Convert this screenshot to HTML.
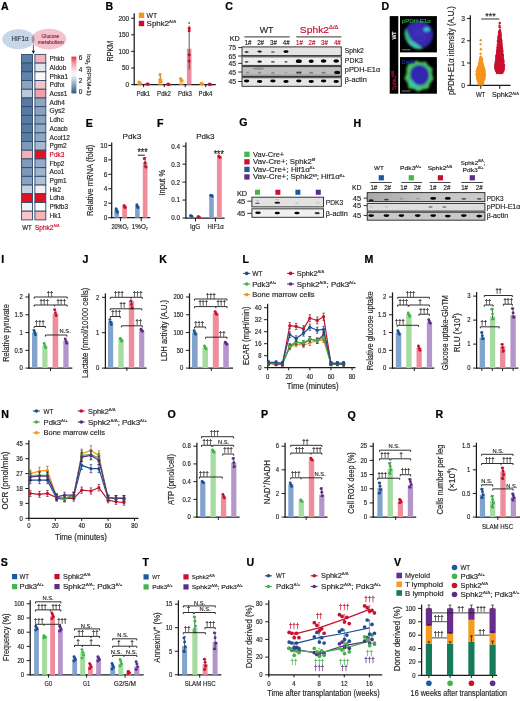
<!DOCTYPE html>
<html lang="en"><head><meta charset="utf-8"><title>Figure</title>
<style>html,body{margin:0;padding:0;background:#fff}svg{display:block}text{font-family:"Liberation Sans",sans-serif}</style></head><body>
<svg width="520" height="701" viewBox="0 0 520 701">
<defs><filter id="bl" x="-5%" y="-50%" width="110%" height="200%"><feGaussianBlur stdDeviation="0.45"/></filter><filter id="bl2" x="-20%" y="-20%" width="140%" height="140%"><feGaussianBlur stdDeviation="0.9"/></filter></defs>
<rect width="520" height="701" fill="#fff"/>
<g>
<text transform="translate(1.00,10.40)" font-size="10.6" fill="#000" font-weight="bold" stroke="#000" stroke-width="0.22">A</text>
<ellipse cx="18.5" cy="39.3" rx="16.2" ry="10.0" fill="#c7d6e8"/>
<ellipse cx="48.9" cy="39.2" rx="17.3" ry="10.4" fill="#f2c3cc"/>
<clipPath id="cpA"><ellipse cx="18.5" cy="39.3" rx="16.2" ry="10.0"/></clipPath>
<ellipse cx="48.9" cy="39.2" rx="17.3" ry="10.4" fill="#a594a6" clip-path="url(#cpA)"/>
<text transform="translate(20.00,41.40) scale(0.8847,1)" font-size="7.0" text-anchor="middle" fill="#2a3848" stroke="#2a3848" stroke-width="0.16">HIF1α</text>
<text transform="translate(50.40,37.60) scale(0.9650,1)" font-size="5.0" text-anchor="middle" fill="#9a2840" stroke="#9a2840" stroke-width="0.16">Glucose</text>
<text transform="translate(50.80,43.80) scale(1.0170,1)" font-size="5.0" text-anchor="middle" fill="#9a2840" stroke="#9a2840" stroke-width="0.16">metabolism</text>
<line x1="33.40" y1="44.50" x2="33.40" y2="51.50" stroke="#1a1a1a" stroke-width="0.7"/>
<path d="M31.9,50.8L34.9,50.8L33.4,54.0Z" fill="#000"/>
<rect x="21.60" y="54.40" width="10.90" height="8.71" fill="#5b7fa6" stroke="#2f4a6b" stroke-width="0.9"/>
<rect x="34.90" y="54.40" width="10.90" height="8.71" fill="#f5b3bb" stroke="#2f4a6b" stroke-width="0.9"/>
<text transform="translate(49.60,61.10) scale(0.9900,1)" font-size="6.6" fill="#231f20" stroke="#231f20" stroke-width="0.16">Phkb</text>
<rect x="21.60" y="63.11" width="10.90" height="8.71" fill="#50739a" stroke="#2f4a6b" stroke-width="0.9"/>
<rect x="34.90" y="63.11" width="10.90" height="8.71" fill="#dfe6ee" stroke="#2f4a6b" stroke-width="0.9"/>
<text transform="translate(49.60,69.81) scale(0.9900,1)" font-size="6.6" fill="#231f20" stroke="#231f20" stroke-width="0.16">Aldob</text>
<rect x="21.60" y="71.82" width="10.90" height="8.71" fill="#6084aa" stroke="#2f4a6b" stroke-width="0.9"/>
<rect x="34.90" y="71.82" width="10.90" height="8.71" fill="#f9f9fa" stroke="#2f4a6b" stroke-width="0.9"/>
<text transform="translate(49.60,78.52) scale(0.9900,1)" font-size="6.6" fill="#231f20" stroke="#231f20" stroke-width="0.16">Phka1</text>
<rect x="21.60" y="80.53" width="10.90" height="8.71" fill="#8ca4c0" stroke="#2f4a6b" stroke-width="0.9"/>
<rect x="34.90" y="80.53" width="10.90" height="8.71" fill="#f5c4ca" stroke="#2f4a6b" stroke-width="0.9"/>
<text transform="translate(49.60,87.23) scale(0.9900,1)" font-size="6.6" fill="#231f20" stroke="#231f20" stroke-width="0.16">Pdhx</text>
<rect x="21.60" y="89.24" width="10.90" height="8.71" fill="#bac9da" stroke="#2f4a6b" stroke-width="0.9"/>
<rect x="34.90" y="89.24" width="10.90" height="8.71" fill="#f09fa8" stroke="#2f4a6b" stroke-width="0.9"/>
<text transform="translate(49.60,95.95) scale(0.9900,1)" font-size="6.6" fill="#231f20" stroke="#231f20" stroke-width="0.16">Acss1</text>
<rect x="21.60" y="97.95" width="10.90" height="8.71" fill="#567aa1" stroke="#2f4a6b" stroke-width="0.9"/>
<rect x="34.90" y="97.95" width="10.90" height="8.71" fill="#8fa6c2" stroke="#2f4a6b" stroke-width="0.9"/>
<text transform="translate(49.60,104.66) scale(0.9900,1)" font-size="6.6" fill="#231f20" stroke="#231f20" stroke-width="0.16">Adh4</text>
<rect x="21.60" y="106.66" width="10.90" height="8.71" fill="#567aa1" stroke="#2f4a6b" stroke-width="0.9"/>
<rect x="34.90" y="106.66" width="10.90" height="8.71" fill="#8aa2bf" stroke="#2f4a6b" stroke-width="0.9"/>
<text transform="translate(49.60,113.36) scale(0.9900,1)" font-size="6.6" fill="#231f20" stroke="#231f20" stroke-width="0.16">Gys2</text>
<rect x="21.60" y="115.37" width="10.90" height="8.71" fill="#587ba2" stroke="#2f4a6b" stroke-width="0.9"/>
<rect x="34.90" y="115.37" width="10.90" height="8.71" fill="#8aa2bf" stroke="#2f4a6b" stroke-width="0.9"/>
<text transform="translate(49.60,122.08) scale(0.9900,1)" font-size="6.6" fill="#231f20" stroke="#231f20" stroke-width="0.16">Ldhc</text>
<rect x="21.60" y="124.08" width="10.90" height="8.71" fill="#587ba2" stroke="#2f4a6b" stroke-width="0.9"/>
<rect x="34.90" y="124.08" width="10.90" height="8.71" fill="#95abc5" stroke="#2f4a6b" stroke-width="0.9"/>
<text transform="translate(49.60,130.78) scale(0.9900,1)" font-size="6.6" fill="#231f20" stroke="#231f20" stroke-width="0.16">Acacb</text>
<rect x="21.60" y="132.79" width="10.90" height="8.71" fill="#5a7da3" stroke="#2f4a6b" stroke-width="0.9"/>
<rect x="34.90" y="132.79" width="10.90" height="8.71" fill="#8fa6c2" stroke="#2f4a6b" stroke-width="0.9"/>
<text transform="translate(49.60,139.50) scale(0.9900,1)" font-size="6.6" fill="#231f20" stroke="#231f20" stroke-width="0.16">Acot12</text>
<rect x="21.60" y="141.50" width="10.90" height="8.71" fill="#7f9bba" stroke="#2f4a6b" stroke-width="0.9"/>
<rect x="34.90" y="141.50" width="10.90" height="8.71" fill="#a5b8cf" stroke="#2f4a6b" stroke-width="0.9"/>
<text transform="translate(49.60,148.20) scale(0.9900,1)" font-size="6.6" fill="#231f20" stroke="#231f20" stroke-width="0.16">Pgm2</text>
<rect x="21.60" y="150.21" width="10.90" height="8.71" fill="#f5b0b6" stroke="#2f4a6b" stroke-width="0.9"/>
<rect x="34.90" y="150.21" width="10.90" height="8.71" fill="#e50f1f" stroke="#2f4a6b" stroke-width="0.9"/>
<text transform="translate(49.60,156.91) scale(0.9900,1)" font-size="6.6" fill="#c8102e" stroke="#c8102e" stroke-width="0.16">Pdk3</text>
<rect x="21.60" y="158.92" width="10.90" height="8.71" fill="#7f9bba" stroke="#2f4a6b" stroke-width="0.9"/>
<rect x="34.90" y="158.92" width="10.90" height="8.71" fill="#96accb" stroke="#2f4a6b" stroke-width="0.9"/>
<text transform="translate(49.60,165.62) scale(0.9900,1)" font-size="6.6" fill="#231f20" stroke="#231f20" stroke-width="0.16">Fbp2</text>
<rect x="21.60" y="167.63" width="10.90" height="8.71" fill="#7d98b8" stroke="#2f4a6b" stroke-width="0.9"/>
<rect x="34.90" y="167.63" width="10.90" height="8.71" fill="#a0b4cc" stroke="#2f4a6b" stroke-width="0.9"/>
<text transform="translate(49.60,174.34) scale(0.9900,1)" font-size="6.6" fill="#231f20" stroke="#231f20" stroke-width="0.16">Aco1</text>
<rect x="21.60" y="176.34" width="10.90" height="8.71" fill="#8aa3c0" stroke="#2f4a6b" stroke-width="0.9"/>
<rect x="34.90" y="176.34" width="10.90" height="8.71" fill="#b0c0d5" stroke="#2f4a6b" stroke-width="0.9"/>
<text transform="translate(49.60,183.04) scale(0.9900,1)" font-size="6.6" fill="#231f20" stroke="#231f20" stroke-width="0.16">Pgm1</text>
<rect x="21.60" y="185.05" width="10.90" height="8.71" fill="#c5d2e0" stroke="#2f4a6b" stroke-width="0.9"/>
<rect x="34.90" y="185.05" width="10.90" height="8.71" fill="#f3eff1" stroke="#2f4a6b" stroke-width="0.9"/>
<text transform="translate(49.60,191.75) scale(0.9900,1)" font-size="6.6" fill="#231f20" stroke="#231f20" stroke-width="0.16">Hk2</text>
<rect x="21.60" y="193.76" width="10.90" height="8.71" fill="#e50f1f" stroke="#2f4a6b" stroke-width="0.9"/>
<rect x="34.90" y="193.76" width="10.90" height="8.71" fill="#e50f1f" stroke="#2f4a6b" stroke-width="0.9"/>
<text transform="translate(49.60,200.47) scale(0.9900,1)" font-size="6.6" fill="#231f20" stroke="#231f20" stroke-width="0.16">Ldha</text>
<rect x="21.60" y="202.47" width="10.90" height="8.71" fill="#f0f3f6" stroke="#2f4a6b" stroke-width="0.9"/>
<rect x="34.90" y="202.47" width="10.90" height="8.71" fill="#fdfdfd" stroke="#2f4a6b" stroke-width="0.9"/>
<text transform="translate(49.60,209.18) scale(0.9900,1)" font-size="6.6" fill="#231f20" stroke="#231f20" stroke-width="0.16">Pfkfb3</text>
<rect x="21.60" y="211.18" width="10.90" height="8.71" fill="#f8c6c9" stroke="#2f4a6b" stroke-width="0.9"/>
<rect x="34.90" y="211.18" width="10.90" height="8.71" fill="#f5b4b8" stroke="#2f4a6b" stroke-width="0.9"/>
<text transform="translate(49.60,217.89) scale(0.9900,1)" font-size="6.6" fill="#231f20" stroke="#231f20" stroke-width="0.16">Hk1</text>
<text transform="translate(22.20,230.00) scale(0.9500,1)" font-size="6.5" fill="#231f20" stroke="#231f20" stroke-width="0.16">WT</text>
<text transform="translate(35.00,230.00) scale(1.0039,1)" font-size="6.5" fill="#c8102e" stroke="#c8102e" stroke-width="0.16">Sphk2<tspan dy="-2.60" font-size="3.64">Δ/Δ</tspan></text>
<defs><linearGradient id="cb" x1="0" y1="0" x2="0" y2="1"><stop offset="0" stop-color="#e8323c"/><stop offset="0.18" stop-color="#f29aa0"/><stop offset="0.42" stop-color="#fbeff0"/><stop offset="0.5" stop-color="#f4f6f9"/><stop offset="0.72" stop-color="#9db3cc"/><stop offset="1" stop-color="#2f5580"/></linearGradient></defs>
<rect x="71.40" y="56.60" width="5.00" height="36.80" fill="url(#cb)"/>
<text transform="translate(78.80,60.00) scale(0.9800,1)" font-size="6.6" fill="#231f20" stroke="#231f20" stroke-width="0.16">6</text>
<text transform="translate(78.80,71.70) scale(0.9800,1)" font-size="6.6" fill="#231f20" stroke="#231f20" stroke-width="0.16">4</text>
<text transform="translate(78.80,83.20) scale(0.9800,1)" font-size="6.6" fill="#231f20" stroke="#231f20" stroke-width="0.16">2</text>
<text transform="translate(78.80,94.40) scale(0.9800,1)" font-size="6.6" fill="#231f20" stroke="#231f20" stroke-width="0.16">0</text>
<text transform="translate(86.60,54.20) rotate(90) scale(1.0088,1)" font-size="6.2" fill="#231f20" stroke="#231f20" stroke-width="0.16">log<tspan dy="1.24" font-size="3.47">2</tspan><tspan dy="-1.24" font-size="6.20"> (RPKM+1)</tspan></text>
</g>
<g>
<text transform="translate(105.60,10.20)" font-size="10.6" fill="#000" font-weight="bold" stroke="#000" stroke-width="0.22">B</text>
<line x1="134.20" y1="13.20" x2="134.20" y2="85.22" stroke="#1a1a1a" stroke-width="1.25"/>
<line x1="131.17" y1="84.60" x2="134.20" y2="84.60" stroke="#1a1a1a" stroke-width="1.0"/>
<text transform="translate(129.17,87.01) scale(0.9500,1)" font-size="6.8" text-anchor="end" fill="#231f20" stroke="#231f20" stroke-width="0.16">0</text>
<line x1="131.17" y1="68.00" x2="134.20" y2="68.00" stroke="#1a1a1a" stroke-width="1.0"/>
<text transform="translate(129.17,70.41) scale(0.9500,1)" font-size="6.8" text-anchor="end" fill="#231f20" stroke="#231f20" stroke-width="0.16">50</text>
<line x1="131.17" y1="51.40" x2="134.20" y2="51.40" stroke="#1a1a1a" stroke-width="1.0"/>
<text transform="translate(129.17,53.81) scale(0.9500,1)" font-size="6.8" text-anchor="end" fill="#231f20" stroke="#231f20" stroke-width="0.16">100</text>
<line x1="131.17" y1="34.80" x2="134.20" y2="34.80" stroke="#1a1a1a" stroke-width="1.0"/>
<text transform="translate(129.17,37.21) scale(0.9500,1)" font-size="6.8" text-anchor="end" fill="#231f20" stroke="#231f20" stroke-width="0.16">150</text>
<line x1="131.17" y1="18.20" x2="134.20" y2="18.20" stroke="#1a1a1a" stroke-width="1.0"/>
<text transform="translate(129.17,20.61) scale(0.9500,1)" font-size="6.8" text-anchor="end" fill="#231f20" stroke="#231f20" stroke-width="0.16">200</text>
<line x1="133.57" y1="84.60" x2="215.80" y2="84.60" stroke="#1a1a1a" stroke-width="1.25"/>
<line x1="143.60" y1="84.60" x2="143.60" y2="87.22" stroke="#1a1a1a" stroke-width="1.0"/>
<line x1="164.30" y1="84.60" x2="164.30" y2="87.22" stroke="#1a1a1a" stroke-width="1.0"/>
<line x1="185.20" y1="84.60" x2="185.20" y2="87.22" stroke="#1a1a1a" stroke-width="1.0"/>
<line x1="205.80" y1="84.60" x2="205.80" y2="87.22" stroke="#1a1a1a" stroke-width="1.0"/>
<text transform="translate(112.60,51.20) rotate(-90) scale(0.8529,1)" font-size="8.4" text-anchor="middle" fill="#231f20" stroke="#231f20" stroke-width="0.16">RPKM</text>
<text transform="translate(143.30,95.60) scale(0.9173,1)" font-size="6.6" text-anchor="middle" fill="#231f20" stroke="#231f20" stroke-width="0.16">Pdk1</text>
<text transform="translate(164.00,95.60) scale(0.9173,1)" font-size="6.6" text-anchor="middle" fill="#231f20" stroke="#231f20" stroke-width="0.16">Pdk2</text>
<text transform="translate(184.90,95.60) scale(0.9173,1)" font-size="6.6" text-anchor="middle" fill="#231f20" stroke="#231f20" stroke-width="0.16">Pdk3</text>
<text transform="translate(205.50,95.60) scale(0.9173,1)" font-size="6.6" text-anchor="middle" fill="#231f20" stroke="#231f20" stroke-width="0.16">Pdk4</text>
<rect x="137.50" y="82.61" width="4.30" height="1.99" fill="#fbc27a"/>
<rect x="145.30" y="84.10" width="4.60" height="0.50" fill="#f08d9d"/>
<rect x="158.20" y="78.62" width="4.30" height="5.98" fill="#fbc27a"/>
<rect x="166.00" y="84.27" width="4.60" height="0.33" fill="#f08d9d"/>
<rect x="179.10" y="79.62" width="4.30" height="4.98" fill="#fbc27a"/>
<rect x="186.90" y="48.74" width="4.60" height="35.86" fill="#f08d9d"/>
<rect x="199.70" y="83.60" width="4.30" height="1.00" fill="#fbc27a"/>
<rect x="207.50" y="84.27" width="4.60" height="0.33" fill="#f08d9d"/>
<line x1="160.30" y1="73.98" x2="160.30" y2="82.61" stroke="#444" stroke-width="0.7"/>
<line x1="159.10" y1="73.98" x2="161.50" y2="73.98" stroke="#444" stroke-width="0.7"/>
<line x1="159.10" y1="82.61" x2="161.50" y2="82.61" stroke="#444" stroke-width="0.7"/>
<line x1="189.20" y1="25.50" x2="189.20" y2="69.66" stroke="#444" stroke-width="0.9"/>
<circle cx="138.88" cy="81.94" r="1.50" fill="#f7941d"/>
<circle cx="139.60" cy="82.61" r="1.50" fill="#f7941d"/>
<circle cx="140.32" cy="83.27" r="1.50" fill="#f7941d"/>
<circle cx="146.88" cy="83.94" r="1.50" fill="#c8102e"/>
<circle cx="147.60" cy="84.27" r="1.50" fill="#c8102e"/>
<circle cx="148.32" cy="84.10" r="1.50" fill="#c8102e"/>
<circle cx="159.98" cy="74.64" r="1.50" fill="#f7941d"/>
<circle cx="160.30" cy="79.62" r="1.50" fill="#f7941d"/>
<circle cx="160.62" cy="81.61" r="1.50" fill="#f7941d"/>
<circle cx="167.58" cy="84.27" r="1.50" fill="#c8102e"/>
<circle cx="168.30" cy="84.10" r="1.50" fill="#c8102e"/>
<circle cx="169.02" cy="84.43" r="1.50" fill="#c8102e"/>
<circle cx="180.48" cy="78.62" r="1.50" fill="#f7941d"/>
<circle cx="181.20" cy="79.62" r="1.50" fill="#f7941d"/>
<circle cx="181.92" cy="80.62" r="1.50" fill="#f7941d"/>
<circle cx="189.20" cy="28.16" r="1.50" fill="#c8102e"/>
<circle cx="189.20" cy="30.82" r="1.50" fill="#c8102e"/>
<circle cx="189.20" cy="54.72" r="1.50" fill="#c8102e"/>
<circle cx="189.20" cy="61.03" r="1.50" fill="#c8102e"/>
<circle cx="201.08" cy="83.27" r="1.50" fill="#f7941d"/>
<circle cx="201.80" cy="83.60" r="1.50" fill="#f7941d"/>
<circle cx="202.52" cy="83.94" r="1.50" fill="#f7941d"/>
<circle cx="209.08" cy="84.27" r="1.50" fill="#c8102e"/>
<circle cx="209.80" cy="84.10" r="1.50" fill="#c8102e"/>
<circle cx="210.52" cy="84.43" r="1.50" fill="#c8102e"/>
<circle cx="189.20" cy="23.00" r="0.80" fill="#1a1a1a"/>
<rect x="138.80" y="12.60" width="5.40" height="5.40" fill="#f7941d"/>
<text transform="translate(146.60,17.70) scale(0.9214,1)" font-size="7.4" fill="#231f20" stroke="#231f20" stroke-width="0.16">WT</text>
<rect x="138.80" y="20.80" width="5.40" height="5.40" fill="#c8102e"/>
<text transform="translate(146.60,25.80) scale(1.0697,1)" font-size="7.4" fill="#231f20" stroke="#231f20" stroke-width="0.16">Sphk2<tspan dy="-2.96" font-size="4.14">Δ/Δ</tspan></text>
</g>
<g>
<text transform="translate(225.20,9.80)" font-size="10.6" fill="#000" font-weight="bold" stroke="#000" stroke-width="0.22">C</text>
<text transform="translate(266.60,33.10) scale(0.9246,1)" font-size="9.6" text-anchor="middle" fill="#231f20" stroke="#231f20" stroke-width="0.16">WT</text>
<text transform="translate(319.10,33.00) scale(1.0753,1)" font-size="9.6" text-anchor="middle" fill="#c8102e" stroke="#c8102e" stroke-width="0.16">Sphk2<tspan dy="-3.84" font-size="5.38">Δ/Δ</tspan></text>
<line x1="244.30" y1="36.90" x2="289.70" y2="36.90" stroke="#333" stroke-width="1.0"/>
<line x1="296.30" y1="36.90" x2="341.30" y2="36.90" stroke="#333" stroke-width="1.0"/>
<text transform="translate(248.10,44.50) scale(0.8860,1)" font-size="6.9" text-anchor="middle" fill="#231f20" stroke="#231f20" stroke-width="0.16">1#</text>
<text transform="translate(260.60,44.50) scale(0.8860,1)" font-size="6.9" text-anchor="middle" fill="#231f20" stroke="#231f20" stroke-width="0.16">2#</text>
<text transform="translate(273.50,44.50) scale(0.8860,1)" font-size="6.9" text-anchor="middle" fill="#231f20" stroke="#231f20" stroke-width="0.16">3#</text>
<text transform="translate(286.20,44.50) scale(0.8860,1)" font-size="6.9" text-anchor="middle" fill="#231f20" stroke="#231f20" stroke-width="0.16">4#</text>
<text transform="translate(299.50,44.50) scale(0.8860,1)" font-size="6.9" text-anchor="middle" fill="#c8102e" stroke="#c8102e" stroke-width="0.16">1#</text>
<text transform="translate(311.90,44.50) scale(0.8860,1)" font-size="6.9" text-anchor="middle" fill="#c8102e" stroke="#c8102e" stroke-width="0.16">2#</text>
<text transform="translate(324.50,44.50) scale(0.8860,1)" font-size="6.9" text-anchor="middle" fill="#c8102e" stroke="#c8102e" stroke-width="0.16">3#</text>
<text transform="translate(337.30,44.50) scale(0.8860,1)" font-size="6.9" text-anchor="middle" fill="#c8102e" stroke="#c8102e" stroke-width="0.16">4#</text>
<text transform="translate(229.70,40.50) scale(1.0283,1)" font-size="7.0" fill="#231f20" stroke="#231f20" stroke-width="0.16">KD</text>
<text transform="translate(228.40,50.10) scale(0.9761,1)" font-size="7.0" fill="#231f20" stroke="#231f20" stroke-width="0.16">75</text>
<line x1="238.20" y1="47.60" x2="242.00" y2="47.60" stroke="#1a1a1a" stroke-width="0.9"/>
<text transform="translate(228.40,58.50) scale(0.9761,1)" font-size="7.0" fill="#231f20" stroke="#231f20" stroke-width="0.16">65</text>
<line x1="238.20" y1="56.00" x2="242.00" y2="56.00" stroke="#1a1a1a" stroke-width="0.9"/>
<text transform="translate(228.40,65.90) scale(0.9761,1)" font-size="7.0" fill="#231f20" stroke="#231f20" stroke-width="0.16">45</text>
<line x1="238.20" y1="63.40" x2="242.00" y2="63.40" stroke="#1a1a1a" stroke-width="0.9"/>
<text transform="translate(228.40,74.50) scale(0.9761,1)" font-size="7.0" fill="#231f20" stroke="#231f20" stroke-width="0.16">45</text>
<line x1="238.20" y1="72.00" x2="242.00" y2="72.00" stroke="#1a1a1a" stroke-width="0.9"/>
<text transform="translate(228.40,84.00) scale(0.9761,1)" font-size="7.0" fill="#231f20" stroke="#231f20" stroke-width="0.16">45</text>
<line x1="238.20" y1="81.50" x2="242.00" y2="81.50" stroke="#1a1a1a" stroke-width="0.9"/>
<rect x="241.53" y="46.42" width="100.25" height="9.65" fill="#2b2b2b"/>
<rect x="242.47" y="47.38" width="98.35" height="7.75" fill="#e4e4e4"/>
<g filter="url(#bl)">
<ellipse cx="246.60" cy="52.00" rx="2.00" ry="0.90" fill="#222" opacity="0.85"/>
<ellipse cx="259.60" cy="51.60" rx="2.30" ry="1.10" fill="#111" opacity="0.95"/>
<ellipse cx="272.90" cy="52.00" rx="2.00" ry="0.80" fill="#333" opacity="0.8"/>
<ellipse cx="286.00" cy="51.60" rx="2.60" ry="1.30" fill="#000" opacity="1"/>
</g>
<rect x="241.53" y="56.32" width="100.25" height="9.55" fill="#2b2b2b"/>
<rect x="242.47" y="57.27" width="98.35" height="7.65" fill="#eeeeee"/>
<g filter="url(#bl)">
<ellipse cx="246.60" cy="61.80" rx="1.90" ry="0.90" fill="#222" opacity="0.85"/>
<ellipse cx="259.60" cy="61.60" rx="2.30" ry="1.20" fill="#111" opacity="0.95"/>
<ellipse cx="272.90" cy="61.90" rx="2.00" ry="0.80" fill="#333" opacity="0.8"/>
<ellipse cx="286.00" cy="61.80" rx="1.60" ry="0.90" fill="#333" opacity="0.8"/>
<ellipse cx="298.80" cy="61.20" rx="3.00" ry="1.90" fill="#000" opacity="1"/>
<ellipse cx="311.20" cy="61.20" rx="2.60" ry="1.70" fill="#000" opacity="1"/>
<ellipse cx="323.60" cy="61.00" rx="2.80" ry="1.70" fill="#000" opacity="1"/>
<ellipse cx="336.20" cy="61.00" rx="2.80" ry="1.80" fill="#000" opacity="1"/>
</g>
<rect x="241.53" y="66.12" width="100.25" height="10.85" fill="#2b2b2b"/>
<rect x="242.47" y="67.07" width="98.35" height="8.95" fill="#bdbdbd"/>
<g filter="url(#bl)">
<ellipse cx="258.60" cy="68.60" rx="6.00" ry="1.40" fill="#666" opacity="0.45"/>
<ellipse cx="247.60" cy="72.60" rx="1.80" ry="0.90" fill="#444" opacity="0.4"/>
<ellipse cx="259.60" cy="72.60" rx="1.80" ry="0.90" fill="#444" opacity="0.45"/>
<ellipse cx="272.90" cy="73.00" rx="1.80" ry="0.90" fill="#555" opacity="0.45"/>
<ellipse cx="286.00" cy="72.60" rx="1.60" ry="0.80" fill="#555" opacity="0.3"/>
<ellipse cx="297.60" cy="72.60" rx="1.20" ry="1.20" fill="#111" opacity="0.8"/>
<ellipse cx="300.20" cy="72.60" rx="1.20" ry="1.20" fill="#111" opacity="0.8"/>
<ellipse cx="311.20" cy="72.80" rx="2.20" ry="1.00" fill="#444" opacity="0.5"/>
<ellipse cx="323.60" cy="72.80" rx="2.20" ry="1.00" fill="#444" opacity="0.5"/>
<ellipse cx="337.20" cy="72.40" rx="3.00" ry="1.70" fill="#000" opacity="0.95"/>
</g>
<rect x="242.50" y="74.40" width="98.30" height="1.70" fill="#777" opacity="0.45"/>
<rect x="241.53" y="77.23" width="100.25" height="9.55" fill="#2b2b2b"/>
<rect x="242.47" y="78.17" width="98.35" height="7.65" fill="#e6e6e6"/>
<g filter="url(#bl)">
<ellipse cx="246.60" cy="81.00" rx="2.70" ry="1.45" fill="#000" opacity="1"/>
<ellipse cx="259.60" cy="81.50" rx="2.70" ry="1.45" fill="#000" opacity="1"/>
<ellipse cx="272.90" cy="81.00" rx="2.70" ry="1.45" fill="#000" opacity="1"/>
<ellipse cx="286.00" cy="81.50" rx="2.70" ry="1.45" fill="#000" opacity="1"/>
<ellipse cx="298.80" cy="81.00" rx="2.70" ry="1.45" fill="#000" opacity="1"/>
<ellipse cx="311.20" cy="81.50" rx="2.70" ry="1.45" fill="#000" opacity="1"/>
<ellipse cx="323.60" cy="81.00" rx="2.70" ry="1.45" fill="#000" opacity="1"/>
<ellipse cx="336.20" cy="81.50" rx="2.70" ry="1.45" fill="#000" opacity="1"/>
</g>
<text transform="translate(344.80,52.80) scale(0.9572,1)" font-size="7.0" fill="#231f20" stroke="#231f20" stroke-width="0.16">Sphk2</text>
<text transform="translate(344.80,63.20) scale(0.9952,1)" font-size="7.0" fill="#231f20" stroke="#231f20" stroke-width="0.16">PDK3</text>
<text transform="translate(344.80,72.40) scale(1.0561,1)" font-size="7.0" fill="#231f20" stroke="#231f20" stroke-width="0.16">pPDH-E1α</text>
<text transform="translate(344.80,82.20) scale(1.0405,1)" font-size="7.0" fill="#231f20" stroke="#231f20" stroke-width="0.16">β-actin</text>
</g>
<g>
<text transform="translate(381.50,10.00)" font-size="10.6" fill="#000" font-weight="bold" stroke="#000" stroke-width="0.22">D</text>
<rect x="389.70" y="16.10" width="8.60" height="77.60" fill="#000"/>
<rect x="400.00" y="16.10" width="36.90" height="36.30" fill="#000"/>
<rect x="400.00" y="57.10" width="36.90" height="36.60" fill="#000"/>
<text transform="translate(396.40,35.50) rotate(-90) scale(0.9000,1)" font-size="5.8" text-anchor="middle" fill="#fff" stroke="#fff" stroke-width="0.16">WT</text>
<text transform="translate(396.40,80.50) rotate(-90) scale(0.9000,1)" font-size="5.8" text-anchor="middle" fill="#b01030" stroke="#b01030" stroke-width="0.16">Sphk2<tspan dy="-2.32" font-size="3.25">Δ/Δ</tspan></text>
<defs><radialGradient id="cellb" cx="0.5" cy="0.45" r="0.55"><stop offset="0" stop-color="#4030c0"/><stop offset="0.8" stop-color="#3626aa"/><stop offset="1" stop-color="#221a78"/></radialGradient><clipPath id="cpD1"><circle cx="418.9" cy="34.8" r="14.6"/></clipPath></defs>
<g filter="url(#bl2)">
<circle cx="418.90" cy="34.80" r="14.30" fill="url(#cellb)"/>
<g clip-path="url(#cpD1)">
<path d="M404,31 Q405.5,46 421,50.5 Q424,50 420,46 Q411,42 408,34 Q406,30 405.5,27 Z" fill="#35c070"/>
<ellipse cx="414" cy="44.8" rx="6.5" ry="2.2" fill="#40c8b0" transform="rotate(32 414 44.8)"/>
<ellipse cx="426.7" cy="29.4" rx="3.0" ry="2.2" fill="#38c8c8"/>
</g></g>
<g filter="url(#bl2)">
<path d="M406.5,68 L408.5,63.5 L413,63 L416,60.6 L421,62.2 L425.5,61.6 L428.5,65.6 L432.6,68.5 L432,74 L433.6,79 L430,83.5 L428.6,88.4 L423,89.6 L418,91.8 L413.6,89 L408.6,88.4 L407.6,83 L404.4,78.6 L406.4,73.5 Z" fill="#44bf5c"/>
<path d="M411,70 Q414,64.4 421,65 Q428,67 429,74 Q429.6,81 423.6,85 Q415.5,86.6 411.6,81 Q409.4,75.5 411,70Z" fill="#3226b0"/>
<path d="M408.6,81 Q413,90.5 424,88 Q416.5,87.6 412.4,80Z" fill="#40c8c0" opacity="0.85"/>
</g>
<text transform="translate(401.80,22.60) scale(1.0065,1)" font-size="6.0" fill="#2fa84e" stroke="#2fa84e" stroke-width="0.16">pPDH-E1α</text>
<text transform="translate(401.80,63.90) scale(0.9283,1)" font-size="6.0" fill="#2433a8" stroke="#2433a8" stroke-width="0.16">DAPI</text>
<line x1="401.80" y1="49.80" x2="410.50" y2="49.80" stroke="#ccc" stroke-width="0.6"/>
<line x1="401.80" y1="91.00" x2="410.50" y2="91.00" stroke="#ccc" stroke-width="0.6"/>
<line x1="470.30" y1="15.30" x2="470.30" y2="85.92" stroke="#1a1a1a" stroke-width="1.25"/>
<line x1="467.07" y1="85.30" x2="470.30" y2="85.30" stroke="#1a1a1a" stroke-width="1.0"/>
<text transform="translate(465.07,87.78) scale(0.9600,1)" font-size="7.0" text-anchor="end" fill="#231f20" stroke="#231f20" stroke-width="0.16">0</text>
<line x1="467.07" y1="63.03" x2="470.30" y2="63.03" stroke="#1a1a1a" stroke-width="1.0"/>
<text transform="translate(465.07,65.52) scale(0.9600,1)" font-size="7.0" text-anchor="end" fill="#231f20" stroke="#231f20" stroke-width="0.16">1</text>
<line x1="467.07" y1="40.77" x2="470.30" y2="40.77" stroke="#1a1a1a" stroke-width="1.0"/>
<text transform="translate(465.07,43.25) scale(0.9600,1)" font-size="7.0" text-anchor="end" fill="#231f20" stroke="#231f20" stroke-width="0.16">2</text>
<line x1="467.07" y1="18.50" x2="470.30" y2="18.50" stroke="#1a1a1a" stroke-width="1.0"/>
<text transform="translate(465.07,20.98) scale(0.9600,1)" font-size="7.0" text-anchor="end" fill="#231f20" stroke="#231f20" stroke-width="0.16">3</text>
<line x1="469.68" y1="85.30" x2="510.50" y2="85.30" stroke="#1a1a1a" stroke-width="1.25"/>
<line x1="480.80" y1="85.30" x2="480.80" y2="88.83" stroke="#1a1a1a" stroke-width="1.0"/>
<line x1="499.70" y1="85.30" x2="499.70" y2="88.83" stroke="#1a1a1a" stroke-width="1.0"/>
<text transform="translate(454.00,50.60) rotate(-90) scale(0.8691,1)" font-size="8.8" text-anchor="middle" fill="#231f20" stroke="#231f20" stroke-width="0.16">pPDH-E1α intensity (A.U.)</text>
<text transform="translate(480.60,97.40) scale(0.9161,1)" font-size="6.6" text-anchor="middle" fill="#231f20" stroke="#231f20" stroke-width="0.16">WT</text>
<text transform="translate(505.40,97.40) scale(1.0940,1)" font-size="6.6" text-anchor="middle" fill="#231f20" stroke="#231f20" stroke-width="0.16">Sphk2<tspan dy="-2.64" font-size="3.70">Δ/Δ</tspan></text>
<text transform="translate(490.50,19.40) scale(0.9280,1)" font-size="9.6" text-anchor="middle" fill="#231f20" stroke="#231f20" stroke-width="0.2">***</text>
<line x1="481.20" y1="19.00" x2="499.40" y2="19.00" stroke="#444" stroke-width="1.1"/>
<g fill="#f7941d">
<circle cx="479.21" cy="84.20" r="1.2"/>
<circle cx="480.38" cy="84.15" r="1.2"/>
<circle cx="481.32" cy="84.33" r="1.2"/>
<circle cx="482.08" cy="84.41" r="1.2"/>
<circle cx="478.52" cy="83.12" r="1.2"/>
<circle cx="479.56" cy="82.91" r="1.2"/>
<circle cx="480.76" cy="83.36" r="1.2"/>
<circle cx="481.64" cy="82.99" r="1.2"/>
<circle cx="482.91" cy="83.43" r="1.2"/>
<circle cx="478.47" cy="81.85" r="1.2"/>
<circle cx="479.85" cy="81.64" r="1.2"/>
<circle cx="480.98" cy="81.78" r="1.2"/>
<circle cx="481.81" cy="81.68" r="1.2"/>
<circle cx="483.08" cy="82.10" r="1.2"/>
<circle cx="477.84" cy="80.71" r="1.2"/>
<circle cx="479.19" cy="80.58" r="1.2"/>
<circle cx="480.26" cy="80.40" r="1.2"/>
<circle cx="481.14" cy="80.48" r="1.2"/>
<circle cx="482.57" cy="80.62" r="1.2"/>
<circle cx="483.51" cy="80.71" r="1.2"/>
<circle cx="477.65" cy="79.29" r="1.2"/>
<circle cx="479.07" cy="79.53" r="1.2"/>
<circle cx="480.05" cy="79.45" r="1.2"/>
<circle cx="481.44" cy="79.63" r="1.2"/>
<circle cx="482.79" cy="79.28" r="1.2"/>
<circle cx="484.17" cy="79.18" r="1.2"/>
<circle cx="477.26" cy="78.31" r="1.2"/>
<circle cx="478.29" cy="78.15" r="1.2"/>
<circle cx="479.40" cy="78.26" r="1.2"/>
<circle cx="480.93" cy="78.20" r="1.2"/>
<circle cx="482.15" cy="78.05" r="1.2"/>
<circle cx="483.23" cy="78.22" r="1.2"/>
<circle cx="484.34" cy="78.13" r="1.2"/>
<circle cx="477.28" cy="77.18" r="1.2"/>
<circle cx="478.33" cy="77.01" r="1.2"/>
<circle cx="479.35" cy="77.03" r="1.2"/>
<circle cx="480.87" cy="77.21" r="1.2"/>
<circle cx="482.19" cy="76.78" r="1.2"/>
<circle cx="483.20" cy="77.01" r="1.2"/>
<circle cx="484.25" cy="76.89" r="1.2"/>
<circle cx="476.75" cy="75.43" r="1.2"/>
<circle cx="477.99" cy="75.82" r="1.2"/>
<circle cx="479.32" cy="75.51" r="1.2"/>
<circle cx="480.75" cy="75.88" r="1.2"/>
<circle cx="481.89" cy="75.63" r="1.2"/>
<circle cx="483.41" cy="75.89" r="1.2"/>
<circle cx="484.84" cy="75.88" r="1.2"/>
<circle cx="476.53" cy="74.36" r="1.2"/>
<circle cx="477.76" cy="74.64" r="1.2"/>
<circle cx="479.25" cy="74.20" r="1.2"/>
<circle cx="480.04" cy="74.25" r="1.2"/>
<circle cx="481.26" cy="74.40" r="1.2"/>
<circle cx="482.63" cy="74.27" r="1.2"/>
<circle cx="483.52" cy="74.36" r="1.2"/>
<circle cx="484.90" cy="74.45" r="1.2"/>
<circle cx="477.07" cy="73.27" r="1.2"/>
<circle cx="478.17" cy="73.23" r="1.2"/>
<circle cx="479.57" cy="72.89" r="1.2"/>
<circle cx="481.00" cy="73.33" r="1.2"/>
<circle cx="482.31" cy="73.34" r="1.2"/>
<circle cx="483.39" cy="73.10" r="1.2"/>
<circle cx="484.56" cy="73.24" r="1.2"/>
<circle cx="476.81" cy="71.65" r="1.2"/>
<circle cx="478.14" cy="71.71" r="1.2"/>
<circle cx="479.46" cy="71.64" r="1.2"/>
<circle cx="480.55" cy="71.70" r="1.2"/>
<circle cx="481.86" cy="71.83" r="1.2"/>
<circle cx="483.07" cy="72.13" r="1.2"/>
<circle cx="484.62" cy="71.70" r="1.2"/>
<circle cx="477.10" cy="70.57" r="1.2"/>
<circle cx="478.35" cy="70.43" r="1.2"/>
<circle cx="479.78" cy="70.96" r="1.2"/>
<circle cx="480.78" cy="70.65" r="1.2"/>
<circle cx="481.78" cy="70.42" r="1.2"/>
<circle cx="483.10" cy="70.52" r="1.2"/>
<circle cx="484.54" cy="70.46" r="1.2"/>
<circle cx="477.31" cy="69.68" r="1.2"/>
<circle cx="478.86" cy="69.20" r="1.2"/>
<circle cx="480.17" cy="69.13" r="1.2"/>
<circle cx="481.46" cy="69.70" r="1.2"/>
<circle cx="482.93" cy="69.53" r="1.2"/>
<circle cx="483.93" cy="69.33" r="1.2"/>
<circle cx="477.71" cy="68.32" r="1.2"/>
<circle cx="479.06" cy="68.33" r="1.2"/>
<circle cx="480.13" cy="67.99" r="1.2"/>
<circle cx="481.54" cy="68.45" r="1.2"/>
<circle cx="482.73" cy="68.34" r="1.2"/>
<circle cx="483.89" cy="68.30" r="1.2"/>
<circle cx="478.17" cy="66.92" r="1.2"/>
<circle cx="479.48" cy="66.63" r="1.2"/>
<circle cx="480.56" cy="66.78" r="1.2"/>
<circle cx="481.93" cy="67.02" r="1.2"/>
<circle cx="483.52" cy="66.88" r="1.2"/>
<circle cx="478.84" cy="65.95" r="1.2"/>
<circle cx="479.94" cy="65.58" r="1.2"/>
<circle cx="480.66" cy="65.50" r="1.2"/>
<circle cx="481.74" cy="65.48" r="1.2"/>
<circle cx="483.04" cy="65.90" r="1.2"/>
<circle cx="479.22" cy="64.40" r="1.2"/>
<circle cx="480.29" cy="64.59" r="1.2"/>
<circle cx="481.18" cy="64.51" r="1.2"/>
<circle cx="482.75" cy="64.58" r="1.2"/>
<circle cx="479.47" cy="63.15" r="1.2"/>
<circle cx="480.15" cy="63.33" r="1.2"/>
<circle cx="481.20" cy="63.34" r="1.2"/>
<circle cx="482.49" cy="63.10" r="1.2"/>
<circle cx="479.60" cy="62.18" r="1.2"/>
<circle cx="480.91" cy="61.71" r="1.2"/>
<circle cx="481.76" cy="61.70" r="1.2"/>
<circle cx="479.98" cy="60.84" r="1.2"/>
<circle cx="480.62" cy="60.86" r="1.2"/>
<circle cx="482.06" cy="60.75" r="1.2"/>
<circle cx="479.84" cy="59.44" r="1.2"/>
<circle cx="480.62" cy="59.12" r="1.2"/>
<circle cx="481.92" cy="59.50" r="1.2"/>
<circle cx="480.09" cy="58.42" r="1.2"/>
<circle cx="480.77" cy="58.38" r="1.2"/>
<circle cx="481.69" cy="57.99" r="1.2"/>
<circle cx="480.68" cy="56.79" r="1.2"/>
<circle cx="480.59" cy="53.68" r="1.2"/>
<circle cx="480.87" cy="49.23" r="1.2"/>
<circle cx="480.61" cy="44.11" r="1.2"/>
<circle cx="480.74" cy="40.32" r="1.2"/>
</g>
<g fill="#c8102e">
<circle cx="496.94" cy="73.08" r="1.2"/>
<circle cx="498.34" cy="72.81" r="1.2"/>
<circle cx="499.74" cy="73.07" r="1.2"/>
<circle cx="500.95" cy="73.08" r="1.2"/>
<circle cx="502.28" cy="72.85" r="1.2"/>
<circle cx="496.50" cy="71.29" r="1.2"/>
<circle cx="497.74" cy="71.39" r="1.2"/>
<circle cx="498.81" cy="71.76" r="1.2"/>
<circle cx="500.18" cy="71.56" r="1.2"/>
<circle cx="501.74" cy="71.61" r="1.2"/>
<circle cx="502.83" cy="71.59" r="1.2"/>
<circle cx="496.08" cy="70.50" r="1.2"/>
<circle cx="497.07" cy="70.37" r="1.2"/>
<circle cx="498.36" cy="70.20" r="1.2"/>
<circle cx="499.84" cy="70.34" r="1.2"/>
<circle cx="500.95" cy="70.49" r="1.2"/>
<circle cx="502.34" cy="70.30" r="1.2"/>
<circle cx="503.41" cy="70.33" r="1.2"/>
<circle cx="495.72" cy="69.20" r="1.2"/>
<circle cx="497.02" cy="69.10" r="1.2"/>
<circle cx="498.36" cy="69.35" r="1.2"/>
<circle cx="499.80" cy="69.31" r="1.2"/>
<circle cx="501.25" cy="68.94" r="1.2"/>
<circle cx="502.38" cy="69.35" r="1.2"/>
<circle cx="503.85" cy="68.86" r="1.2"/>
<circle cx="495.14" cy="67.80" r="1.2"/>
<circle cx="496.37" cy="67.68" r="1.2"/>
<circle cx="497.62" cy="67.93" r="1.2"/>
<circle cx="499.22" cy="68.07" r="1.2"/>
<circle cx="500.15" cy="67.96" r="1.2"/>
<circle cx="501.65" cy="67.62" r="1.2"/>
<circle cx="503.01" cy="68.11" r="1.2"/>
<circle cx="503.93" cy="68.10" r="1.2"/>
<circle cx="495.39" cy="66.57" r="1.2"/>
<circle cx="496.91" cy="66.78" r="1.2"/>
<circle cx="497.71" cy="66.54" r="1.2"/>
<circle cx="499.10" cy="66.48" r="1.2"/>
<circle cx="500.16" cy="66.47" r="1.2"/>
<circle cx="501.63" cy="66.29" r="1.2"/>
<circle cx="502.77" cy="66.54" r="1.2"/>
<circle cx="503.71" cy="66.48" r="1.2"/>
<circle cx="495.62" cy="65.34" r="1.2"/>
<circle cx="496.52" cy="65.62" r="1.2"/>
<circle cx="498.07" cy="65.61" r="1.2"/>
<circle cx="498.91" cy="65.19" r="1.2"/>
<circle cx="500.06" cy="65.50" r="1.2"/>
<circle cx="501.36" cy="65.11" r="1.2"/>
<circle cx="502.62" cy="65.58" r="1.2"/>
<circle cx="504.00" cy="65.19" r="1.2"/>
<circle cx="495.58" cy="64.33" r="1.2"/>
<circle cx="497.10" cy="64.20" r="1.2"/>
<circle cx="498.18" cy="63.82" r="1.2"/>
<circle cx="499.79" cy="64.04" r="1.2"/>
<circle cx="500.80" cy="64.34" r="1.2"/>
<circle cx="502.40" cy="64.26" r="1.2"/>
<circle cx="503.44" cy="64.29" r="1.2"/>
<circle cx="495.65" cy="63.05" r="1.2"/>
<circle cx="497.12" cy="62.73" r="1.2"/>
<circle cx="498.45" cy="63.09" r="1.2"/>
<circle cx="499.58" cy="62.61" r="1.2"/>
<circle cx="500.99" cy="62.67" r="1.2"/>
<circle cx="502.06" cy="62.63" r="1.2"/>
<circle cx="503.31" cy="62.65" r="1.2"/>
<circle cx="495.91" cy="61.46" r="1.2"/>
<circle cx="497.36" cy="61.45" r="1.2"/>
<circle cx="498.47" cy="61.39" r="1.2"/>
<circle cx="499.62" cy="61.29" r="1.2"/>
<circle cx="500.81" cy="61.29" r="1.2"/>
<circle cx="502.28" cy="61.61" r="1.2"/>
<circle cx="503.24" cy="61.57" r="1.2"/>
<circle cx="496.35" cy="60.09" r="1.2"/>
<circle cx="497.48" cy="60.29" r="1.2"/>
<circle cx="498.51" cy="60.53" r="1.2"/>
<circle cx="499.65" cy="60.33" r="1.2"/>
<circle cx="500.98" cy="60.62" r="1.2"/>
<circle cx="502.00" cy="60.53" r="1.2"/>
<circle cx="503.37" cy="60.41" r="1.2"/>
<circle cx="496.22" cy="58.99" r="1.2"/>
<circle cx="497.19" cy="58.86" r="1.2"/>
<circle cx="498.34" cy="59.23" r="1.2"/>
<circle cx="499.58" cy="58.88" r="1.2"/>
<circle cx="500.64" cy="59.29" r="1.2"/>
<circle cx="502.17" cy="59.18" r="1.2"/>
<circle cx="503.02" cy="58.93" r="1.2"/>
<circle cx="496.39" cy="57.81" r="1.2"/>
<circle cx="497.61" cy="57.80" r="1.2"/>
<circle cx="498.94" cy="58.11" r="1.2"/>
<circle cx="500.58" cy="57.86" r="1.2"/>
<circle cx="501.49" cy="58.11" r="1.2"/>
<circle cx="502.81" cy="57.74" r="1.2"/>
<circle cx="496.38" cy="56.51" r="1.2"/>
<circle cx="497.84" cy="56.58" r="1.2"/>
<circle cx="498.94" cy="56.58" r="1.2"/>
<circle cx="500.07" cy="56.44" r="1.2"/>
<circle cx="501.34" cy="56.52" r="1.2"/>
<circle cx="502.54" cy="56.29" r="1.2"/>
<circle cx="496.66" cy="55.17" r="1.2"/>
<circle cx="497.98" cy="55.35" r="1.2"/>
<circle cx="499.24" cy="55.43" r="1.2"/>
<circle cx="500.40" cy="55.56" r="1.2"/>
<circle cx="501.41" cy="55.23" r="1.2"/>
<circle cx="502.89" cy="55.12" r="1.2"/>
<circle cx="496.99" cy="54.17" r="1.2"/>
<circle cx="497.78" cy="54.28" r="1.2"/>
<circle cx="499.33" cy="54.16" r="1.2"/>
<circle cx="500.38" cy="54.27" r="1.2"/>
<circle cx="501.21" cy="54.09" r="1.2"/>
<circle cx="502.52" cy="54.28" r="1.2"/>
<circle cx="497.26" cy="53.03" r="1.2"/>
<circle cx="498.45" cy="53.07" r="1.2"/>
<circle cx="499.79" cy="52.95" r="1.2"/>
<circle cx="500.86" cy="52.55" r="1.2"/>
<circle cx="502.11" cy="52.75" r="1.2"/>
<circle cx="497.03" cy="51.78" r="1.2"/>
<circle cx="498.49" cy="51.66" r="1.2"/>
<circle cx="499.76" cy="51.69" r="1.2"/>
<circle cx="500.93" cy="51.28" r="1.2"/>
<circle cx="502.33" cy="51.73" r="1.2"/>
<circle cx="497.34" cy="50.35" r="1.2"/>
<circle cx="498.60" cy="50.07" r="1.2"/>
<circle cx="499.82" cy="50.18" r="1.2"/>
<circle cx="500.67" cy="50.19" r="1.2"/>
<circle cx="502.18" cy="50.15" r="1.2"/>
<circle cx="497.58" cy="49.37" r="1.2"/>
<circle cx="498.57" cy="49.01" r="1.2"/>
<circle cx="499.69" cy="49.19" r="1.2"/>
<circle cx="500.96" cy="49.15" r="1.2"/>
<circle cx="502.02" cy="48.83" r="1.2"/>
<circle cx="497.40" cy="47.68" r="1.2"/>
<circle cx="498.76" cy="47.71" r="1.2"/>
<circle cx="499.73" cy="47.54" r="1.2"/>
<circle cx="500.54" cy="47.69" r="1.2"/>
<circle cx="501.91" cy="47.95" r="1.2"/>
<circle cx="497.90" cy="46.46" r="1.2"/>
<circle cx="499.08" cy="46.56" r="1.2"/>
<circle cx="500.31" cy="46.35" r="1.2"/>
<circle cx="501.78" cy="46.40" r="1.2"/>
<circle cx="498.16" cy="45.59" r="1.2"/>
<circle cx="498.87" cy="45.31" r="1.2"/>
<circle cx="500.45" cy="45.61" r="1.2"/>
<circle cx="501.45" cy="45.19" r="1.2"/>
<circle cx="497.89" cy="44.35" r="1.2"/>
<circle cx="499.00" cy="44.13" r="1.2"/>
<circle cx="500.08" cy="44.10" r="1.2"/>
<circle cx="501.59" cy="43.86" r="1.2"/>
<circle cx="498.29" cy="42.84" r="1.2"/>
<circle cx="499.37" cy="42.95" r="1.2"/>
<circle cx="500.09" cy="43.07" r="1.2"/>
<circle cx="501.26" cy="42.55" r="1.2"/>
<circle cx="497.97" cy="41.58" r="1.2"/>
<circle cx="499.18" cy="41.46" r="1.2"/>
<circle cx="500.01" cy="41.49" r="1.2"/>
<circle cx="501.09" cy="41.78" r="1.2"/>
<circle cx="498.07" cy="40.48" r="1.2"/>
<circle cx="499.41" cy="40.10" r="1.2"/>
<circle cx="500.37" cy="40.46" r="1.2"/>
<circle cx="501.28" cy="40.20" r="1.2"/>
<circle cx="498.49" cy="39.02" r="1.2"/>
<circle cx="499.95" cy="39.13" r="1.2"/>
<circle cx="500.78" cy="39.04" r="1.2"/>
<circle cx="498.52" cy="37.56" r="1.2"/>
<circle cx="499.50" cy="38.03" r="1.2"/>
<circle cx="500.66" cy="38.09" r="1.2"/>
<circle cx="498.61" cy="36.44" r="1.2"/>
<circle cx="499.71" cy="36.39" r="1.2"/>
<circle cx="500.60" cy="36.85" r="1.2"/>
<circle cx="499.02" cy="35.52" r="1.2"/>
<circle cx="499.77" cy="35.58" r="1.2"/>
<circle cx="500.79" cy="35.36" r="1.2"/>
<circle cx="499.04" cy="33.81" r="1.2"/>
<circle cx="499.82" cy="34.05" r="1.2"/>
<circle cx="500.60" cy="34.17" r="1.2"/>
<circle cx="499.09" cy="32.56" r="1.2"/>
<circle cx="500.42" cy="32.61" r="1.2"/>
<circle cx="499.27" cy="31.49" r="1.2"/>
<circle cx="500.02" cy="31.72" r="1.2"/>
<circle cx="499.94" cy="30.19" r="1.2"/>
<circle cx="499.82" cy="27.41" r="1.2"/>
<circle cx="499.54" cy="25.63" r="1.2"/>
<circle cx="499.75" cy="22.95" r="1.2"/>
</g>
</g>
<g>
<text transform="translate(85.80,127.20)" font-size="10.6" fill="#000" font-weight="bold" stroke="#000" stroke-width="0.22">E</text>
<text transform="translate(131.90,138.50) scale(1.0518,1)" font-size="7.8" text-anchor="middle" fill="#231f20" stroke="#231f20" stroke-width="0.16">Pdk3</text>
<line x1="111.70" y1="142.40" x2="111.70" y2="218.32" stroke="#1a1a1a" stroke-width="1.25"/>
<line x1="108.28" y1="217.70" x2="111.70" y2="217.70" stroke="#1a1a1a" stroke-width="1.0"/>
<text transform="translate(107.38,220.11) scale(0.9500,1)" font-size="6.8" text-anchor="end" fill="#231f20" stroke="#231f20" stroke-width="0.16">0</text>
<line x1="108.28" y1="203.24" x2="111.70" y2="203.24" stroke="#1a1a1a" stroke-width="1.0"/>
<text transform="translate(107.38,205.65) scale(0.9500,1)" font-size="6.8" text-anchor="end" fill="#231f20" stroke="#231f20" stroke-width="0.16">2</text>
<line x1="108.28" y1="188.78" x2="111.70" y2="188.78" stroke="#1a1a1a" stroke-width="1.0"/>
<text transform="translate(107.38,191.19) scale(0.9500,1)" font-size="6.8" text-anchor="end" fill="#231f20" stroke="#231f20" stroke-width="0.16">4</text>
<line x1="108.28" y1="174.32" x2="111.70" y2="174.32" stroke="#1a1a1a" stroke-width="1.0"/>
<text transform="translate(107.38,176.73) scale(0.9500,1)" font-size="6.8" text-anchor="end" fill="#231f20" stroke="#231f20" stroke-width="0.16">6</text>
<line x1="108.28" y1="159.86" x2="111.70" y2="159.86" stroke="#1a1a1a" stroke-width="1.0"/>
<text transform="translate(107.38,162.27) scale(0.9500,1)" font-size="6.8" text-anchor="end" fill="#231f20" stroke="#231f20" stroke-width="0.16">8</text>
<line x1="108.28" y1="145.40" x2="111.70" y2="145.40" stroke="#1a1a1a" stroke-width="1.0"/>
<text transform="translate(107.38,147.81) scale(0.9500,1)" font-size="6.8" text-anchor="end" fill="#231f20" stroke="#231f20" stroke-width="0.16">10</text>
<line x1="111.08" y1="217.70" x2="150.20" y2="217.70" stroke="#1a1a1a" stroke-width="1.25"/>
<line x1="120.60" y1="217.70" x2="120.60" y2="221.22" stroke="#1a1a1a" stroke-width="1.0"/>
<line x1="141.20" y1="217.70" x2="141.20" y2="221.22" stroke="#1a1a1a" stroke-width="1.0"/>
<text transform="translate(93.20,180.40) rotate(-90) scale(0.8917,1)" font-size="8.6" text-anchor="middle" fill="#231f20" stroke="#231f20" stroke-width="0.16">Relative mRNA (fold)</text>
<rect x="114.30" y="210.11" width="4.80" height="7.59" fill="#80a4cd"/>
<rect x="122.20" y="206.49" width="4.90" height="11.21" fill="#f08d9d"/>
<rect x="135.10" y="206.13" width="4.60" height="11.57" fill="#80a4cd"/>
<rect x="142.80" y="162.75" width="4.70" height="54.95" fill="#f08d9d"/>
<circle cx="116.14" cy="208.66" r="1.50" fill="#1d4f91"/>
<circle cx="116.70" cy="210.47" r="1.50" fill="#1d4f91"/>
<circle cx="117.26" cy="212.28" r="1.50" fill="#1d4f91"/>
<circle cx="124.04" cy="205.41" r="1.50" fill="#c8102e"/>
<circle cx="124.60" cy="206.49" r="1.50" fill="#c8102e"/>
<circle cx="125.16" cy="207.58" r="1.50" fill="#c8102e"/>
<circle cx="136.84" cy="204.69" r="1.50" fill="#1d4f91"/>
<circle cx="137.40" cy="206.13" r="1.50" fill="#1d4f91"/>
<circle cx="137.96" cy="207.58" r="1.50" fill="#1d4f91"/>
<line x1="145.10" y1="157.69" x2="145.10" y2="166.37" stroke="#1a1a1a" stroke-width="0.7"/>
<line x1="143.90" y1="157.69" x2="146.30" y2="157.69" stroke="#1a1a1a" stroke-width="0.7"/>
<line x1="143.90" y1="166.37" x2="146.30" y2="166.37" stroke="#1a1a1a" stroke-width="0.7"/>
<circle cx="144.22" cy="158.41" r="1.50" fill="#c8102e"/>
<circle cx="145.10" cy="162.75" r="1.50" fill="#c8102e"/>
<circle cx="145.98" cy="167.09" r="1.50" fill="#c8102e"/>
<text transform="translate(142.50,156.40) scale(0.8737,1)" font-size="10.0" text-anchor="middle" fill="#231f20" stroke="#231f20" stroke-width="0.2">***</text>
<line x1="137.80" y1="155.20" x2="144.80" y2="155.20" stroke="#1a1a1a" stroke-width="1.0"/>
<text transform="translate(120.00,228.50) scale(0.8432,1)" font-size="6.6" text-anchor="middle" fill="#231f20" stroke="#231f20" stroke-width="0.16">20%O<tspan dy="1.32" font-size="3.70">2</tspan></text>
<text transform="translate(139.80,228.50) scale(0.9565,1)" font-size="6.6" text-anchor="middle" fill="#231f20" stroke="#231f20" stroke-width="0.16">1%O<tspan dy="1.32" font-size="3.70">2</tspan></text>
</g>
<g>
<text transform="translate(157.00,127.20)" font-size="10.6" fill="#000" font-weight="bold" stroke="#000" stroke-width="0.22">F</text>
<text transform="translate(205.40,138.50) scale(1.0349,1)" font-size="7.8" text-anchor="middle" fill="#231f20" stroke="#231f20" stroke-width="0.16">Pdk3</text>
<line x1="185.90" y1="142.40" x2="185.90" y2="218.62" stroke="#1a1a1a" stroke-width="1.25"/>
<line x1="182.47" y1="218.00" x2="185.90" y2="218.00" stroke="#1a1a1a" stroke-width="1.0"/>
<text transform="translate(180.07,220.41) scale(0.9300,1)" font-size="6.8" text-anchor="end" fill="#231f20" stroke="#231f20" stroke-width="0.16">0.0</text>
<line x1="182.47" y1="200.05" x2="185.90" y2="200.05" stroke="#1a1a1a" stroke-width="1.0"/>
<text transform="translate(180.07,202.46) scale(0.9300,1)" font-size="6.8" text-anchor="end" fill="#231f20" stroke="#231f20" stroke-width="0.16">0.1</text>
<line x1="182.47" y1="182.10" x2="185.90" y2="182.10" stroke="#1a1a1a" stroke-width="1.0"/>
<text transform="translate(180.07,184.51) scale(0.9300,1)" font-size="6.8" text-anchor="end" fill="#231f20" stroke="#231f20" stroke-width="0.16">0.2</text>
<line x1="182.47" y1="164.15" x2="185.90" y2="164.15" stroke="#1a1a1a" stroke-width="1.0"/>
<text transform="translate(180.07,166.56) scale(0.9300,1)" font-size="6.8" text-anchor="end" fill="#231f20" stroke="#231f20" stroke-width="0.16">0.3</text>
<line x1="182.47" y1="146.20" x2="185.90" y2="146.20" stroke="#1a1a1a" stroke-width="1.0"/>
<text transform="translate(180.07,148.61) scale(0.9300,1)" font-size="6.8" text-anchor="end" fill="#231f20" stroke="#231f20" stroke-width="0.16">0.4</text>
<line x1="185.28" y1="218.00" x2="224.60" y2="218.00" stroke="#1a1a1a" stroke-width="1.25"/>
<line x1="195.50" y1="218.00" x2="195.50" y2="221.53" stroke="#1a1a1a" stroke-width="1.0"/>
<line x1="215.40" y1="218.00" x2="215.40" y2="221.53" stroke="#1a1a1a" stroke-width="1.0"/>
<text transform="translate(165.20,182.70) rotate(-90) scale(0.8950,1)" font-size="8.6" text-anchor="middle" fill="#231f20" stroke="#231f20" stroke-width="0.16">Input %</text>
<rect x="189.20" y="216.21" width="4.00" height="1.79" fill="#80a4cd"/>
<rect x="196.60" y="217.10" width="4.20" height="0.90" fill="#f08d9d"/>
<rect x="209.20" y="195.56" width="4.60" height="22.44" fill="#80a4cd"/>
<rect x="216.90" y="156.97" width="4.90" height="61.03" fill="#f08d9d"/>
<circle cx="190.48" cy="215.67" r="1.45" fill="#1d4f91"/>
<circle cx="191.20" cy="216.03" r="1.45" fill="#1d4f91"/>
<circle cx="191.92" cy="216.38" r="1.45" fill="#1d4f91"/>
<circle cx="197.98" cy="216.74" r="1.45" fill="#c8102e"/>
<circle cx="198.70" cy="216.92" r="1.45" fill="#c8102e"/>
<circle cx="199.42" cy="217.10" r="1.45" fill="#c8102e"/>
<circle cx="210.78" cy="195.20" r="1.50" fill="#1d4f91"/>
<circle cx="211.50" cy="195.56" r="1.50" fill="#1d4f91"/>
<circle cx="212.22" cy="196.10" r="1.50" fill="#1d4f91"/>
<circle cx="218.68" cy="156.07" r="1.50" fill="#c8102e"/>
<circle cx="219.40" cy="156.97" r="1.50" fill="#c8102e"/>
<circle cx="220.12" cy="157.33" r="1.50" fill="#c8102e"/>
<text transform="translate(218.80,157.80) scale(0.8737,1)" font-size="10.0" text-anchor="middle" fill="#231f20" stroke="#231f20" stroke-width="0.2">***</text>
<text transform="translate(195.10,228.50) scale(0.9682,1)" font-size="6.6" text-anchor="middle" fill="#231f20" stroke="#231f20" stroke-width="0.16">IgG</text>
<text transform="translate(215.60,228.50) scale(0.9052,1)" font-size="6.6" text-anchor="middle" fill="#231f20" stroke="#231f20" stroke-width="0.16">HIF1α</text>
</g>
<g>
<text transform="translate(239.30,126.40)" font-size="10.6" fill="#000" font-weight="bold" stroke="#000" stroke-width="0.22">G</text>
<rect x="244.30" y="151.65" width="5.30" height="5.30" fill="#41b649"/>
<text transform="translate(253.10,156.70) scale(1.0635,1)" font-size="7.0" fill="#231f20" stroke="#231f20" stroke-width="0.16">Vav-Cre+</text>
<rect x="244.30" y="159.20" width="5.30" height="5.30" fill="#c8102e"/>
<text transform="translate(253.10,164.25) scale(1.1076,1)" font-size="7.0" fill="#231f20" stroke="#231f20" stroke-width="0.16">Vav-Cre+; Sphk2<tspan dy="-2.80" font-size="3.92">f/f</tspan></text>
<rect x="244.30" y="166.75" width="5.30" height="5.30" fill="#1d5a9c"/>
<text transform="translate(253.10,171.80) scale(1.1443,1)" font-size="7.0" fill="#231f20" stroke="#231f20" stroke-width="0.16">Vav-Cre+; Hif1α<tspan dy="-2.80" font-size="3.92">f/+</tspan></text>
<rect x="244.30" y="174.30" width="5.30" height="5.30" fill="#5c2d87"/>
<text transform="translate(253.10,179.35) scale(1.1319,1)" font-size="7.0" fill="#231f20" stroke="#231f20" stroke-width="0.16">Vav-Cre+; Sphk2<tspan dy="-2.80" font-size="3.92">f/f</tspan><tspan dy="2.80" font-size="7.00">; Hif1α</tspan><tspan dy="-2.80" font-size="3.92">f/+</tspan></text>
<text transform="translate(236.90,195.80) scale(1.0489,1)" font-size="7.0" fill="#231f20" stroke="#231f20" stroke-width="0.16">KD</text>
<rect x="255.00" y="189.70" width="5.00" height="5.10" fill="#41b649"/>
<rect x="275.40" y="189.70" width="5.00" height="5.10" fill="#c8102e"/>
<rect x="295.40" y="189.70" width="5.00" height="5.10" fill="#1d5a9c"/>
<rect x="315.80" y="189.70" width="5.00" height="5.10" fill="#5c2d87"/>
<text transform="translate(236.90,203.70) scale(1.0788,1)" font-size="7.0" fill="#231f20" stroke="#231f20" stroke-width="0.16">45</text>
<line x1="247.30" y1="201.20" x2="251.90" y2="201.20" stroke="#1a1a1a" stroke-width="0.9"/>
<text transform="translate(236.90,215.90) scale(1.0788,1)" font-size="7.0" fill="#231f20" stroke="#231f20" stroke-width="0.16">45</text>
<line x1="247.30" y1="213.40" x2="251.90" y2="213.40" stroke="#1a1a1a" stroke-width="0.9"/>
<rect x="251.43" y="196.72" width="72.55" height="10.65" fill="#2b2b2b"/>
<rect x="252.38" y="197.67" width="70.65" height="8.75" fill="#e2e2e2"/>
<g filter="url(#bl)">
<ellipse cx="257.40" cy="203.20" rx="2.40" ry="0.80" fill="#333" opacity="0.75"/>
<ellipse cx="257.40" cy="200.20" rx="2.00" ry="0.50" fill="#777" opacity="0.4"/>
<ellipse cx="277.30" cy="202.80" rx="3.00" ry="1.00" fill="#111" opacity="0.95"/>
<ellipse cx="277.30" cy="199.80" rx="2.40" ry="0.50" fill="#777" opacity="0.4"/>
<ellipse cx="297.00" cy="203.00" rx="2.20" ry="0.70" fill="#999" opacity="0.45"/>
<ellipse cx="317.70" cy="203.00" rx="2.20" ry="0.70" fill="#999" opacity="0.45"/>
</g>
<rect x="251.43" y="208.33" width="72.55" height="9.45" fill="#2b2b2b"/>
<rect x="252.38" y="209.28" width="70.65" height="7.55" fill="#f0f0f0"/>
<g filter="url(#bl)">
<ellipse cx="258.00" cy="212.80" rx="2.80" ry="1.30" fill="#000" opacity="1"/>
<ellipse cx="277.30" cy="213.00" rx="2.60" ry="1.20" fill="#000" opacity="1"/>
<ellipse cx="297.00" cy="213.00" rx="2.60" ry="1.20" fill="#000" opacity="1"/>
<ellipse cx="317.20" cy="213.20" rx="2.60" ry="1.10" fill="#222" opacity="0.9"/>
</g>
<text transform="translate(325.80,204.60) scale(0.9460,1)" font-size="7.0" fill="#231f20" stroke="#231f20" stroke-width="0.16">PDK3</text>
<text transform="translate(325.80,215.70) scale(1.0405,1)" font-size="7.0" fill="#231f20" stroke="#231f20" stroke-width="0.16">β-actin</text>
</g>
<g>
<text transform="translate(353.60,126.60)" font-size="10.6" fill="#000" font-weight="bold" stroke="#000" stroke-width="0.22">H</text>
<text transform="translate(379.00,169.90) scale(1.0506,1)" font-size="6.0" text-anchor="middle" fill="#231f20" stroke="#231f20" stroke-width="0.16">WT</text>
<text transform="translate(410.60,169.90) scale(1.1161,1)" font-size="6.0" text-anchor="middle" fill="#231f20" stroke="#231f20" stroke-width="0.16">Pdk3<tspan dy="-2.40" font-size="3.36">Δ/+</tspan></text>
<text transform="translate(440.00,170.10) scale(1.1009,1)" font-size="6.0" text-anchor="middle" fill="#231f20" stroke="#231f20" stroke-width="0.16">Sphk2<tspan dy="-2.40" font-size="3.36">Δ/Δ</tspan></text>
<text transform="translate(473.00,164.60) scale(1.0248,1)" font-size="6.0" text-anchor="middle" fill="#231f20" stroke="#231f20" stroke-width="0.16">Sphk2<tspan dy="-2.40" font-size="3.36">Δ/Δ</tspan><tspan dy="2.40" font-size="6.00">;</tspan></text>
<text transform="translate(473.00,171.60) scale(1.1161,1)" font-size="6.0" text-anchor="middle" fill="#231f20" stroke="#231f20" stroke-width="0.16">Pdk3<tspan dy="-2.40" font-size="3.36">Δ/+</tspan></text>
<rect x="378.70" y="175.20" width="5.20" height="5.20" fill="#1d5a9c"/>
<line x1="370.10" y1="182.50" x2="391.70" y2="182.50" stroke="#333" stroke-width="0.9"/>
<rect x="408.70" y="175.20" width="5.20" height="5.20" fill="#41b649"/>
<line x1="401.20" y1="182.50" x2="422.00" y2="182.50" stroke="#333" stroke-width="0.9"/>
<rect x="437.80" y="175.20" width="5.20" height="5.20" fill="#c8102e"/>
<line x1="429.60" y1="182.50" x2="450.60" y2="182.50" stroke="#333" stroke-width="0.9"/>
<rect x="469.70" y="175.20" width="5.20" height="5.20" fill="#5c2d87"/>
<line x1="461.20" y1="182.50" x2="483.10" y2="182.50" stroke="#333" stroke-width="0.9"/>
<text transform="translate(373.80,190.20) scale(0.8860,1)" font-size="6.9" text-anchor="middle" fill="#231f20" stroke="#231f20" stroke-width="0.16">1#</text>
<text transform="translate(387.60,190.20) scale(0.8860,1)" font-size="6.9" text-anchor="middle" fill="#231f20" stroke="#231f20" stroke-width="0.16">2#</text>
<text transform="translate(403.70,190.20) scale(0.8860,1)" font-size="6.9" text-anchor="middle" fill="#231f20" stroke="#231f20" stroke-width="0.16">1#</text>
<text transform="translate(417.30,190.20) scale(0.8860,1)" font-size="6.9" text-anchor="middle" fill="#231f20" stroke="#231f20" stroke-width="0.16">2#</text>
<text transform="translate(433.00,190.20) scale(0.8860,1)" font-size="6.9" text-anchor="middle" fill="#231f20" stroke="#231f20" stroke-width="0.16">1#</text>
<text transform="translate(447.00,190.20) scale(0.8860,1)" font-size="6.9" text-anchor="middle" fill="#231f20" stroke="#231f20" stroke-width="0.16">2#</text>
<text transform="translate(464.60,190.20) scale(0.8860,1)" font-size="6.9" text-anchor="middle" fill="#231f20" stroke="#231f20" stroke-width="0.16">1#</text>
<text transform="translate(479.20,190.20) scale(0.8860,1)" font-size="6.9" text-anchor="middle" fill="#231f20" stroke="#231f20" stroke-width="0.16">2#</text>
<text transform="translate(351.90,189.80) scale(0.9872,1)" font-size="7.0" fill="#231f20" stroke="#231f20" stroke-width="0.16">KD</text>
<text transform="translate(352.80,200.60) scale(1.0788,1)" font-size="7.0" fill="#231f20" stroke="#231f20" stroke-width="0.16">45</text>
<line x1="363.70" y1="198.10" x2="367.20" y2="198.10" stroke="#1a1a1a" stroke-width="0.9"/>
<text transform="translate(352.80,208.10) scale(1.0788,1)" font-size="7.0" fill="#231f20" stroke="#231f20" stroke-width="0.16">45</text>
<line x1="363.70" y1="205.60" x2="367.20" y2="205.60" stroke="#1a1a1a" stroke-width="0.9"/>
<text transform="translate(352.80,217.90) scale(1.0788,1)" font-size="7.0" fill="#231f20" stroke="#231f20" stroke-width="0.16">45</text>
<line x1="363.70" y1="215.40" x2="367.20" y2="215.40" stroke="#1a1a1a" stroke-width="0.9"/>
<defs><linearGradient id="h1g" x1="0" y1="0" x2="1" y2="0"><stop offset="0" stop-color="#a8a8a8"/><stop offset="0.5" stop-color="#c2c2c2"/><stop offset="1" stop-color="#cccccc"/></linearGradient></defs>
<rect x="366.72" y="192.12" width="118.65" height="9.95" fill="#2b2b2b"/>
<rect x="367.68" y="193.07" width="116.75" height="8.05" fill="url(#h1g)"/>
<g filter="url(#bl)">
<ellipse cx="371.20" cy="200.20" rx="2.40" ry="0.90" fill="#111" opacity="0.9"/>
<ellipse cx="386.40" cy="199.60" rx="2.40" ry="0.90" fill="#222" opacity="0.8"/>
<ellipse cx="401.40" cy="198.80" rx="2.20" ry="0.70" fill="#666" opacity="0.4"/>
<ellipse cx="417.70" cy="198.80" rx="2.20" ry="0.70" fill="#666" opacity="0.4"/>
<ellipse cx="433.20" cy="198.40" rx="3.00" ry="1.40" fill="#000" opacity="1"/>
<ellipse cx="447.80" cy="198.40" rx="3.00" ry="1.40" fill="#000" opacity="1"/>
<ellipse cx="463.80" cy="198.80" rx="2.60" ry="0.90" fill="#333" opacity="0.75"/>
<ellipse cx="479.20" cy="198.80" rx="2.60" ry="0.90" fill="#333" opacity="0.75"/>
</g>
<rect x="366.72" y="202.93" width="118.65" height="8.65" fill="#2b2b2b"/>
<rect x="367.68" y="203.88" width="116.75" height="6.75" fill="#dedede"/>
<g filter="url(#bl)">
<ellipse cx="371.20" cy="206.80" rx="2.00" ry="0.60" fill="#999" opacity="0.5"/>
<ellipse cx="386.40" cy="206.80" rx="2.00" ry="0.60" fill="#999" opacity="0.5"/>
<ellipse cx="430.60" cy="207.00" rx="2.20" ry="0.80" fill="#444" opacity="0.75"/>
<ellipse cx="444.40" cy="207.00" rx="2.20" ry="0.80" fill="#444" opacity="0.75"/>
</g>
<rect x="366.72" y="211.72" width="118.65" height="8.95" fill="#2b2b2b"/>
<rect x="367.68" y="212.67" width="116.75" height="7.05" fill="#c8c8c8"/>
<g filter="url(#bl)">
<ellipse cx="371.20" cy="215.60" rx="2.90" ry="1.35" fill="#000" opacity="1"/>
<ellipse cx="386.40" cy="215.60" rx="2.90" ry="1.35" fill="#000" opacity="1"/>
<ellipse cx="401.40" cy="215.60" rx="2.90" ry="1.35" fill="#000" opacity="1"/>
<ellipse cx="417.70" cy="215.60" rx="2.90" ry="1.35" fill="#000" opacity="1"/>
<ellipse cx="433.20" cy="215.60" rx="2.90" ry="1.35" fill="#000" opacity="1"/>
<ellipse cx="447.80" cy="216.10" rx="2.90" ry="1.35" fill="#000" opacity="1"/>
<ellipse cx="463.80" cy="215.60" rx="2.90" ry="1.35" fill="#000" opacity="1"/>
<ellipse cx="479.20" cy="216.10" rx="2.90" ry="1.35" fill="#000" opacity="1"/>
</g>
<text transform="translate(486.70,200.80) scale(0.9242,1)" font-size="7.0" fill="#231f20" stroke="#231f20" stroke-width="0.16">PDK3</text>
<text transform="translate(486.70,208.60) scale(0.9996,1)" font-size="7.0" fill="#231f20" stroke="#231f20" stroke-width="0.16">pPDH-E1α</text>
<text transform="translate(486.70,217.60) scale(1.0121,1)" font-size="7.0" fill="#231f20" stroke="#231f20" stroke-width="0.16">β-actin</text>
</g>
<g>
<text transform="translate(1.20,263.20)" font-size="10.6" fill="#000" font-weight="bold" stroke="#000" stroke-width="0.22">I</text>
<line x1="28.90" y1="293.40" x2="28.90" y2="368.73" stroke="#1a1a1a" stroke-width="1.25"/>
<line x1="25.38" y1="368.10" x2="28.90" y2="368.10" stroke="#1a1a1a" stroke-width="1.0"/>
<text transform="translate(22.77,370.37) scale(0.9300,1)" font-size="6.4" text-anchor="end" fill="#231f20" stroke="#231f20" stroke-width="0.16">0</text>
<line x1="25.38" y1="350.33" x2="28.90" y2="350.33" stroke="#1a1a1a" stroke-width="1.0"/>
<text transform="translate(22.77,352.60) scale(0.9300,1)" font-size="6.4" text-anchor="end" fill="#231f20" stroke="#231f20" stroke-width="0.16">0.5</text>
<line x1="25.38" y1="332.55" x2="28.90" y2="332.55" stroke="#1a1a1a" stroke-width="1.0"/>
<text transform="translate(22.77,334.82) scale(0.9300,1)" font-size="6.4" text-anchor="end" fill="#231f20" stroke="#231f20" stroke-width="0.16">1</text>
<line x1="25.38" y1="314.77" x2="28.90" y2="314.77" stroke="#1a1a1a" stroke-width="1.0"/>
<text transform="translate(22.77,317.05) scale(0.9300,1)" font-size="6.4" text-anchor="end" fill="#231f20" stroke="#231f20" stroke-width="0.16">1.5</text>
<line x1="25.38" y1="297.00" x2="28.90" y2="297.00" stroke="#1a1a1a" stroke-width="1.0"/>
<text transform="translate(22.77,299.27) scale(0.9300,1)" font-size="6.4" text-anchor="end" fill="#231f20" stroke="#231f20" stroke-width="0.16">2</text>
<line x1="28.27" y1="368.10" x2="72.30" y2="368.10" stroke="#1a1a1a" stroke-width="1.25"/>
<line x1="50.50" y1="368.10" x2="50.50" y2="370.93" stroke="#1a1a1a" stroke-width="1.0"/>
<rect x="32.00" y="332.55" width="5.40" height="35.55" fill="#80a4cd"/>
<rect x="42.30" y="345.70" width="5.20" height="22.40" fill="#a6dca1"/>
<rect x="52.60" y="313.35" width="5.60" height="54.75" fill="#f08d9d"/>
<rect x="63.30" y="341.08" width="5.30" height="27.02" fill="#b496cb"/>
<circle cx="33.98" cy="330.42" r="1.45" fill="#1d4f91"/>
<circle cx="34.70" cy="332.55" r="1.45" fill="#1d4f91"/>
<circle cx="35.42" cy="334.68" r="1.45" fill="#1d4f91"/>
<circle cx="44.18" cy="343.57" r="1.45" fill="#3fb54a"/>
<circle cx="44.90" cy="345.70" r="1.45" fill="#3fb54a"/>
<circle cx="45.62" cy="347.84" r="1.45" fill="#3fb54a"/>
<circle cx="54.68" cy="309.80" r="1.45" fill="#c8102e"/>
<circle cx="55.40" cy="312.64" r="1.45" fill="#c8102e"/>
<circle cx="56.12" cy="315.49" r="1.45" fill="#c8102e"/>
<circle cx="65.23" cy="338.95" r="1.45" fill="#5c2d87"/>
<circle cx="65.95" cy="341.08" r="1.45" fill="#5c2d87"/>
<circle cx="66.67" cy="343.22" r="1.45" fill="#5c2d87"/>
<text transform="translate(8.80,333.00) rotate(-90) scale(0.8906,1)" font-size="8.4" text-anchor="middle" fill="#231f20" stroke="#231f20" stroke-width="0.16">Relative pyruvate</text>
<path d="M34.20,298.60V297.00H67.20V298.60" fill="none" stroke="#1a1a1a" stroke-width="0.9"/>
<text transform="translate(50.00,295.50) scale(0.8500,1)" font-size="6.8" text-anchor="middle" fill="#231f20" stroke="#231f20" stroke-width="0.25">††</text>
<path d="M34.20,306.60V305.00H67.20V306.60" fill="none" stroke="#1a1a1a" stroke-width="0.9"/>
<text transform="translate(44.20,304.00) scale(0.8500,1)" font-size="6.8" text-anchor="middle" fill="#231f20" stroke="#231f20" stroke-width="0.25">†††</text>
<text transform="translate(61.20,304.00) scale(0.8500,1)" font-size="6.8" text-anchor="middle" fill="#231f20" stroke="#231f20" stroke-width="0.25">†††</text>
<line x1="54.60" y1="305.00" x2="54.60" y2="306.60" stroke="#1a1a1a" stroke-width="0.9"/>
<path d="M34.20,328.10V326.50H45.40V328.10" fill="none" stroke="#1a1a1a" stroke-width="0.9"/>
<text transform="translate(39.90,324.70) scale(0.8500,1)" font-size="6.8" text-anchor="middle" fill="#231f20" stroke="#231f20" stroke-width="0.25">†††</text>
<path d="M45.40,336.60V335.00H66.90V336.60" fill="none" stroke="#1a1a1a" stroke-width="0.9"/>
<text transform="translate(65.20,332.80) scale(0.9288,1)" font-size="6.2" text-anchor="middle" fill="#231f20" stroke="#231f20" stroke-width="0.16">N.S.</text>
</g>
<g>
<text transform="translate(82.40,263.20)" font-size="10.6" fill="#000" font-weight="bold" stroke="#000" stroke-width="0.22">J</text>
<line x1="105.40" y1="293.40" x2="105.40" y2="368.73" stroke="#1a1a1a" stroke-width="1.25"/>
<line x1="101.88" y1="368.10" x2="105.40" y2="368.10" stroke="#1a1a1a" stroke-width="1.0"/>
<text transform="translate(99.28,370.37) scale(0.9300,1)" font-size="6.4" text-anchor="end" fill="#231f20" stroke="#231f20" stroke-width="0.16">0</text>
<line x1="101.88" y1="332.70" x2="105.40" y2="332.70" stroke="#1a1a1a" stroke-width="1.0"/>
<text transform="translate(99.28,334.97) scale(0.9300,1)" font-size="6.4" text-anchor="end" fill="#231f20" stroke="#231f20" stroke-width="0.16">1</text>
<line x1="101.88" y1="297.30" x2="105.40" y2="297.30" stroke="#1a1a1a" stroke-width="1.0"/>
<text transform="translate(99.28,299.57) scale(0.9300,1)" font-size="6.4" text-anchor="end" fill="#231f20" stroke="#231f20" stroke-width="0.16">2</text>
<line x1="104.78" y1="368.10" x2="146.60" y2="368.10" stroke="#1a1a1a" stroke-width="1.25"/>
<line x1="126.90" y1="368.10" x2="126.90" y2="370.93" stroke="#1a1a1a" stroke-width="1.0"/>
<rect x="108.00" y="321.37" width="5.20" height="46.73" fill="#80a4cd"/>
<rect x="118.30" y="338.90" width="5.40" height="29.20" fill="#a6dca1"/>
<rect x="128.80" y="301.19" width="5.40" height="66.91" fill="#f08d9d"/>
<rect x="139.10" y="330.40" width="5.20" height="37.70" fill="#b496cb"/>
<line x1="131.50" y1="300.84" x2="131.50" y2="308.63" stroke="#1a1a1a" stroke-width="0.7"/>
<line x1="130.30" y1="300.84" x2="132.70" y2="300.84" stroke="#1a1a1a" stroke-width="0.7"/>
<line x1="130.30" y1="308.63" x2="132.70" y2="308.63" stroke="#1a1a1a" stroke-width="0.7"/>
<circle cx="109.88" cy="319.60" r="1.45" fill="#1d4f91"/>
<circle cx="110.60" cy="322.08" r="1.45" fill="#1d4f91"/>
<circle cx="111.32" cy="324.56" r="1.45" fill="#1d4f91"/>
<circle cx="120.28" cy="338.36" r="1.45" fill="#3fb54a"/>
<circle cx="121.00" cy="339.78" r="1.45" fill="#3fb54a"/>
<circle cx="121.72" cy="341.20" r="1.45" fill="#3fb54a"/>
<circle cx="130.78" cy="300.84" r="1.45" fill="#c8102e"/>
<circle cx="131.50" cy="304.38" r="1.45" fill="#c8102e"/>
<circle cx="132.22" cy="307.92" r="1.45" fill="#c8102e"/>
<circle cx="140.98" cy="329.16" r="1.45" fill="#5c2d87"/>
<circle cx="141.70" cy="330.22" r="1.45" fill="#5c2d87"/>
<circle cx="142.42" cy="331.28" r="1.45" fill="#5c2d87"/>
<text transform="translate(88.40,332.80) rotate(-90) scale(0.9176,1)" font-size="8.4" text-anchor="middle" fill="#231f20" stroke="#231f20" stroke-width="0.16">Lactate (nmol/10000 cells)</text>
<path d="M110.30,298.90V297.30H142.30V298.90" fill="none" stroke="#1a1a1a" stroke-width="0.9"/>
<text transform="translate(118.80,295.70) scale(0.8500,1)" font-size="6.8" text-anchor="middle" fill="#231f20" stroke="#231f20" stroke-width="0.25">†††</text>
<text transform="translate(137.60,295.70) scale(0.8500,1)" font-size="6.8" text-anchor="middle" fill="#231f20" stroke="#231f20" stroke-width="0.25">†††</text>
<line x1="131.10" y1="297.30" x2="131.10" y2="298.90" stroke="#1a1a1a" stroke-width="0.9"/>
<path d="M110.30,310.40V308.80H141.80V310.40" fill="none" stroke="#1a1a1a" stroke-width="0.9"/>
<text transform="translate(122.60,306.70) scale(0.8500,1)" font-size="6.8" text-anchor="middle" fill="#231f20" stroke="#231f20" stroke-width="0.25">††</text>
<path d="M110.30,318.10V316.50H120.30V318.10" fill="none" stroke="#1a1a1a" stroke-width="0.9"/>
<text transform="translate(116.10,315.20) scale(0.8500,1)" font-size="6.8" text-anchor="middle" fill="#231f20" stroke="#231f20" stroke-width="0.25">†††</text>
<path d="M121.40,327.40V325.80H142.30V327.40" fill="none" stroke="#1a1a1a" stroke-width="0.9"/>
<text transform="translate(138.70,323.60) scale(0.8500,1)" font-size="6.8" text-anchor="middle" fill="#231f20" stroke="#231f20" stroke-width="0.25">††</text>
</g>
<g>
<text transform="translate(159.20,263.20)" font-size="10.6" fill="#000" font-weight="bold" stroke="#000" stroke-width="0.22">K</text>
<line x1="189.50" y1="293.40" x2="189.50" y2="368.73" stroke="#1a1a1a" stroke-width="1.25"/>
<line x1="185.97" y1="368.10" x2="189.50" y2="368.10" stroke="#1a1a1a" stroke-width="1.0"/>
<text transform="translate(183.38,370.37) scale(0.9300,1)" font-size="6.4" text-anchor="end" fill="#231f20" stroke="#231f20" stroke-width="0.16">0</text>
<line x1="185.97" y1="350.33" x2="189.50" y2="350.33" stroke="#1a1a1a" stroke-width="1.0"/>
<text transform="translate(183.38,352.60) scale(0.9300,1)" font-size="6.4" text-anchor="end" fill="#231f20" stroke="#231f20" stroke-width="0.16">50</text>
<line x1="185.97" y1="332.55" x2="189.50" y2="332.55" stroke="#1a1a1a" stroke-width="1.0"/>
<text transform="translate(183.38,334.82) scale(0.9300,1)" font-size="6.4" text-anchor="end" fill="#231f20" stroke="#231f20" stroke-width="0.16">100</text>
<line x1="185.97" y1="314.77" x2="189.50" y2="314.77" stroke="#1a1a1a" stroke-width="1.0"/>
<text transform="translate(183.38,317.05) scale(0.9300,1)" font-size="6.4" text-anchor="end" fill="#231f20" stroke="#231f20" stroke-width="0.16">150</text>
<line x1="185.97" y1="297.00" x2="189.50" y2="297.00" stroke="#1a1a1a" stroke-width="1.0"/>
<text transform="translate(183.38,299.27) scale(0.9300,1)" font-size="6.4" text-anchor="end" fill="#231f20" stroke="#231f20" stroke-width="0.16">200</text>
<line x1="188.88" y1="368.10" x2="233.00" y2="368.10" stroke="#1a1a1a" stroke-width="1.25"/>
<line x1="211.30" y1="368.10" x2="211.30" y2="370.93" stroke="#1a1a1a" stroke-width="1.0"/>
<rect x="192.00" y="332.55" width="5.60" height="35.55" fill="#80a4cd"/>
<rect x="202.40" y="347.48" width="5.60" height="20.62" fill="#a6dca1"/>
<rect x="212.80" y="313.00" width="6.00" height="55.10" fill="#f08d9d"/>
<rect x="223.20" y="343.22" width="5.60" height="24.88" fill="#b496cb"/>
<circle cx="194.08" cy="330.77" r="1.45" fill="#1d4f91"/>
<circle cx="194.80" cy="332.55" r="1.45" fill="#1d4f91"/>
<circle cx="195.52" cy="334.33" r="1.45" fill="#1d4f91"/>
<circle cx="204.48" cy="346.06" r="1.45" fill="#3fb54a"/>
<circle cx="205.20" cy="347.48" r="1.45" fill="#3fb54a"/>
<circle cx="205.92" cy="348.90" r="1.45" fill="#3fb54a"/>
<circle cx="215.08" cy="311.58" r="1.45" fill="#c8102e"/>
<circle cx="215.80" cy="313.00" r="1.45" fill="#c8102e"/>
<circle cx="216.52" cy="314.42" r="1.45" fill="#c8102e"/>
<circle cx="225.28" cy="342.15" r="1.45" fill="#5c2d87"/>
<circle cx="226.00" cy="343.22" r="1.45" fill="#5c2d87"/>
<circle cx="226.72" cy="344.28" r="1.45" fill="#5c2d87"/>
<text transform="translate(167.20,330.50) rotate(-90) scale(0.8831,1)" font-size="8.4" text-anchor="middle" fill="#231f20" stroke="#231f20" stroke-width="0.16">LDH activity (A.U.)</text>
<path d="M194.50,300.60V299.00H227.00V300.60" fill="none" stroke="#1a1a1a" stroke-width="0.9"/>
<text transform="translate(210.80,297.50) scale(0.8500,1)" font-size="6.8" text-anchor="middle" fill="#231f20" stroke="#231f20" stroke-width="0.25">†††</text>
<path d="M194.50,308.20V306.60H227.00V308.20" fill="none" stroke="#1a1a1a" stroke-width="0.9"/>
<text transform="translate(203.20,305.10) scale(0.8500,1)" font-size="6.8" text-anchor="middle" fill="#231f20" stroke="#231f20" stroke-width="0.25">†††</text>
<text transform="translate(221.20,305.10) scale(0.8500,1)" font-size="6.8" text-anchor="middle" fill="#231f20" stroke="#231f20" stroke-width="0.25">†††</text>
<line x1="215.80" y1="306.60" x2="215.80" y2="308.20" stroke="#1a1a1a" stroke-width="0.9"/>
<path d="M194.50,328.60V327.00H205.60V328.60" fill="none" stroke="#1a1a1a" stroke-width="0.9"/>
<text transform="translate(199.10,325.50) scale(0.8500,1)" font-size="6.8" text-anchor="middle" fill="#231f20" stroke="#231f20" stroke-width="0.25">†††</text>
<path d="M205.60,338.80V337.20H227.00V338.80" fill="none" stroke="#1a1a1a" stroke-width="0.9"/>
<text transform="translate(222.20,335.70) scale(0.8500,1)" font-size="6.8" text-anchor="middle" fill="#231f20" stroke="#231f20" stroke-width="0.25">††</text>
</g>
<g>
<text transform="translate(242.60,262.60)" font-size="10.6" fill="#000" font-weight="bold" stroke="#000" stroke-width="0.22">L</text>
<line x1="243.20" y1="273.40" x2="250.20" y2="273.40" stroke="#1d4f91" stroke-width="1.1"/>
<circle cx="246.70" cy="273.40" r="1.80" fill="#1d4f91"/>
<text transform="translate(252.20,275.90) scale(0.9164,1)" font-size="7.3" fill="#231f20" stroke="#231f20" stroke-width="0.16">WT</text>
<line x1="287.10" y1="273.40" x2="294.10" y2="273.40" stroke="#c8102e" stroke-width="1.1"/>
<circle cx="290.60" cy="273.40" r="1.80" fill="#c8102e"/>
<text transform="translate(296.80,275.90) scale(1.0075,1)" font-size="7.3" fill="#231f20" stroke="#231f20" stroke-width="0.16">Sphk2<tspan dy="-2.92" font-size="4.09">Δ/Δ</tspan></text>
<line x1="243.20" y1="284.00" x2="250.20" y2="284.00" stroke="#3fb54a" stroke-width="1.1"/>
<circle cx="246.70" cy="284.00" r="1.80" fill="#3fb54a"/>
<text transform="translate(252.20,286.50) scale(1.0571,1)" font-size="7.3" fill="#231f20" stroke="#231f20" stroke-width="0.16">Pdk3<tspan dy="-2.92" font-size="4.09">Δ/+</tspan></text>
<line x1="287.10" y1="284.00" x2="294.10" y2="284.00" stroke="#5c2d87" stroke-width="1.1"/>
<circle cx="290.60" cy="284.00" r="1.80" fill="#5c2d87"/>
<text transform="translate(296.80,286.50) scale(1.0913,1)" font-size="7.3" fill="#231f20" stroke="#231f20" stroke-width="0.16">Sphk2<tspan dy="-2.92" font-size="4.09">Δ/Δ</tspan><tspan dy="2.92" font-size="7.30">; Pdk3</tspan><tspan dy="-2.92" font-size="4.09">Δ/+</tspan></text>
<line x1="243.20" y1="294.60" x2="250.20" y2="294.60" stroke="#f7941d" stroke-width="1.1"/>
<circle cx="246.70" cy="294.60" r="1.80" fill="#f7941d"/>
<text transform="translate(252.20,297.10) scale(1.0392,1)" font-size="7.3" fill="#231f20" stroke="#231f20" stroke-width="0.16">Bone marrow cells</text>
<line x1="267.60" y1="303.80" x2="267.60" y2="368.32" stroke="#1a1a1a" stroke-width="1.25"/>
<line x1="264.08" y1="367.70" x2="267.60" y2="367.70" stroke="#1a1a1a" stroke-width="1.0"/>
<text transform="translate(261.48,369.97) scale(0.9300,1)" font-size="6.4" text-anchor="end" fill="#231f20" stroke="#231f20" stroke-width="0.16">0</text>
<line x1="264.08" y1="355.70" x2="267.60" y2="355.70" stroke="#1a1a1a" stroke-width="1.0"/>
<text transform="translate(261.48,357.97) scale(0.9300,1)" font-size="6.4" text-anchor="end" fill="#231f20" stroke="#231f20" stroke-width="0.16">8</text>
<line x1="264.08" y1="343.70" x2="267.60" y2="343.70" stroke="#1a1a1a" stroke-width="1.0"/>
<text transform="translate(261.48,345.97) scale(0.9300,1)" font-size="6.4" text-anchor="end" fill="#231f20" stroke="#231f20" stroke-width="0.16">16</text>
<line x1="264.08" y1="331.70" x2="267.60" y2="331.70" stroke="#1a1a1a" stroke-width="1.0"/>
<text transform="translate(261.48,333.97) scale(0.9300,1)" font-size="6.4" text-anchor="end" fill="#231f20" stroke="#231f20" stroke-width="0.16">24</text>
<line x1="264.08" y1="319.70" x2="267.60" y2="319.70" stroke="#1a1a1a" stroke-width="1.0"/>
<text transform="translate(261.48,321.97) scale(0.9300,1)" font-size="6.4" text-anchor="end" fill="#231f20" stroke="#231f20" stroke-width="0.16">32</text>
<line x1="264.08" y1="307.70" x2="267.60" y2="307.70" stroke="#1a1a1a" stroke-width="1.0"/>
<text transform="translate(261.48,309.97) scale(0.9300,1)" font-size="6.4" text-anchor="end" fill="#231f20" stroke="#231f20" stroke-width="0.16">40</text>
<line x1="266.98" y1="367.70" x2="355.50" y2="367.70" stroke="#1a1a1a" stroke-width="1.25"/>
<line x1="267.60" y1="367.70" x2="267.60" y2="370.32" stroke="#1a1a1a" stroke-width="1.0"/>
<line x1="288.73" y1="367.70" x2="288.73" y2="370.32" stroke="#1a1a1a" stroke-width="1.0"/>
<line x1="309.85" y1="367.70" x2="309.85" y2="370.32" stroke="#1a1a1a" stroke-width="1.0"/>
<line x1="330.98" y1="367.70" x2="330.98" y2="370.32" stroke="#1a1a1a" stroke-width="1.0"/>
<line x1="352.10" y1="367.70" x2="352.10" y2="370.32" stroke="#1a1a1a" stroke-width="1.0"/>
<text transform="translate(267.60,378.60) scale(0.9300,1)" font-size="6.4" text-anchor="middle" fill="#231f20" stroke="#231f20" stroke-width="0.16">0</text>
<text transform="translate(288.73,378.60) scale(0.9300,1)" font-size="6.4" text-anchor="middle" fill="#231f20" stroke="#231f20" stroke-width="0.16">20</text>
<text transform="translate(309.85,378.60) scale(0.9300,1)" font-size="6.4" text-anchor="middle" fill="#231f20" stroke="#231f20" stroke-width="0.16">40</text>
<text transform="translate(330.98,378.60) scale(0.9300,1)" font-size="6.4" text-anchor="middle" fill="#231f20" stroke="#231f20" stroke-width="0.16">60</text>
<text transform="translate(352.10,378.60) scale(0.9300,1)" font-size="6.4" text-anchor="middle" fill="#231f20" stroke="#231f20" stroke-width="0.16">80</text>
<text transform="translate(312.60,388.90) scale(0.9336,1)" font-size="8.4" text-anchor="middle" fill="#231f20" stroke="#231f20" stroke-width="0.16">Time (minutes)</text>
<text transform="translate(249.00,335.80) rotate(-90) scale(0.9018,1)" font-size="8.4" text-anchor="middle" fill="#231f20" stroke="#231f20" stroke-width="0.16">ECAR (mpH/min)</text>
<polyline points="268.66,363.95 276.05,363.95 282.39,363.95 289.78,347.45 296.12,344.45 303.51,345.20 309.85,342.95 317.24,340.70 323.58,339.95 330.98,363.95 337.31,363.95 343.65,363.95" fill="none" stroke="#f7941d" stroke-width="1.2"/>
<polyline points="268.66,363.20 276.05,363.95 282.39,364.70 289.78,325.70 296.12,326.45 303.51,328.70 309.85,318.20 317.24,320.45 323.58,316.70 330.98,363.95 337.31,363.95 343.65,364.70" fill="none" stroke="#c8102e" stroke-width="1.2"/>
<polyline points="268.66,363.20 276.05,363.95 282.39,363.95 289.78,345.95 296.12,342.20 303.51,343.70 309.85,339.20 317.24,340.70 323.58,334.70 330.98,363.95 337.31,363.95 343.65,363.95" fill="none" stroke="#5c2d87" stroke-width="1.2"/>
<polyline points="268.66,363.20 276.05,363.20 282.39,363.95 289.78,346.70 296.12,342.20 303.51,342.95 309.85,339.20 317.24,340.70 323.58,337.70 330.98,363.95 337.31,363.95 343.65,363.95" fill="none" stroke="#3fb54a" stroke-width="1.2"/>
<polyline points="268.66,362.45 276.05,362.45 282.39,363.20 289.78,334.70 296.12,338.45 303.51,333.20 309.85,327.20 317.24,330.20 323.58,329.45 330.98,363.20 337.31,363.20 343.65,363.20" fill="none" stroke="#1d4f91" stroke-width="1.2"/>
<line x1="268.66" y1="362.30" x2="268.66" y2="365.60" stroke="#945811" stroke-width="0.65"/>
<line x1="267.36" y1="362.30" x2="269.96" y2="362.30" stroke="#945811" stroke-width="0.65"/>
<line x1="267.36" y1="365.60" x2="269.96" y2="365.60" stroke="#945811" stroke-width="0.65"/>
<circle cx="268.66" cy="363.95" r="1.60" fill="#f7941d"/>
<line x1="276.05" y1="362.30" x2="276.05" y2="365.60" stroke="#945811" stroke-width="0.65"/>
<line x1="274.75" y1="362.30" x2="277.35" y2="362.30" stroke="#945811" stroke-width="0.65"/>
<line x1="274.75" y1="365.60" x2="277.35" y2="365.60" stroke="#945811" stroke-width="0.65"/>
<circle cx="276.05" cy="363.95" r="1.60" fill="#f7941d"/>
<line x1="282.39" y1="362.30" x2="282.39" y2="365.60" stroke="#945811" stroke-width="0.65"/>
<line x1="281.09" y1="362.30" x2="283.69" y2="362.30" stroke="#945811" stroke-width="0.65"/>
<line x1="281.09" y1="365.60" x2="283.69" y2="365.60" stroke="#945811" stroke-width="0.65"/>
<circle cx="282.39" cy="363.95" r="1.60" fill="#f7941d"/>
<line x1="289.78" y1="345.14" x2="289.78" y2="349.76" stroke="#945811" stroke-width="0.65"/>
<line x1="288.48" y1="345.14" x2="291.08" y2="345.14" stroke="#945811" stroke-width="0.65"/>
<line x1="288.48" y1="349.76" x2="291.08" y2="349.76" stroke="#945811" stroke-width="0.65"/>
<circle cx="289.78" cy="347.45" r="1.60" fill="#f7941d"/>
<line x1="296.12" y1="342.02" x2="296.12" y2="346.88" stroke="#945811" stroke-width="0.65"/>
<line x1="294.82" y1="342.02" x2="297.42" y2="342.02" stroke="#945811" stroke-width="0.65"/>
<line x1="294.82" y1="346.88" x2="297.42" y2="346.88" stroke="#945811" stroke-width="0.65"/>
<circle cx="296.12" cy="344.45" r="1.60" fill="#f7941d"/>
<line x1="303.51" y1="342.80" x2="303.51" y2="347.60" stroke="#945811" stroke-width="0.65"/>
<line x1="302.21" y1="342.80" x2="304.81" y2="342.80" stroke="#945811" stroke-width="0.65"/>
<line x1="302.21" y1="347.60" x2="304.81" y2="347.60" stroke="#945811" stroke-width="0.65"/>
<circle cx="303.51" cy="345.20" r="1.60" fill="#f7941d"/>
<line x1="309.85" y1="340.46" x2="309.85" y2="345.44" stroke="#945811" stroke-width="0.65"/>
<line x1="308.55" y1="340.46" x2="311.15" y2="340.46" stroke="#945811" stroke-width="0.65"/>
<line x1="308.55" y1="345.44" x2="311.15" y2="345.44" stroke="#945811" stroke-width="0.65"/>
<circle cx="309.85" cy="342.95" r="1.60" fill="#f7941d"/>
<line x1="317.24" y1="338.12" x2="317.24" y2="343.28" stroke="#945811" stroke-width="0.65"/>
<line x1="315.94" y1="338.12" x2="318.54" y2="338.12" stroke="#945811" stroke-width="0.65"/>
<line x1="315.94" y1="343.28" x2="318.54" y2="343.28" stroke="#945811" stroke-width="0.65"/>
<circle cx="317.24" cy="340.70" r="1.60" fill="#f7941d"/>
<line x1="323.58" y1="337.34" x2="323.58" y2="342.56" stroke="#945811" stroke-width="0.65"/>
<line x1="322.28" y1="337.34" x2="324.88" y2="337.34" stroke="#945811" stroke-width="0.65"/>
<line x1="322.28" y1="342.56" x2="324.88" y2="342.56" stroke="#945811" stroke-width="0.65"/>
<circle cx="323.58" cy="339.95" r="1.60" fill="#f7941d"/>
<line x1="330.98" y1="362.30" x2="330.98" y2="365.60" stroke="#945811" stroke-width="0.65"/>
<line x1="329.68" y1="362.30" x2="332.28" y2="362.30" stroke="#945811" stroke-width="0.65"/>
<line x1="329.68" y1="365.60" x2="332.28" y2="365.60" stroke="#945811" stroke-width="0.65"/>
<circle cx="330.98" cy="363.95" r="1.60" fill="#f7941d"/>
<line x1="337.31" y1="362.30" x2="337.31" y2="365.60" stroke="#945811" stroke-width="0.65"/>
<line x1="336.01" y1="362.30" x2="338.61" y2="362.30" stroke="#945811" stroke-width="0.65"/>
<line x1="336.01" y1="365.60" x2="338.61" y2="365.60" stroke="#945811" stroke-width="0.65"/>
<circle cx="337.31" cy="363.95" r="1.60" fill="#f7941d"/>
<line x1="343.65" y1="362.30" x2="343.65" y2="365.60" stroke="#945811" stroke-width="0.65"/>
<line x1="342.35" y1="362.30" x2="344.95" y2="362.30" stroke="#945811" stroke-width="0.65"/>
<line x1="342.35" y1="365.60" x2="344.95" y2="365.60" stroke="#945811" stroke-width="0.65"/>
<circle cx="343.65" cy="363.95" r="1.60" fill="#f7941d"/>
<line x1="268.66" y1="361.52" x2="268.66" y2="364.88" stroke="#78091b" stroke-width="0.65"/>
<line x1="267.36" y1="361.52" x2="269.96" y2="361.52" stroke="#78091b" stroke-width="0.65"/>
<line x1="267.36" y1="364.88" x2="269.96" y2="364.88" stroke="#78091b" stroke-width="0.65"/>
<circle cx="268.66" cy="363.20" r="1.60" fill="#c8102e"/>
<line x1="276.05" y1="362.30" x2="276.05" y2="365.60" stroke="#78091b" stroke-width="0.65"/>
<line x1="274.75" y1="362.30" x2="277.35" y2="362.30" stroke="#78091b" stroke-width="0.65"/>
<line x1="274.75" y1="365.60" x2="277.35" y2="365.60" stroke="#78091b" stroke-width="0.65"/>
<circle cx="276.05" cy="363.95" r="1.60" fill="#c8102e"/>
<line x1="282.39" y1="363.08" x2="282.39" y2="366.32" stroke="#78091b" stroke-width="0.65"/>
<line x1="281.09" y1="363.08" x2="283.69" y2="363.08" stroke="#78091b" stroke-width="0.65"/>
<line x1="281.09" y1="366.32" x2="283.69" y2="366.32" stroke="#78091b" stroke-width="0.65"/>
<circle cx="282.39" cy="364.70" r="1.60" fill="#c8102e"/>
<line x1="289.78" y1="322.52" x2="289.78" y2="328.88" stroke="#78091b" stroke-width="0.65"/>
<line x1="288.48" y1="322.52" x2="291.08" y2="322.52" stroke="#78091b" stroke-width="0.65"/>
<line x1="288.48" y1="328.88" x2="291.08" y2="328.88" stroke="#78091b" stroke-width="0.65"/>
<circle cx="289.78" cy="325.70" r="1.60" fill="#c8102e"/>
<line x1="296.12" y1="323.30" x2="296.12" y2="329.60" stroke="#78091b" stroke-width="0.65"/>
<line x1="294.82" y1="323.30" x2="297.42" y2="323.30" stroke="#78091b" stroke-width="0.65"/>
<line x1="294.82" y1="329.60" x2="297.42" y2="329.60" stroke="#78091b" stroke-width="0.65"/>
<circle cx="296.12" cy="326.45" r="1.60" fill="#c8102e"/>
<line x1="303.51" y1="325.64" x2="303.51" y2="331.76" stroke="#78091b" stroke-width="0.65"/>
<line x1="302.21" y1="325.64" x2="304.81" y2="325.64" stroke="#78091b" stroke-width="0.65"/>
<line x1="302.21" y1="331.76" x2="304.81" y2="331.76" stroke="#78091b" stroke-width="0.65"/>
<circle cx="303.51" cy="328.70" r="1.60" fill="#c8102e"/>
<line x1="309.85" y1="314.72" x2="309.85" y2="321.68" stroke="#78091b" stroke-width="0.65"/>
<line x1="308.55" y1="314.72" x2="311.15" y2="314.72" stroke="#78091b" stroke-width="0.65"/>
<line x1="308.55" y1="321.68" x2="311.15" y2="321.68" stroke="#78091b" stroke-width="0.65"/>
<circle cx="309.85" cy="318.20" r="1.60" fill="#c8102e"/>
<line x1="317.24" y1="317.06" x2="317.24" y2="323.84" stroke="#78091b" stroke-width="0.65"/>
<line x1="315.94" y1="317.06" x2="318.54" y2="317.06" stroke="#78091b" stroke-width="0.65"/>
<line x1="315.94" y1="323.84" x2="318.54" y2="323.84" stroke="#78091b" stroke-width="0.65"/>
<circle cx="317.24" cy="320.45" r="1.60" fill="#c8102e"/>
<line x1="323.58" y1="313.16" x2="323.58" y2="320.24" stroke="#78091b" stroke-width="0.65"/>
<line x1="322.28" y1="313.16" x2="324.88" y2="313.16" stroke="#78091b" stroke-width="0.65"/>
<line x1="322.28" y1="320.24" x2="324.88" y2="320.24" stroke="#78091b" stroke-width="0.65"/>
<circle cx="323.58" cy="316.70" r="1.60" fill="#c8102e"/>
<line x1="330.98" y1="362.30" x2="330.98" y2="365.60" stroke="#78091b" stroke-width="0.65"/>
<line x1="329.68" y1="362.30" x2="332.28" y2="362.30" stroke="#78091b" stroke-width="0.65"/>
<line x1="329.68" y1="365.60" x2="332.28" y2="365.60" stroke="#78091b" stroke-width="0.65"/>
<circle cx="330.98" cy="363.95" r="1.60" fill="#c8102e"/>
<line x1="337.31" y1="362.30" x2="337.31" y2="365.60" stroke="#78091b" stroke-width="0.65"/>
<line x1="336.01" y1="362.30" x2="338.61" y2="362.30" stroke="#78091b" stroke-width="0.65"/>
<line x1="336.01" y1="365.60" x2="338.61" y2="365.60" stroke="#78091b" stroke-width="0.65"/>
<circle cx="337.31" cy="363.95" r="1.60" fill="#c8102e"/>
<line x1="343.65" y1="363.08" x2="343.65" y2="366.32" stroke="#78091b" stroke-width="0.65"/>
<line x1="342.35" y1="363.08" x2="344.95" y2="363.08" stroke="#78091b" stroke-width="0.65"/>
<line x1="342.35" y1="366.32" x2="344.95" y2="366.32" stroke="#78091b" stroke-width="0.65"/>
<circle cx="343.65" cy="364.70" r="1.60" fill="#c8102e"/>
<line x1="268.66" y1="361.52" x2="268.66" y2="364.88" stroke="#371b51" stroke-width="0.65"/>
<line x1="267.36" y1="361.52" x2="269.96" y2="361.52" stroke="#371b51" stroke-width="0.65"/>
<line x1="267.36" y1="364.88" x2="269.96" y2="364.88" stroke="#371b51" stroke-width="0.65"/>
<circle cx="268.66" cy="363.20" r="1.60" fill="#5c2d87"/>
<line x1="276.05" y1="362.30" x2="276.05" y2="365.60" stroke="#371b51" stroke-width="0.65"/>
<line x1="274.75" y1="362.30" x2="277.35" y2="362.30" stroke="#371b51" stroke-width="0.65"/>
<line x1="274.75" y1="365.60" x2="277.35" y2="365.60" stroke="#371b51" stroke-width="0.65"/>
<circle cx="276.05" cy="363.95" r="1.60" fill="#5c2d87"/>
<line x1="282.39" y1="362.30" x2="282.39" y2="365.60" stroke="#371b51" stroke-width="0.65"/>
<line x1="281.09" y1="362.30" x2="283.69" y2="362.30" stroke="#371b51" stroke-width="0.65"/>
<line x1="281.09" y1="365.60" x2="283.69" y2="365.60" stroke="#371b51" stroke-width="0.65"/>
<circle cx="282.39" cy="363.95" r="1.60" fill="#5c2d87"/>
<line x1="289.78" y1="343.58" x2="289.78" y2="348.32" stroke="#371b51" stroke-width="0.65"/>
<line x1="288.48" y1="343.58" x2="291.08" y2="343.58" stroke="#371b51" stroke-width="0.65"/>
<line x1="288.48" y1="348.32" x2="291.08" y2="348.32" stroke="#371b51" stroke-width="0.65"/>
<circle cx="289.78" cy="345.95" r="1.60" fill="#5c2d87"/>
<line x1="296.12" y1="339.68" x2="296.12" y2="344.72" stroke="#371b51" stroke-width="0.65"/>
<line x1="294.82" y1="339.68" x2="297.42" y2="339.68" stroke="#371b51" stroke-width="0.65"/>
<line x1="294.82" y1="344.72" x2="297.42" y2="344.72" stroke="#371b51" stroke-width="0.65"/>
<circle cx="296.12" cy="342.20" r="1.60" fill="#5c2d87"/>
<line x1="303.51" y1="341.24" x2="303.51" y2="346.16" stroke="#371b51" stroke-width="0.65"/>
<line x1="302.21" y1="341.24" x2="304.81" y2="341.24" stroke="#371b51" stroke-width="0.65"/>
<line x1="302.21" y1="346.16" x2="304.81" y2="346.16" stroke="#371b51" stroke-width="0.65"/>
<circle cx="303.51" cy="343.70" r="1.60" fill="#5c2d87"/>
<line x1="309.85" y1="336.56" x2="309.85" y2="341.84" stroke="#371b51" stroke-width="0.65"/>
<line x1="308.55" y1="336.56" x2="311.15" y2="336.56" stroke="#371b51" stroke-width="0.65"/>
<line x1="308.55" y1="341.84" x2="311.15" y2="341.84" stroke="#371b51" stroke-width="0.65"/>
<circle cx="309.85" cy="339.20" r="1.60" fill="#5c2d87"/>
<line x1="317.24" y1="338.12" x2="317.24" y2="343.28" stroke="#371b51" stroke-width="0.65"/>
<line x1="315.94" y1="338.12" x2="318.54" y2="338.12" stroke="#371b51" stroke-width="0.65"/>
<line x1="315.94" y1="343.28" x2="318.54" y2="343.28" stroke="#371b51" stroke-width="0.65"/>
<circle cx="317.24" cy="340.70" r="1.60" fill="#5c2d87"/>
<line x1="323.58" y1="331.88" x2="323.58" y2="337.52" stroke="#371b51" stroke-width="0.65"/>
<line x1="322.28" y1="331.88" x2="324.88" y2="331.88" stroke="#371b51" stroke-width="0.65"/>
<line x1="322.28" y1="337.52" x2="324.88" y2="337.52" stroke="#371b51" stroke-width="0.65"/>
<circle cx="323.58" cy="334.70" r="1.60" fill="#5c2d87"/>
<line x1="330.98" y1="362.30" x2="330.98" y2="365.60" stroke="#371b51" stroke-width="0.65"/>
<line x1="329.68" y1="362.30" x2="332.28" y2="362.30" stroke="#371b51" stroke-width="0.65"/>
<line x1="329.68" y1="365.60" x2="332.28" y2="365.60" stroke="#371b51" stroke-width="0.65"/>
<circle cx="330.98" cy="363.95" r="1.60" fill="#5c2d87"/>
<line x1="337.31" y1="362.30" x2="337.31" y2="365.60" stroke="#371b51" stroke-width="0.65"/>
<line x1="336.01" y1="362.30" x2="338.61" y2="362.30" stroke="#371b51" stroke-width="0.65"/>
<line x1="336.01" y1="365.60" x2="338.61" y2="365.60" stroke="#371b51" stroke-width="0.65"/>
<circle cx="337.31" cy="363.95" r="1.60" fill="#5c2d87"/>
<line x1="343.65" y1="362.30" x2="343.65" y2="365.60" stroke="#371b51" stroke-width="0.65"/>
<line x1="342.35" y1="362.30" x2="344.95" y2="362.30" stroke="#371b51" stroke-width="0.65"/>
<line x1="342.35" y1="365.60" x2="344.95" y2="365.60" stroke="#371b51" stroke-width="0.65"/>
<circle cx="343.65" cy="363.95" r="1.60" fill="#5c2d87"/>
<line x1="268.66" y1="361.52" x2="268.66" y2="364.88" stroke="#256c2c" stroke-width="0.65"/>
<line x1="267.36" y1="361.52" x2="269.96" y2="361.52" stroke="#256c2c" stroke-width="0.65"/>
<line x1="267.36" y1="364.88" x2="269.96" y2="364.88" stroke="#256c2c" stroke-width="0.65"/>
<circle cx="268.66" cy="363.20" r="1.60" fill="#3fb54a"/>
<line x1="276.05" y1="361.52" x2="276.05" y2="364.88" stroke="#256c2c" stroke-width="0.65"/>
<line x1="274.75" y1="361.52" x2="277.35" y2="361.52" stroke="#256c2c" stroke-width="0.65"/>
<line x1="274.75" y1="364.88" x2="277.35" y2="364.88" stroke="#256c2c" stroke-width="0.65"/>
<circle cx="276.05" cy="363.20" r="1.60" fill="#3fb54a"/>
<line x1="282.39" y1="362.30" x2="282.39" y2="365.60" stroke="#256c2c" stroke-width="0.65"/>
<line x1="281.09" y1="362.30" x2="283.69" y2="362.30" stroke="#256c2c" stroke-width="0.65"/>
<line x1="281.09" y1="365.60" x2="283.69" y2="365.60" stroke="#256c2c" stroke-width="0.65"/>
<circle cx="282.39" cy="363.95" r="1.60" fill="#3fb54a"/>
<line x1="289.78" y1="344.36" x2="289.78" y2="349.04" stroke="#256c2c" stroke-width="0.65"/>
<line x1="288.48" y1="344.36" x2="291.08" y2="344.36" stroke="#256c2c" stroke-width="0.65"/>
<line x1="288.48" y1="349.04" x2="291.08" y2="349.04" stroke="#256c2c" stroke-width="0.65"/>
<circle cx="289.78" cy="346.70" r="1.60" fill="#3fb54a"/>
<line x1="296.12" y1="339.68" x2="296.12" y2="344.72" stroke="#256c2c" stroke-width="0.65"/>
<line x1="294.82" y1="339.68" x2="297.42" y2="339.68" stroke="#256c2c" stroke-width="0.65"/>
<line x1="294.82" y1="344.72" x2="297.42" y2="344.72" stroke="#256c2c" stroke-width="0.65"/>
<circle cx="296.12" cy="342.20" r="1.60" fill="#3fb54a"/>
<line x1="303.51" y1="340.46" x2="303.51" y2="345.44" stroke="#256c2c" stroke-width="0.65"/>
<line x1="302.21" y1="340.46" x2="304.81" y2="340.46" stroke="#256c2c" stroke-width="0.65"/>
<line x1="302.21" y1="345.44" x2="304.81" y2="345.44" stroke="#256c2c" stroke-width="0.65"/>
<circle cx="303.51" cy="342.95" r="1.60" fill="#3fb54a"/>
<line x1="309.85" y1="336.56" x2="309.85" y2="341.84" stroke="#256c2c" stroke-width="0.65"/>
<line x1="308.55" y1="336.56" x2="311.15" y2="336.56" stroke="#256c2c" stroke-width="0.65"/>
<line x1="308.55" y1="341.84" x2="311.15" y2="341.84" stroke="#256c2c" stroke-width="0.65"/>
<circle cx="309.85" cy="339.20" r="1.60" fill="#3fb54a"/>
<line x1="317.24" y1="338.12" x2="317.24" y2="343.28" stroke="#256c2c" stroke-width="0.65"/>
<line x1="315.94" y1="338.12" x2="318.54" y2="338.12" stroke="#256c2c" stroke-width="0.65"/>
<line x1="315.94" y1="343.28" x2="318.54" y2="343.28" stroke="#256c2c" stroke-width="0.65"/>
<circle cx="317.24" cy="340.70" r="1.60" fill="#3fb54a"/>
<line x1="323.58" y1="335.00" x2="323.58" y2="340.40" stroke="#256c2c" stroke-width="0.65"/>
<line x1="322.28" y1="335.00" x2="324.88" y2="335.00" stroke="#256c2c" stroke-width="0.65"/>
<line x1="322.28" y1="340.40" x2="324.88" y2="340.40" stroke="#256c2c" stroke-width="0.65"/>
<circle cx="323.58" cy="337.70" r="1.60" fill="#3fb54a"/>
<line x1="330.98" y1="362.30" x2="330.98" y2="365.60" stroke="#256c2c" stroke-width="0.65"/>
<line x1="329.68" y1="362.30" x2="332.28" y2="362.30" stroke="#256c2c" stroke-width="0.65"/>
<line x1="329.68" y1="365.60" x2="332.28" y2="365.60" stroke="#256c2c" stroke-width="0.65"/>
<circle cx="330.98" cy="363.95" r="1.60" fill="#3fb54a"/>
<line x1="337.31" y1="362.30" x2="337.31" y2="365.60" stroke="#256c2c" stroke-width="0.65"/>
<line x1="336.01" y1="362.30" x2="338.61" y2="362.30" stroke="#256c2c" stroke-width="0.65"/>
<line x1="336.01" y1="365.60" x2="338.61" y2="365.60" stroke="#256c2c" stroke-width="0.65"/>
<circle cx="337.31" cy="363.95" r="1.60" fill="#3fb54a"/>
<line x1="343.65" y1="362.30" x2="343.65" y2="365.60" stroke="#256c2c" stroke-width="0.65"/>
<line x1="342.35" y1="362.30" x2="344.95" y2="362.30" stroke="#256c2c" stroke-width="0.65"/>
<line x1="342.35" y1="365.60" x2="344.95" y2="365.60" stroke="#256c2c" stroke-width="0.65"/>
<circle cx="343.65" cy="363.95" r="1.60" fill="#3fb54a"/>
<line x1="268.66" y1="360.74" x2="268.66" y2="364.16" stroke="#112f57" stroke-width="0.65"/>
<line x1="267.36" y1="360.74" x2="269.96" y2="360.74" stroke="#112f57" stroke-width="0.65"/>
<line x1="267.36" y1="364.16" x2="269.96" y2="364.16" stroke="#112f57" stroke-width="0.65"/>
<circle cx="268.66" cy="362.45" r="1.60" fill="#1d4f91"/>
<line x1="276.05" y1="360.74" x2="276.05" y2="364.16" stroke="#112f57" stroke-width="0.65"/>
<line x1="274.75" y1="360.74" x2="277.35" y2="360.74" stroke="#112f57" stroke-width="0.65"/>
<line x1="274.75" y1="364.16" x2="277.35" y2="364.16" stroke="#112f57" stroke-width="0.65"/>
<circle cx="276.05" cy="362.45" r="1.60" fill="#1d4f91"/>
<line x1="282.39" y1="361.52" x2="282.39" y2="364.88" stroke="#112f57" stroke-width="0.65"/>
<line x1="281.09" y1="361.52" x2="283.69" y2="361.52" stroke="#112f57" stroke-width="0.65"/>
<line x1="281.09" y1="364.88" x2="283.69" y2="364.88" stroke="#112f57" stroke-width="0.65"/>
<circle cx="282.39" cy="363.20" r="1.60" fill="#1d4f91"/>
<line x1="289.78" y1="331.88" x2="289.78" y2="337.52" stroke="#112f57" stroke-width="0.65"/>
<line x1="288.48" y1="331.88" x2="291.08" y2="331.88" stroke="#112f57" stroke-width="0.65"/>
<line x1="288.48" y1="337.52" x2="291.08" y2="337.52" stroke="#112f57" stroke-width="0.65"/>
<circle cx="289.78" cy="334.70" r="1.60" fill="#1d4f91"/>
<line x1="296.12" y1="335.78" x2="296.12" y2="341.12" stroke="#112f57" stroke-width="0.65"/>
<line x1="294.82" y1="335.78" x2="297.42" y2="335.78" stroke="#112f57" stroke-width="0.65"/>
<line x1="294.82" y1="341.12" x2="297.42" y2="341.12" stroke="#112f57" stroke-width="0.65"/>
<circle cx="296.12" cy="338.45" r="1.60" fill="#1d4f91"/>
<line x1="303.51" y1="330.32" x2="303.51" y2="336.08" stroke="#112f57" stroke-width="0.65"/>
<line x1="302.21" y1="330.32" x2="304.81" y2="330.32" stroke="#112f57" stroke-width="0.65"/>
<line x1="302.21" y1="336.08" x2="304.81" y2="336.08" stroke="#112f57" stroke-width="0.65"/>
<circle cx="303.51" cy="333.20" r="1.60" fill="#1d4f91"/>
<line x1="309.85" y1="324.08" x2="309.85" y2="330.32" stroke="#112f57" stroke-width="0.65"/>
<line x1="308.55" y1="324.08" x2="311.15" y2="324.08" stroke="#112f57" stroke-width="0.65"/>
<line x1="308.55" y1="330.32" x2="311.15" y2="330.32" stroke="#112f57" stroke-width="0.65"/>
<circle cx="309.85" cy="327.20" r="1.60" fill="#1d4f91"/>
<line x1="317.24" y1="327.20" x2="317.24" y2="333.20" stroke="#112f57" stroke-width="0.65"/>
<line x1="315.94" y1="327.20" x2="318.54" y2="327.20" stroke="#112f57" stroke-width="0.65"/>
<line x1="315.94" y1="333.20" x2="318.54" y2="333.20" stroke="#112f57" stroke-width="0.65"/>
<circle cx="317.24" cy="330.20" r="1.60" fill="#1d4f91"/>
<line x1="323.58" y1="326.42" x2="323.58" y2="332.48" stroke="#112f57" stroke-width="0.65"/>
<line x1="322.28" y1="326.42" x2="324.88" y2="326.42" stroke="#112f57" stroke-width="0.65"/>
<line x1="322.28" y1="332.48" x2="324.88" y2="332.48" stroke="#112f57" stroke-width="0.65"/>
<circle cx="323.58" cy="329.45" r="1.60" fill="#1d4f91"/>
<line x1="330.98" y1="361.52" x2="330.98" y2="364.88" stroke="#112f57" stroke-width="0.65"/>
<line x1="329.68" y1="361.52" x2="332.28" y2="361.52" stroke="#112f57" stroke-width="0.65"/>
<line x1="329.68" y1="364.88" x2="332.28" y2="364.88" stroke="#112f57" stroke-width="0.65"/>
<circle cx="330.98" cy="363.20" r="1.60" fill="#1d4f91"/>
<line x1="337.31" y1="361.52" x2="337.31" y2="364.88" stroke="#112f57" stroke-width="0.65"/>
<line x1="336.01" y1="361.52" x2="338.61" y2="361.52" stroke="#112f57" stroke-width="0.65"/>
<line x1="336.01" y1="364.88" x2="338.61" y2="364.88" stroke="#112f57" stroke-width="0.65"/>
<circle cx="337.31" cy="363.20" r="1.60" fill="#1d4f91"/>
<line x1="343.65" y1="361.52" x2="343.65" y2="364.88" stroke="#112f57" stroke-width="0.65"/>
<line x1="342.35" y1="361.52" x2="344.95" y2="361.52" stroke="#112f57" stroke-width="0.65"/>
<line x1="342.35" y1="364.88" x2="344.95" y2="364.88" stroke="#112f57" stroke-width="0.65"/>
<circle cx="343.65" cy="363.20" r="1.60" fill="#1d4f91"/>
</g>
<g>
<text transform="translate(364.60,262.80)" font-size="10.6" fill="#000" font-weight="bold" stroke="#000" stroke-width="0.22">M</text>
<line x1="392.50" y1="292.40" x2="392.50" y2="368.73" stroke="#1a1a1a" stroke-width="1.25"/>
<line x1="388.98" y1="368.10" x2="392.50" y2="368.10" stroke="#1a1a1a" stroke-width="1.0"/>
<text transform="translate(386.38,370.37) scale(0.9300,1)" font-size="6.4" text-anchor="end" fill="#231f20" stroke="#231f20" stroke-width="0.16">0</text>
<line x1="388.98" y1="350.33" x2="392.50" y2="350.33" stroke="#1a1a1a" stroke-width="1.0"/>
<text transform="translate(386.38,352.60) scale(0.9300,1)" font-size="6.4" text-anchor="end" fill="#231f20" stroke="#231f20" stroke-width="0.16">0.5</text>
<line x1="388.98" y1="332.55" x2="392.50" y2="332.55" stroke="#1a1a1a" stroke-width="1.0"/>
<text transform="translate(386.38,334.82) scale(0.9300,1)" font-size="6.4" text-anchor="end" fill="#231f20" stroke="#231f20" stroke-width="0.16">1</text>
<line x1="388.98" y1="314.77" x2="392.50" y2="314.77" stroke="#1a1a1a" stroke-width="1.0"/>
<text transform="translate(386.38,317.05) scale(0.9300,1)" font-size="6.4" text-anchor="end" fill="#231f20" stroke="#231f20" stroke-width="0.16">1.5</text>
<line x1="388.98" y1="297.00" x2="392.50" y2="297.00" stroke="#1a1a1a" stroke-width="1.0"/>
<text transform="translate(386.38,299.27) scale(0.9300,1)" font-size="6.4" text-anchor="end" fill="#231f20" stroke="#231f20" stroke-width="0.16">2</text>
<line x1="391.88" y1="368.10" x2="434.30" y2="368.10" stroke="#1a1a1a" stroke-width="1.25"/>
<line x1="414.30" y1="368.10" x2="414.30" y2="370.93" stroke="#1a1a1a" stroke-width="1.0"/>
<rect x="395.80" y="332.55" width="5.50" height="35.55" fill="#80a4cd"/>
<rect x="406.20" y="314.06" width="5.40" height="54.04" fill="#a6dca1"/>
<rect x="416.50" y="348.01" width="5.30" height="20.09" fill="#f08d9d"/>
<rect x="426.80" y="321.88" width="5.30" height="46.22" fill="#b496cb"/>
<circle cx="397.83" cy="330.77" r="1.45" fill="#1d4f91"/>
<circle cx="398.55" cy="332.55" r="1.45" fill="#1d4f91"/>
<circle cx="399.27" cy="334.33" r="1.45" fill="#1d4f91"/>
<circle cx="408.18" cy="313.00" r="1.45" fill="#3fb54a"/>
<circle cx="408.90" cy="314.77" r="1.45" fill="#3fb54a"/>
<circle cx="409.62" cy="316.55" r="1.45" fill="#3fb54a"/>
<circle cx="418.43" cy="346.06" r="1.45" fill="#c8102e"/>
<circle cx="419.15" cy="348.19" r="1.45" fill="#c8102e"/>
<circle cx="419.87" cy="350.33" r="1.45" fill="#c8102e"/>
<circle cx="428.73" cy="319.75" r="1.45" fill="#5c2d87"/>
<circle cx="429.45" cy="321.53" r="1.45" fill="#5c2d87"/>
<circle cx="430.17" cy="323.31" r="1.45" fill="#5c2d87"/>
<text transform="translate(372.60,330.80) rotate(-90) scale(0.8880,1)" font-size="8.4" text-anchor="middle" fill="#231f20" stroke="#231f20" stroke-width="0.16">Relative glucose uptake</text>
<path d="M397.70,298.90V297.30H429.40V298.90" fill="none" stroke="#1a1a1a" stroke-width="0.9"/>
<text transform="translate(410.50,295.70) scale(0.8500,1)" font-size="6.8" text-anchor="middle" fill="#231f20" stroke="#231f20" stroke-width="0.25">†††</text>
<path d="M397.70,306.60V305.00H408.20V306.60" fill="none" stroke="#1a1a1a" stroke-width="0.9"/>
<text transform="translate(403.30,303.70) scale(0.8500,1)" font-size="6.8" text-anchor="middle" fill="#231f20" stroke="#231f20" stroke-width="0.25">†††</text>
<path d="M408.90,306.60V305.00H429.40V306.60" fill="none" stroke="#1a1a1a" stroke-width="0.9"/>
<text transform="translate(420.10,303.70) scale(0.8500,1)" font-size="6.8" text-anchor="middle" fill="#231f20" stroke="#231f20" stroke-width="0.25">†</text>
<path d="M418.90,315.80V314.20H429.40V315.80" fill="none" stroke="#1a1a1a" stroke-width="0.9"/>
<text transform="translate(424.10,312.50) scale(0.8500,1)" font-size="6.8" text-anchor="middle" fill="#231f20" stroke="#231f20" stroke-width="0.25">†††</text>
<path d="M397.10,326.90V325.30H418.60V326.90" fill="none" stroke="#1a1a1a" stroke-width="0.9"/>
<text transform="translate(399.80,323.70) scale(0.8500,1)" font-size="6.8" text-anchor="middle" fill="#231f20" stroke="#231f20" stroke-width="0.25">†††</text>
<line x1="476.60" y1="292.00" x2="476.60" y2="368.73" stroke="#1a1a1a" stroke-width="1.25"/>
<line x1="473.08" y1="368.10" x2="476.60" y2="368.10" stroke="#1a1a1a" stroke-width="1.0"/>
<text transform="translate(470.48,370.37) scale(0.9300,1)" font-size="6.4" text-anchor="end" fill="#231f20" stroke="#231f20" stroke-width="0.16">0</text>
<line x1="473.08" y1="344.10" x2="476.60" y2="344.10" stroke="#1a1a1a" stroke-width="1.0"/>
<text transform="translate(470.48,346.37) scale(0.9300,1)" font-size="6.4" text-anchor="end" fill="#231f20" stroke="#231f20" stroke-width="0.16">1</text>
<line x1="473.08" y1="320.10" x2="476.60" y2="320.10" stroke="#1a1a1a" stroke-width="1.0"/>
<text transform="translate(470.48,322.37) scale(0.9300,1)" font-size="6.4" text-anchor="end" fill="#231f20" stroke="#231f20" stroke-width="0.16">2</text>
<line x1="473.08" y1="296.10" x2="476.60" y2="296.10" stroke="#1a1a1a" stroke-width="1.0"/>
<text transform="translate(470.48,298.37) scale(0.9300,1)" font-size="6.4" text-anchor="end" fill="#231f20" stroke="#231f20" stroke-width="0.16">3</text>
<line x1="475.98" y1="368.10" x2="518.40" y2="368.10" stroke="#1a1a1a" stroke-width="1.25"/>
<line x1="481.80" y1="368.10" x2="481.80" y2="370.93" stroke="#1a1a1a" stroke-width="1.0"/>
<line x1="492.30" y1="368.10" x2="492.30" y2="370.93" stroke="#1a1a1a" stroke-width="1.0"/>
<line x1="502.60" y1="368.10" x2="502.60" y2="370.93" stroke="#1a1a1a" stroke-width="1.0"/>
<line x1="513.10" y1="368.10" x2="513.10" y2="370.93" stroke="#1a1a1a" stroke-width="1.0"/>
<rect x="479.60" y="337.38" width="5.40" height="30.72" fill="#80a4cd"/>
<rect x="489.90" y="316.50" width="5.30" height="51.60" fill="#a6dca1"/>
<rect x="500.00" y="346.50" width="5.40" height="21.60" fill="#f08d9d"/>
<rect x="510.40" y="315.06" width="5.40" height="53.04" fill="#b496cb"/>
<line x1="482.30" y1="331.86" x2="482.30" y2="339.30" stroke="#1a1a1a" stroke-width="0.7"/>
<line x1="481.10" y1="331.86" x2="483.50" y2="331.86" stroke="#1a1a1a" stroke-width="0.7"/>
<line x1="481.10" y1="339.30" x2="483.50" y2="339.30" stroke="#1a1a1a" stroke-width="0.7"/>
<line x1="492.55" y1="308.82" x2="492.55" y2="319.62" stroke="#1a1a1a" stroke-width="0.7"/>
<line x1="491.35" y1="308.82" x2="493.75" y2="308.82" stroke="#1a1a1a" stroke-width="0.7"/>
<line x1="491.35" y1="319.62" x2="493.75" y2="319.62" stroke="#1a1a1a" stroke-width="0.7"/>
<line x1="502.70" y1="344.10" x2="502.70" y2="352.02" stroke="#1a1a1a" stroke-width="0.7"/>
<line x1="501.50" y1="344.10" x2="503.90" y2="344.10" stroke="#1a1a1a" stroke-width="0.7"/>
<line x1="501.50" y1="352.02" x2="503.90" y2="352.02" stroke="#1a1a1a" stroke-width="0.7"/>
<line x1="513.10" y1="308.10" x2="513.10" y2="317.70" stroke="#1a1a1a" stroke-width="0.7"/>
<line x1="511.90" y1="308.10" x2="514.30" y2="308.10" stroke="#1a1a1a" stroke-width="0.7"/>
<line x1="511.90" y1="317.70" x2="514.30" y2="317.70" stroke="#1a1a1a" stroke-width="0.7"/>
<circle cx="481.58" cy="332.58" r="1.45" fill="#1d4f91"/>
<circle cx="482.30" cy="335.70" r="1.45" fill="#1d4f91"/>
<circle cx="483.02" cy="338.82" r="1.45" fill="#1d4f91"/>
<circle cx="491.83" cy="309.30" r="1.45" fill="#3fb54a"/>
<circle cx="492.55" cy="314.10" r="1.45" fill="#3fb54a"/>
<circle cx="493.27" cy="318.90" r="1.45" fill="#3fb54a"/>
<circle cx="501.98" cy="344.34" r="1.45" fill="#c8102e"/>
<circle cx="502.70" cy="347.70" r="1.45" fill="#c8102e"/>
<circle cx="503.42" cy="351.06" r="1.45" fill="#c8102e"/>
<circle cx="512.38" cy="308.58" r="1.45" fill="#5c2d87"/>
<circle cx="513.10" cy="312.90" r="1.45" fill="#5c2d87"/>
<circle cx="513.82" cy="317.22" r="1.45" fill="#5c2d87"/>
<text transform="translate(448.00,332.70) rotate(-90) scale(0.8730,1)" font-size="8.4" text-anchor="middle" fill="#231f20" stroke="#231f20" stroke-width="0.16">Glucose uptake-GloTM</text>
<text transform="translate(459.60,332.70) rotate(-90) scale(0.9375,1)" font-size="8.4" text-anchor="middle" fill="#231f20" stroke="#231f20" stroke-width="0.16">RLU (×10<tspan dy="-3.36" font-size="4.70">5</tspan><tspan dy="3.36" font-size="8.40">)</tspan></text>
<path d="M484.30,297.10V295.50H512.30V297.10" fill="none" stroke="#1a1a1a" stroke-width="0.9"/>
<text transform="translate(498.60,293.30) scale(0.8500,1)" font-size="6.8" text-anchor="middle" fill="#231f20" stroke="#231f20" stroke-width="0.25">††</text>
<path d="M484.30,306.60V305.00H493.10V306.60" fill="none" stroke="#1a1a1a" stroke-width="0.9"/>
<text transform="translate(487.90,303.90) scale(0.8500,1)" font-size="6.8" text-anchor="middle" fill="#231f20" stroke="#231f20" stroke-width="0.25">††</text>
<path d="M503.40,305.80V304.20H512.30V305.80" fill="none" stroke="#1a1a1a" stroke-width="0.9"/>
<text transform="translate(508.20,303.10) scale(0.8500,1)" font-size="6.8" text-anchor="middle" fill="#231f20" stroke="#231f20" stroke-width="0.25">†††</text>
<path d="M480.30,328.40V326.80H499.20V328.40" fill="none" stroke="#1a1a1a" stroke-width="0.9"/>
<text transform="translate(483.70,325.10) scale(0.8500,1)" font-size="6.8" text-anchor="middle" fill="#231f20" stroke="#231f20" stroke-width="0.25">††</text>
</g>
<g>
<text transform="translate(1.20,418.20)" font-size="10.6" fill="#000" font-weight="bold" stroke="#000" stroke-width="0.22">N</text>
<line x1="32.90" y1="411.00" x2="39.90" y2="411.00" stroke="#1d4f91" stroke-width="1.1"/>
<circle cx="36.40" cy="411.00" r="1.80" fill="#1d4f91"/>
<text transform="translate(43.50,413.50) scale(0.8723,1)" font-size="7.3" fill="#231f20" stroke="#231f20" stroke-width="0.16">WT</text>
<line x1="77.80" y1="411.00" x2="84.80" y2="411.00" stroke="#c8102e" stroke-width="1.1"/>
<circle cx="81.30" cy="411.00" r="1.80" fill="#c8102e"/>
<text transform="translate(88.00,413.50) scale(1.0075,1)" font-size="7.3" fill="#231f20" stroke="#231f20" stroke-width="0.16">Sphk2<tspan dy="-2.92" font-size="4.09">Δ/Δ</tspan></text>
<line x1="32.90" y1="422.00" x2="39.90" y2="422.00" stroke="#3fb54a" stroke-width="1.1"/>
<circle cx="36.40" cy="422.00" r="1.80" fill="#3fb54a"/>
<text transform="translate(43.50,424.50) scale(1.0571,1)" font-size="7.3" fill="#231f20" stroke="#231f20" stroke-width="0.16">Pdk3<tspan dy="-2.92" font-size="4.09">Δ/+</tspan></text>
<line x1="77.80" y1="422.00" x2="84.80" y2="422.00" stroke="#5c2d87" stroke-width="1.1"/>
<circle cx="81.30" cy="422.00" r="1.80" fill="#5c2d87"/>
<text transform="translate(88.00,424.50) scale(1.0876,1)" font-size="7.3" fill="#231f20" stroke="#231f20" stroke-width="0.16">Sphk2<tspan dy="-2.92" font-size="4.09">Δ/Δ</tspan><tspan dy="2.92" font-size="7.30">; Pdk3</tspan><tspan dy="-2.92" font-size="4.09">Δ/+</tspan></text>
<line x1="32.90" y1="432.80" x2="39.90" y2="432.80" stroke="#f7941d" stroke-width="1.1"/>
<circle cx="36.40" cy="432.80" r="1.80" fill="#f7941d"/>
<text transform="translate(43.50,435.30) scale(1.0242,1)" font-size="7.3" fill="#231f20" stroke="#231f20" stroke-width="0.16">Bone marrow cells</text>
<line x1="28.90" y1="440.20" x2="28.90" y2="518.92" stroke="#1a1a1a" stroke-width="1.25"/>
<line x1="25.38" y1="518.30" x2="28.90" y2="518.30" stroke="#1a1a1a" stroke-width="1.0"/>
<text transform="translate(22.77,520.57) scale(0.9300,1)" font-size="6.4" text-anchor="end" fill="#231f20" stroke="#231f20" stroke-width="0.16">0</text>
<line x1="25.38" y1="503.40" x2="28.90" y2="503.40" stroke="#1a1a1a" stroke-width="1.0"/>
<text transform="translate(22.77,505.67) scale(0.9300,1)" font-size="6.4" text-anchor="end" fill="#231f20" stroke="#231f20" stroke-width="0.16">9</text>
<line x1="25.38" y1="488.50" x2="28.90" y2="488.50" stroke="#1a1a1a" stroke-width="1.0"/>
<text transform="translate(22.77,490.77) scale(0.9300,1)" font-size="6.4" text-anchor="end" fill="#231f20" stroke="#231f20" stroke-width="0.16">18</text>
<line x1="25.38" y1="473.60" x2="28.90" y2="473.60" stroke="#1a1a1a" stroke-width="1.0"/>
<text transform="translate(22.77,475.87) scale(0.9300,1)" font-size="6.4" text-anchor="end" fill="#231f20" stroke="#231f20" stroke-width="0.16">27</text>
<line x1="25.38" y1="458.70" x2="28.90" y2="458.70" stroke="#1a1a1a" stroke-width="1.0"/>
<text transform="translate(22.77,460.97) scale(0.9300,1)" font-size="6.4" text-anchor="end" fill="#231f20" stroke="#231f20" stroke-width="0.16">36</text>
<line x1="25.38" y1="443.80" x2="28.90" y2="443.80" stroke="#1a1a1a" stroke-width="1.0"/>
<text transform="translate(22.77,446.07) scale(0.9300,1)" font-size="6.4" text-anchor="end" fill="#231f20" stroke="#231f20" stroke-width="0.16">45</text>
<line x1="28.27" y1="518.30" x2="138.50" y2="518.30" stroke="#1a1a1a" stroke-width="1.25"/>
<line x1="28.90" y1="518.30" x2="28.90" y2="520.92" stroke="#1a1a1a" stroke-width="1.0"/>
<line x1="55.30" y1="518.30" x2="55.30" y2="520.92" stroke="#1a1a1a" stroke-width="1.0"/>
<line x1="81.70" y1="518.30" x2="81.70" y2="520.92" stroke="#1a1a1a" stroke-width="1.0"/>
<line x1="108.10" y1="518.30" x2="108.10" y2="520.92" stroke="#1a1a1a" stroke-width="1.0"/>
<line x1="134.50" y1="518.30" x2="134.50" y2="520.92" stroke="#1a1a1a" stroke-width="1.0"/>
<text transform="translate(28.90,527.60) scale(0.9300,1)" font-size="6.4" text-anchor="middle" fill="#231f20" stroke="#231f20" stroke-width="0.16">0</text>
<text transform="translate(55.30,527.60) scale(0.9300,1)" font-size="6.4" text-anchor="middle" fill="#231f20" stroke="#231f20" stroke-width="0.16">20</text>
<text transform="translate(81.70,527.60) scale(0.9300,1)" font-size="6.4" text-anchor="middle" fill="#231f20" stroke="#231f20" stroke-width="0.16">40</text>
<text transform="translate(108.10,527.60) scale(0.9300,1)" font-size="6.4" text-anchor="middle" fill="#231f20" stroke="#231f20" stroke-width="0.16">60</text>
<text transform="translate(134.50,527.60) scale(0.9300,1)" font-size="6.4" text-anchor="middle" fill="#231f20" stroke="#231f20" stroke-width="0.16">80</text>
<text transform="translate(81.00,539.80) scale(0.9336,1)" font-size="8.4" text-anchor="middle" fill="#231f20" stroke="#231f20" stroke-width="0.16">Time (minutes)</text>
<text transform="translate(8.40,480.50) rotate(-90) scale(0.9560,1)" font-size="8.4" text-anchor="middle" fill="#231f20" stroke="#231f20" stroke-width="0.16">OCR (pmol/min)</text>
<polyline points="30.22,493.47 39.46,494.29 47.38,493.47 56.62,497.61 64.54,498.43 73.78,498.43 81.70,490.16 90.94,490.98 98.86,487.67 108.10,500.09 116.02,501.74 123.94,502.57" fill="none" stroke="#c8102e" stroke-width="1.2"/>
<polyline points="30.22,480.22 39.46,480.22 47.38,480.22 56.62,498.43 64.54,499.26 73.78,495.95 81.70,465.32 90.94,468.63 98.86,468.63 108.10,498.43 116.02,498.43 123.94,498.43" fill="none" stroke="#1d4f91" stroke-width="1.2"/>
<polyline points="30.22,473.60 39.46,471.12 47.38,470.29 56.62,496.78 64.54,498.43 73.78,495.12 81.70,453.73 90.94,450.42 98.86,455.39 108.10,498.43 116.02,498.43 123.94,498.43" fill="none" stroke="#f7941d" stroke-width="1.2"/>
<polyline points="30.22,475.26 39.46,475.26 47.38,475.26 56.62,496.78 64.54,498.43 73.78,495.12 81.70,455.39 90.94,454.56 98.86,457.87 108.10,498.43 116.02,498.43 123.94,498.43" fill="none" stroke="#3fb54a" stroke-width="1.2"/>
<polyline points="30.22,476.91 39.46,476.08 47.38,476.08 56.62,496.78 64.54,495.12 73.78,495.12 81.70,457.04 90.94,455.39 98.86,460.36 108.10,497.61 116.02,498.43 123.94,498.43" fill="none" stroke="#5c2d87" stroke-width="1.2"/>
<line x1="30.22" y1="490.49" x2="30.22" y2="496.45" stroke="#78091b" stroke-width="0.65"/>
<line x1="28.92" y1="490.49" x2="31.52" y2="490.49" stroke="#78091b" stroke-width="0.65"/>
<line x1="28.92" y1="496.45" x2="31.52" y2="496.45" stroke="#78091b" stroke-width="0.65"/>
<circle cx="30.22" cy="493.47" r="1.60" fill="#c8102e"/>
<line x1="39.46" y1="491.35" x2="39.46" y2="497.24" stroke="#78091b" stroke-width="0.65"/>
<line x1="38.16" y1="491.35" x2="40.76" y2="491.35" stroke="#78091b" stroke-width="0.65"/>
<line x1="38.16" y1="497.24" x2="40.76" y2="497.24" stroke="#78091b" stroke-width="0.65"/>
<circle cx="39.46" cy="494.29" r="1.60" fill="#c8102e"/>
<line x1="47.38" y1="490.49" x2="47.38" y2="496.45" stroke="#78091b" stroke-width="0.65"/>
<line x1="46.08" y1="490.49" x2="48.68" y2="490.49" stroke="#78091b" stroke-width="0.65"/>
<line x1="46.08" y1="496.45" x2="48.68" y2="496.45" stroke="#78091b" stroke-width="0.65"/>
<circle cx="47.38" cy="493.47" r="1.60" fill="#c8102e"/>
<line x1="56.62" y1="494.79" x2="56.62" y2="500.42" stroke="#78091b" stroke-width="0.65"/>
<line x1="55.32" y1="494.79" x2="57.92" y2="494.79" stroke="#78091b" stroke-width="0.65"/>
<line x1="55.32" y1="500.42" x2="57.92" y2="500.42" stroke="#78091b" stroke-width="0.65"/>
<circle cx="56.62" cy="497.61" r="1.60" fill="#c8102e"/>
<line x1="64.54" y1="495.65" x2="64.54" y2="501.21" stroke="#78091b" stroke-width="0.65"/>
<line x1="63.24" y1="495.65" x2="65.84" y2="495.65" stroke="#78091b" stroke-width="0.65"/>
<line x1="63.24" y1="501.21" x2="65.84" y2="501.21" stroke="#78091b" stroke-width="0.65"/>
<circle cx="64.54" cy="498.43" r="1.60" fill="#c8102e"/>
<line x1="73.78" y1="495.65" x2="73.78" y2="501.21" stroke="#78091b" stroke-width="0.65"/>
<line x1="72.48" y1="495.65" x2="75.08" y2="495.65" stroke="#78091b" stroke-width="0.65"/>
<line x1="72.48" y1="501.21" x2="75.08" y2="501.21" stroke="#78091b" stroke-width="0.65"/>
<circle cx="73.78" cy="498.43" r="1.60" fill="#c8102e"/>
<line x1="81.70" y1="487.04" x2="81.70" y2="493.27" stroke="#78091b" stroke-width="0.65"/>
<line x1="80.40" y1="487.04" x2="83.00" y2="487.04" stroke="#78091b" stroke-width="0.65"/>
<line x1="80.40" y1="493.27" x2="83.00" y2="493.27" stroke="#78091b" stroke-width="0.65"/>
<circle cx="81.70" cy="490.16" r="1.60" fill="#c8102e"/>
<line x1="90.94" y1="487.90" x2="90.94" y2="494.06" stroke="#78091b" stroke-width="0.65"/>
<line x1="89.64" y1="487.90" x2="92.24" y2="487.90" stroke="#78091b" stroke-width="0.65"/>
<line x1="89.64" y1="494.06" x2="92.24" y2="494.06" stroke="#78091b" stroke-width="0.65"/>
<circle cx="90.94" cy="490.98" r="1.60" fill="#c8102e"/>
<line x1="98.86" y1="484.46" x2="98.86" y2="490.88" stroke="#78091b" stroke-width="0.65"/>
<line x1="97.56" y1="484.46" x2="100.16" y2="484.46" stroke="#78091b" stroke-width="0.65"/>
<line x1="97.56" y1="490.88" x2="100.16" y2="490.88" stroke="#78091b" stroke-width="0.65"/>
<circle cx="98.86" cy="487.67" r="1.60" fill="#c8102e"/>
<line x1="108.10" y1="497.37" x2="108.10" y2="502.80" stroke="#78091b" stroke-width="0.65"/>
<line x1="106.80" y1="497.37" x2="109.40" y2="497.37" stroke="#78091b" stroke-width="0.65"/>
<line x1="106.80" y1="502.80" x2="109.40" y2="502.80" stroke="#78091b" stroke-width="0.65"/>
<circle cx="108.10" cy="500.09" r="1.60" fill="#c8102e"/>
<line x1="116.02" y1="499.10" x2="116.02" y2="504.39" stroke="#78091b" stroke-width="0.65"/>
<line x1="114.72" y1="499.10" x2="117.32" y2="499.10" stroke="#78091b" stroke-width="0.65"/>
<line x1="114.72" y1="504.39" x2="117.32" y2="504.39" stroke="#78091b" stroke-width="0.65"/>
<circle cx="116.02" cy="501.74" r="1.60" fill="#c8102e"/>
<line x1="123.94" y1="499.96" x2="123.94" y2="505.19" stroke="#78091b" stroke-width="0.65"/>
<line x1="122.64" y1="499.96" x2="125.24" y2="499.96" stroke="#78091b" stroke-width="0.65"/>
<line x1="122.64" y1="505.19" x2="125.24" y2="505.19" stroke="#78091b" stroke-width="0.65"/>
<circle cx="123.94" cy="502.57" r="1.60" fill="#c8102e"/>
<line x1="30.22" y1="476.71" x2="30.22" y2="483.73" stroke="#112f57" stroke-width="0.65"/>
<line x1="28.92" y1="476.71" x2="31.52" y2="476.71" stroke="#112f57" stroke-width="0.65"/>
<line x1="28.92" y1="483.73" x2="31.52" y2="483.73" stroke="#112f57" stroke-width="0.65"/>
<circle cx="30.22" cy="480.22" r="1.60" fill="#1d4f91"/>
<line x1="39.46" y1="476.71" x2="39.46" y2="483.73" stroke="#112f57" stroke-width="0.65"/>
<line x1="38.16" y1="476.71" x2="40.76" y2="476.71" stroke="#112f57" stroke-width="0.65"/>
<line x1="38.16" y1="483.73" x2="40.76" y2="483.73" stroke="#112f57" stroke-width="0.65"/>
<circle cx="39.46" cy="480.22" r="1.60" fill="#1d4f91"/>
<line x1="47.38" y1="476.71" x2="47.38" y2="483.73" stroke="#112f57" stroke-width="0.65"/>
<line x1="46.08" y1="476.71" x2="48.68" y2="476.71" stroke="#112f57" stroke-width="0.65"/>
<line x1="46.08" y1="483.73" x2="48.68" y2="483.73" stroke="#112f57" stroke-width="0.65"/>
<circle cx="47.38" cy="480.22" r="1.60" fill="#1d4f91"/>
<line x1="56.62" y1="495.65" x2="56.62" y2="501.21" stroke="#112f57" stroke-width="0.65"/>
<line x1="55.32" y1="495.65" x2="57.92" y2="495.65" stroke="#112f57" stroke-width="0.65"/>
<line x1="55.32" y1="501.21" x2="57.92" y2="501.21" stroke="#112f57" stroke-width="0.65"/>
<circle cx="56.62" cy="498.43" r="1.60" fill="#1d4f91"/>
<line x1="64.54" y1="496.51" x2="64.54" y2="502.01" stroke="#112f57" stroke-width="0.65"/>
<line x1="63.24" y1="496.51" x2="65.84" y2="496.51" stroke="#112f57" stroke-width="0.65"/>
<line x1="63.24" y1="502.01" x2="65.84" y2="502.01" stroke="#112f57" stroke-width="0.65"/>
<circle cx="64.54" cy="499.26" r="1.60" fill="#1d4f91"/>
<line x1="73.78" y1="493.07" x2="73.78" y2="498.83" stroke="#112f57" stroke-width="0.65"/>
<line x1="72.48" y1="493.07" x2="75.08" y2="493.07" stroke="#112f57" stroke-width="0.65"/>
<line x1="72.48" y1="498.83" x2="75.08" y2="498.83" stroke="#112f57" stroke-width="0.65"/>
<circle cx="73.78" cy="495.95" r="1.60" fill="#1d4f91"/>
<line x1="81.70" y1="461.22" x2="81.70" y2="469.43" stroke="#112f57" stroke-width="0.65"/>
<line x1="80.40" y1="461.22" x2="83.00" y2="461.22" stroke="#112f57" stroke-width="0.65"/>
<line x1="80.40" y1="469.43" x2="83.00" y2="469.43" stroke="#112f57" stroke-width="0.65"/>
<circle cx="81.70" cy="465.32" r="1.60" fill="#1d4f91"/>
<line x1="90.94" y1="464.66" x2="90.94" y2="472.61" stroke="#112f57" stroke-width="0.65"/>
<line x1="89.64" y1="464.66" x2="92.24" y2="464.66" stroke="#112f57" stroke-width="0.65"/>
<line x1="89.64" y1="472.61" x2="92.24" y2="472.61" stroke="#112f57" stroke-width="0.65"/>
<circle cx="90.94" cy="468.63" r="1.60" fill="#1d4f91"/>
<line x1="98.86" y1="464.66" x2="98.86" y2="472.61" stroke="#112f57" stroke-width="0.65"/>
<line x1="97.56" y1="464.66" x2="100.16" y2="464.66" stroke="#112f57" stroke-width="0.65"/>
<line x1="97.56" y1="472.61" x2="100.16" y2="472.61" stroke="#112f57" stroke-width="0.65"/>
<circle cx="98.86" cy="468.63" r="1.60" fill="#1d4f91"/>
<line x1="108.10" y1="495.65" x2="108.10" y2="501.21" stroke="#112f57" stroke-width="0.65"/>
<line x1="106.80" y1="495.65" x2="109.40" y2="495.65" stroke="#112f57" stroke-width="0.65"/>
<line x1="106.80" y1="501.21" x2="109.40" y2="501.21" stroke="#112f57" stroke-width="0.65"/>
<circle cx="108.10" cy="498.43" r="1.60" fill="#1d4f91"/>
<line x1="116.02" y1="495.65" x2="116.02" y2="501.21" stroke="#112f57" stroke-width="0.65"/>
<line x1="114.72" y1="495.65" x2="117.32" y2="495.65" stroke="#112f57" stroke-width="0.65"/>
<line x1="114.72" y1="501.21" x2="117.32" y2="501.21" stroke="#112f57" stroke-width="0.65"/>
<circle cx="116.02" cy="498.43" r="1.60" fill="#1d4f91"/>
<line x1="123.94" y1="495.65" x2="123.94" y2="501.21" stroke="#112f57" stroke-width="0.65"/>
<line x1="122.64" y1="495.65" x2="125.24" y2="495.65" stroke="#112f57" stroke-width="0.65"/>
<line x1="122.64" y1="501.21" x2="125.24" y2="501.21" stroke="#112f57" stroke-width="0.65"/>
<circle cx="123.94" cy="498.43" r="1.60" fill="#1d4f91"/>
<line x1="30.22" y1="469.83" x2="30.22" y2="477.37" stroke="#945811" stroke-width="0.65"/>
<line x1="28.92" y1="469.83" x2="31.52" y2="469.83" stroke="#945811" stroke-width="0.65"/>
<line x1="28.92" y1="477.37" x2="31.52" y2="477.37" stroke="#945811" stroke-width="0.65"/>
<circle cx="30.22" cy="473.60" r="1.60" fill="#f7941d"/>
<line x1="39.46" y1="467.24" x2="39.46" y2="474.99" stroke="#945811" stroke-width="0.65"/>
<line x1="38.16" y1="467.24" x2="40.76" y2="467.24" stroke="#945811" stroke-width="0.65"/>
<line x1="38.16" y1="474.99" x2="40.76" y2="474.99" stroke="#945811" stroke-width="0.65"/>
<circle cx="39.46" cy="471.12" r="1.60" fill="#f7941d"/>
<line x1="47.38" y1="466.38" x2="47.38" y2="474.20" stroke="#945811" stroke-width="0.65"/>
<line x1="46.08" y1="466.38" x2="48.68" y2="466.38" stroke="#945811" stroke-width="0.65"/>
<line x1="46.08" y1="474.20" x2="48.68" y2="474.20" stroke="#945811" stroke-width="0.65"/>
<circle cx="47.38" cy="470.29" r="1.60" fill="#f7941d"/>
<line x1="56.62" y1="493.93" x2="56.62" y2="499.63" stroke="#945811" stroke-width="0.65"/>
<line x1="55.32" y1="493.93" x2="57.92" y2="493.93" stroke="#945811" stroke-width="0.65"/>
<line x1="55.32" y1="499.63" x2="57.92" y2="499.63" stroke="#945811" stroke-width="0.65"/>
<circle cx="56.62" cy="496.78" r="1.60" fill="#f7941d"/>
<line x1="64.54" y1="495.65" x2="64.54" y2="501.21" stroke="#945811" stroke-width="0.65"/>
<line x1="63.24" y1="495.65" x2="65.84" y2="495.65" stroke="#945811" stroke-width="0.65"/>
<line x1="63.24" y1="501.21" x2="65.84" y2="501.21" stroke="#945811" stroke-width="0.65"/>
<circle cx="64.54" cy="498.43" r="1.60" fill="#f7941d"/>
<line x1="73.78" y1="492.21" x2="73.78" y2="498.04" stroke="#945811" stroke-width="0.65"/>
<line x1="72.48" y1="492.21" x2="75.08" y2="492.21" stroke="#945811" stroke-width="0.65"/>
<line x1="72.48" y1="498.04" x2="75.08" y2="498.04" stroke="#945811" stroke-width="0.65"/>
<circle cx="73.78" cy="495.12" r="1.60" fill="#f7941d"/>
<line x1="81.70" y1="449.16" x2="81.70" y2="458.30" stroke="#945811" stroke-width="0.65"/>
<line x1="80.40" y1="449.16" x2="83.00" y2="449.16" stroke="#945811" stroke-width="0.65"/>
<line x1="80.40" y1="458.30" x2="83.00" y2="458.30" stroke="#945811" stroke-width="0.65"/>
<circle cx="81.70" cy="453.73" r="1.60" fill="#f7941d"/>
<line x1="90.94" y1="445.72" x2="90.94" y2="455.12" stroke="#945811" stroke-width="0.65"/>
<line x1="89.64" y1="445.72" x2="92.24" y2="445.72" stroke="#945811" stroke-width="0.65"/>
<line x1="89.64" y1="455.12" x2="92.24" y2="455.12" stroke="#945811" stroke-width="0.65"/>
<circle cx="90.94" cy="450.42" r="1.60" fill="#f7941d"/>
<line x1="98.86" y1="450.89" x2="98.86" y2="459.89" stroke="#945811" stroke-width="0.65"/>
<line x1="97.56" y1="450.89" x2="100.16" y2="450.89" stroke="#945811" stroke-width="0.65"/>
<line x1="97.56" y1="459.89" x2="100.16" y2="459.89" stroke="#945811" stroke-width="0.65"/>
<circle cx="98.86" cy="455.39" r="1.60" fill="#f7941d"/>
<line x1="108.10" y1="495.65" x2="108.10" y2="501.21" stroke="#945811" stroke-width="0.65"/>
<line x1="106.80" y1="495.65" x2="109.40" y2="495.65" stroke="#945811" stroke-width="0.65"/>
<line x1="106.80" y1="501.21" x2="109.40" y2="501.21" stroke="#945811" stroke-width="0.65"/>
<circle cx="108.10" cy="498.43" r="1.60" fill="#f7941d"/>
<line x1="116.02" y1="495.65" x2="116.02" y2="501.21" stroke="#945811" stroke-width="0.65"/>
<line x1="114.72" y1="495.65" x2="117.32" y2="495.65" stroke="#945811" stroke-width="0.65"/>
<line x1="114.72" y1="501.21" x2="117.32" y2="501.21" stroke="#945811" stroke-width="0.65"/>
<circle cx="116.02" cy="498.43" r="1.60" fill="#f7941d"/>
<line x1="123.94" y1="495.65" x2="123.94" y2="501.21" stroke="#945811" stroke-width="0.65"/>
<line x1="122.64" y1="495.65" x2="125.24" y2="495.65" stroke="#945811" stroke-width="0.65"/>
<line x1="122.64" y1="501.21" x2="125.24" y2="501.21" stroke="#945811" stroke-width="0.65"/>
<circle cx="123.94" cy="498.43" r="1.60" fill="#f7941d"/>
<line x1="30.22" y1="471.55" x2="30.22" y2="478.96" stroke="#256c2c" stroke-width="0.65"/>
<line x1="28.92" y1="471.55" x2="31.52" y2="471.55" stroke="#256c2c" stroke-width="0.65"/>
<line x1="28.92" y1="478.96" x2="31.52" y2="478.96" stroke="#256c2c" stroke-width="0.65"/>
<circle cx="30.22" cy="475.26" r="1.60" fill="#3fb54a"/>
<line x1="39.46" y1="471.55" x2="39.46" y2="478.96" stroke="#256c2c" stroke-width="0.65"/>
<line x1="38.16" y1="471.55" x2="40.76" y2="471.55" stroke="#256c2c" stroke-width="0.65"/>
<line x1="38.16" y1="478.96" x2="40.76" y2="478.96" stroke="#256c2c" stroke-width="0.65"/>
<circle cx="39.46" cy="475.26" r="1.60" fill="#3fb54a"/>
<line x1="47.38" y1="471.55" x2="47.38" y2="478.96" stroke="#256c2c" stroke-width="0.65"/>
<line x1="46.08" y1="471.55" x2="48.68" y2="471.55" stroke="#256c2c" stroke-width="0.65"/>
<line x1="46.08" y1="478.96" x2="48.68" y2="478.96" stroke="#256c2c" stroke-width="0.65"/>
<circle cx="47.38" cy="475.26" r="1.60" fill="#3fb54a"/>
<line x1="56.62" y1="493.93" x2="56.62" y2="499.63" stroke="#256c2c" stroke-width="0.65"/>
<line x1="55.32" y1="493.93" x2="57.92" y2="493.93" stroke="#256c2c" stroke-width="0.65"/>
<line x1="55.32" y1="499.63" x2="57.92" y2="499.63" stroke="#256c2c" stroke-width="0.65"/>
<circle cx="56.62" cy="496.78" r="1.60" fill="#3fb54a"/>
<line x1="64.54" y1="495.65" x2="64.54" y2="501.21" stroke="#256c2c" stroke-width="0.65"/>
<line x1="63.24" y1="495.65" x2="65.84" y2="495.65" stroke="#256c2c" stroke-width="0.65"/>
<line x1="63.24" y1="501.21" x2="65.84" y2="501.21" stroke="#256c2c" stroke-width="0.65"/>
<circle cx="64.54" cy="498.43" r="1.60" fill="#3fb54a"/>
<line x1="73.78" y1="492.21" x2="73.78" y2="498.04" stroke="#256c2c" stroke-width="0.65"/>
<line x1="72.48" y1="492.21" x2="75.08" y2="492.21" stroke="#256c2c" stroke-width="0.65"/>
<line x1="72.48" y1="498.04" x2="75.08" y2="498.04" stroke="#256c2c" stroke-width="0.65"/>
<circle cx="73.78" cy="495.12" r="1.60" fill="#3fb54a"/>
<line x1="81.70" y1="450.89" x2="81.70" y2="459.89" stroke="#256c2c" stroke-width="0.65"/>
<line x1="80.40" y1="450.89" x2="83.00" y2="450.89" stroke="#256c2c" stroke-width="0.65"/>
<line x1="80.40" y1="459.89" x2="83.00" y2="459.89" stroke="#256c2c" stroke-width="0.65"/>
<circle cx="81.70" cy="455.39" r="1.60" fill="#3fb54a"/>
<line x1="90.94" y1="450.02" x2="90.94" y2="459.10" stroke="#256c2c" stroke-width="0.65"/>
<line x1="89.64" y1="450.02" x2="92.24" y2="450.02" stroke="#256c2c" stroke-width="0.65"/>
<line x1="89.64" y1="459.10" x2="92.24" y2="459.10" stroke="#256c2c" stroke-width="0.65"/>
<circle cx="90.94" cy="454.56" r="1.60" fill="#3fb54a"/>
<line x1="98.86" y1="453.47" x2="98.86" y2="462.28" stroke="#256c2c" stroke-width="0.65"/>
<line x1="97.56" y1="453.47" x2="100.16" y2="453.47" stroke="#256c2c" stroke-width="0.65"/>
<line x1="97.56" y1="462.28" x2="100.16" y2="462.28" stroke="#256c2c" stroke-width="0.65"/>
<circle cx="98.86" cy="457.87" r="1.60" fill="#3fb54a"/>
<line x1="108.10" y1="495.65" x2="108.10" y2="501.21" stroke="#256c2c" stroke-width="0.65"/>
<line x1="106.80" y1="495.65" x2="109.40" y2="495.65" stroke="#256c2c" stroke-width="0.65"/>
<line x1="106.80" y1="501.21" x2="109.40" y2="501.21" stroke="#256c2c" stroke-width="0.65"/>
<circle cx="108.10" cy="498.43" r="1.60" fill="#3fb54a"/>
<line x1="116.02" y1="495.65" x2="116.02" y2="501.21" stroke="#256c2c" stroke-width="0.65"/>
<line x1="114.72" y1="495.65" x2="117.32" y2="495.65" stroke="#256c2c" stroke-width="0.65"/>
<line x1="114.72" y1="501.21" x2="117.32" y2="501.21" stroke="#256c2c" stroke-width="0.65"/>
<circle cx="116.02" cy="498.43" r="1.60" fill="#3fb54a"/>
<line x1="123.94" y1="495.65" x2="123.94" y2="501.21" stroke="#256c2c" stroke-width="0.65"/>
<line x1="122.64" y1="495.65" x2="125.24" y2="495.65" stroke="#256c2c" stroke-width="0.65"/>
<line x1="122.64" y1="501.21" x2="125.24" y2="501.21" stroke="#256c2c" stroke-width="0.65"/>
<circle cx="123.94" cy="498.43" r="1.60" fill="#3fb54a"/>
<line x1="30.22" y1="473.27" x2="30.22" y2="480.55" stroke="#371b51" stroke-width="0.65"/>
<line x1="28.92" y1="473.27" x2="31.52" y2="473.27" stroke="#371b51" stroke-width="0.65"/>
<line x1="28.92" y1="480.55" x2="31.52" y2="480.55" stroke="#371b51" stroke-width="0.65"/>
<circle cx="30.22" cy="476.91" r="1.60" fill="#5c2d87"/>
<line x1="39.46" y1="472.41" x2="39.46" y2="479.76" stroke="#371b51" stroke-width="0.65"/>
<line x1="38.16" y1="472.41" x2="40.76" y2="472.41" stroke="#371b51" stroke-width="0.65"/>
<line x1="38.16" y1="479.76" x2="40.76" y2="479.76" stroke="#371b51" stroke-width="0.65"/>
<circle cx="39.46" cy="476.08" r="1.60" fill="#5c2d87"/>
<line x1="47.38" y1="472.41" x2="47.38" y2="479.76" stroke="#371b51" stroke-width="0.65"/>
<line x1="46.08" y1="472.41" x2="48.68" y2="472.41" stroke="#371b51" stroke-width="0.65"/>
<line x1="46.08" y1="479.76" x2="48.68" y2="479.76" stroke="#371b51" stroke-width="0.65"/>
<circle cx="47.38" cy="476.08" r="1.60" fill="#5c2d87"/>
<line x1="56.62" y1="493.93" x2="56.62" y2="499.63" stroke="#371b51" stroke-width="0.65"/>
<line x1="55.32" y1="493.93" x2="57.92" y2="493.93" stroke="#371b51" stroke-width="0.65"/>
<line x1="55.32" y1="499.63" x2="57.92" y2="499.63" stroke="#371b51" stroke-width="0.65"/>
<circle cx="56.62" cy="496.78" r="1.60" fill="#5c2d87"/>
<line x1="64.54" y1="492.21" x2="64.54" y2="498.04" stroke="#371b51" stroke-width="0.65"/>
<line x1="63.24" y1="492.21" x2="65.84" y2="492.21" stroke="#371b51" stroke-width="0.65"/>
<line x1="63.24" y1="498.04" x2="65.84" y2="498.04" stroke="#371b51" stroke-width="0.65"/>
<circle cx="64.54" cy="495.12" r="1.60" fill="#5c2d87"/>
<line x1="73.78" y1="492.21" x2="73.78" y2="498.04" stroke="#371b51" stroke-width="0.65"/>
<line x1="72.48" y1="492.21" x2="75.08" y2="492.21" stroke="#371b51" stroke-width="0.65"/>
<line x1="72.48" y1="498.04" x2="75.08" y2="498.04" stroke="#371b51" stroke-width="0.65"/>
<circle cx="73.78" cy="495.12" r="1.60" fill="#5c2d87"/>
<line x1="81.70" y1="452.61" x2="81.70" y2="461.48" stroke="#371b51" stroke-width="0.65"/>
<line x1="80.40" y1="452.61" x2="83.00" y2="452.61" stroke="#371b51" stroke-width="0.65"/>
<line x1="80.40" y1="461.48" x2="83.00" y2="461.48" stroke="#371b51" stroke-width="0.65"/>
<circle cx="81.70" cy="457.04" r="1.60" fill="#5c2d87"/>
<line x1="90.94" y1="450.89" x2="90.94" y2="459.89" stroke="#371b51" stroke-width="0.65"/>
<line x1="89.64" y1="450.89" x2="92.24" y2="450.89" stroke="#371b51" stroke-width="0.65"/>
<line x1="89.64" y1="459.89" x2="92.24" y2="459.89" stroke="#371b51" stroke-width="0.65"/>
<circle cx="90.94" cy="455.39" r="1.60" fill="#5c2d87"/>
<line x1="98.86" y1="456.05" x2="98.86" y2="464.66" stroke="#371b51" stroke-width="0.65"/>
<line x1="97.56" y1="456.05" x2="100.16" y2="456.05" stroke="#371b51" stroke-width="0.65"/>
<line x1="97.56" y1="464.66" x2="100.16" y2="464.66" stroke="#371b51" stroke-width="0.65"/>
<circle cx="98.86" cy="460.36" r="1.60" fill="#5c2d87"/>
<line x1="108.10" y1="494.79" x2="108.10" y2="500.42" stroke="#371b51" stroke-width="0.65"/>
<line x1="106.80" y1="494.79" x2="109.40" y2="494.79" stroke="#371b51" stroke-width="0.65"/>
<line x1="106.80" y1="500.42" x2="109.40" y2="500.42" stroke="#371b51" stroke-width="0.65"/>
<circle cx="108.10" cy="497.61" r="1.60" fill="#5c2d87"/>
<line x1="116.02" y1="495.65" x2="116.02" y2="501.21" stroke="#371b51" stroke-width="0.65"/>
<line x1="114.72" y1="495.65" x2="117.32" y2="495.65" stroke="#371b51" stroke-width="0.65"/>
<line x1="114.72" y1="501.21" x2="117.32" y2="501.21" stroke="#371b51" stroke-width="0.65"/>
<circle cx="116.02" cy="498.43" r="1.60" fill="#5c2d87"/>
<line x1="123.94" y1="495.65" x2="123.94" y2="501.21" stroke="#371b51" stroke-width="0.65"/>
<line x1="122.64" y1="495.65" x2="125.24" y2="495.65" stroke="#371b51" stroke-width="0.65"/>
<line x1="122.64" y1="501.21" x2="125.24" y2="501.21" stroke="#371b51" stroke-width="0.65"/>
<circle cx="123.94" cy="498.43" r="1.60" fill="#5c2d87"/>
</g>
<g>
<text transform="translate(167.60,418.20)" font-size="10.6" fill="#000" font-weight="bold" stroke="#000" stroke-width="0.22">O</text>
<line x1="196.90" y1="442.70" x2="196.90" y2="517.73" stroke="#1a1a1a" stroke-width="1.25"/>
<line x1="193.38" y1="517.10" x2="196.90" y2="517.10" stroke="#1a1a1a" stroke-width="1.0"/>
<text transform="translate(190.78,519.37) scale(0.9300,1)" font-size="6.4" text-anchor="end" fill="#231f20" stroke="#231f20" stroke-width="0.16">0</text>
<line x1="193.38" y1="499.38" x2="196.90" y2="499.38" stroke="#1a1a1a" stroke-width="1.0"/>
<text transform="translate(190.78,501.65) scale(0.9300,1)" font-size="6.4" text-anchor="end" fill="#231f20" stroke="#231f20" stroke-width="0.16">0.2</text>
<line x1="193.38" y1="481.65" x2="196.90" y2="481.65" stroke="#1a1a1a" stroke-width="1.0"/>
<text transform="translate(190.78,483.92) scale(0.9300,1)" font-size="6.4" text-anchor="end" fill="#231f20" stroke="#231f20" stroke-width="0.16">0.4</text>
<line x1="193.38" y1="463.93" x2="196.90" y2="463.93" stroke="#1a1a1a" stroke-width="1.0"/>
<text transform="translate(190.78,466.20) scale(0.9300,1)" font-size="6.4" text-anchor="end" fill="#231f20" stroke="#231f20" stroke-width="0.16">0.6</text>
<line x1="193.38" y1="446.20" x2="196.90" y2="446.20" stroke="#1a1a1a" stroke-width="1.0"/>
<text transform="translate(190.78,448.47) scale(0.9300,1)" font-size="6.4" text-anchor="end" fill="#231f20" stroke="#231f20" stroke-width="0.16">0.8</text>
<line x1="196.28" y1="517.10" x2="239.60" y2="517.10" stroke="#1a1a1a" stroke-width="1.25"/>
<line x1="218.30" y1="517.10" x2="218.30" y2="519.93" stroke="#1a1a1a" stroke-width="1.0"/>
<rect x="200.20" y="482.54" width="5.20" height="34.56" fill="#80a4cd"/>
<rect x="210.50" y="450.63" width="5.30" height="66.47" fill="#a6dca1"/>
<rect x="220.90" y="496.45" width="5.30" height="20.65" fill="#f08d9d"/>
<rect x="231.20" y="462.77" width="5.20" height="54.33" fill="#b496cb"/>
<line x1="233.80" y1="457.72" x2="233.80" y2="467.47" stroke="#1a1a1a" stroke-width="0.7"/>
<line x1="232.60" y1="457.72" x2="235.00" y2="457.72" stroke="#1a1a1a" stroke-width="0.7"/>
<line x1="232.60" y1="467.47" x2="235.00" y2="467.47" stroke="#1a1a1a" stroke-width="0.7"/>
<circle cx="202.08" cy="481.38" r="1.45" fill="#1d4f91"/>
<circle cx="202.80" cy="482.09" r="1.45" fill="#1d4f91"/>
<circle cx="203.52" cy="482.80" r="1.45" fill="#1d4f91"/>
<circle cx="212.43" cy="450.01" r="1.45" fill="#3fb54a"/>
<circle cx="213.15" cy="451.07" r="1.45" fill="#3fb54a"/>
<circle cx="213.87" cy="452.14" r="1.45" fill="#3fb54a"/>
<circle cx="222.83" cy="494.50" r="1.45" fill="#c8102e"/>
<circle cx="223.55" cy="496.27" r="1.45" fill="#c8102e"/>
<circle cx="224.27" cy="498.05" r="1.45" fill="#c8102e"/>
<circle cx="233.08" cy="458.61" r="1.45" fill="#5c2d87"/>
<circle cx="233.80" cy="462.60" r="1.45" fill="#5c2d87"/>
<circle cx="234.52" cy="466.58" r="1.45" fill="#5c2d87"/>
<text transform="translate(173.80,479.50) rotate(-90) scale(0.9005,1)" font-size="8.4" text-anchor="middle" fill="#231f20" stroke="#231f20" stroke-width="0.16">ATP (pmol/cell)</text>
<path d="M201.50,438.30V436.70H233.60V438.30" fill="none" stroke="#1a1a1a" stroke-width="0.9"/>
<text transform="translate(214.50,435.10) scale(0.8500,1)" font-size="6.8" text-anchor="middle" fill="#231f20" stroke="#231f20" stroke-width="0.25">†††</text>
<path d="M201.50,446.90V445.30H211.90V446.90" fill="none" stroke="#1a1a1a" stroke-width="0.9"/>
<text transform="translate(207.40,443.70) scale(0.8500,1)" font-size="6.8" text-anchor="middle" fill="#231f20" stroke="#231f20" stroke-width="0.25">†††</text>
<path d="M212.80,446.90V445.30H233.60V446.90" fill="none" stroke="#1a1a1a" stroke-width="0.9"/>
<text transform="translate(223.60,444.00) scale(0.9288,1)" font-size="6.2" text-anchor="middle" fill="#231f20" stroke="#231f20" stroke-width="0.16">N.S.</text>
<path d="M222.70,455.60V454.00H233.60V455.60" fill="none" stroke="#1a1a1a" stroke-width="0.9"/>
<text transform="translate(228.00,452.40) scale(0.8500,1)" font-size="6.8" text-anchor="middle" fill="#231f20" stroke="#231f20" stroke-width="0.25">†††</text>
<path d="M199.50,478.60V477.00H222.30V478.60" fill="none" stroke="#1a1a1a" stroke-width="0.9"/>
<text transform="translate(203.80,475.80) scale(0.8500,1)" font-size="6.8" text-anchor="middle" fill="#231f20" stroke="#231f20" stroke-width="0.25">†††</text>
</g>
<g>
<text transform="translate(261.00,418.20)" font-size="10.6" fill="#000" font-weight="bold" stroke="#000" stroke-width="0.22">P</text>
<line x1="285.10" y1="442.70" x2="285.10" y2="517.73" stroke="#1a1a1a" stroke-width="1.25"/>
<line x1="281.58" y1="517.10" x2="285.10" y2="517.10" stroke="#1a1a1a" stroke-width="1.0"/>
<text transform="translate(278.98,519.37) scale(0.9300,1)" font-size="6.4" text-anchor="end" fill="#231f20" stroke="#231f20" stroke-width="0.16">0</text>
<line x1="281.58" y1="493.47" x2="285.10" y2="493.47" stroke="#1a1a1a" stroke-width="1.0"/>
<text transform="translate(278.98,495.74) scale(0.9300,1)" font-size="6.4" text-anchor="end" fill="#231f20" stroke="#231f20" stroke-width="0.16">2</text>
<line x1="281.58" y1="469.83" x2="285.10" y2="469.83" stroke="#1a1a1a" stroke-width="1.0"/>
<text transform="translate(278.98,472.11) scale(0.9300,1)" font-size="6.4" text-anchor="end" fill="#231f20" stroke="#231f20" stroke-width="0.16">4</text>
<line x1="281.58" y1="446.20" x2="285.10" y2="446.20" stroke="#1a1a1a" stroke-width="1.0"/>
<text transform="translate(278.98,448.47) scale(0.9300,1)" font-size="6.4" text-anchor="end" fill="#231f20" stroke="#231f20" stroke-width="0.16">6</text>
<line x1="284.48" y1="517.10" x2="327.50" y2="517.10" stroke="#1a1a1a" stroke-width="1.25"/>
<line x1="306.20" y1="517.10" x2="306.20" y2="519.93" stroke="#1a1a1a" stroke-width="1.0"/>
<rect x="288.30" y="484.37" width="5.20" height="32.73" fill="#80a4cd"/>
<rect x="298.70" y="500.79" width="5.20" height="16.31" fill="#a6dca1"/>
<rect x="308.80" y="459.43" width="5.40" height="57.67" fill="#f08d9d"/>
<rect x="319.20" y="494.65" width="5.20" height="22.45" fill="#b496cb"/>
<line x1="321.80" y1="487.91" x2="321.80" y2="496.42" stroke="#1a1a1a" stroke-width="0.7"/>
<line x1="320.60" y1="487.91" x2="323.00" y2="487.91" stroke="#1a1a1a" stroke-width="0.7"/>
<line x1="320.60" y1="496.42" x2="323.00" y2="496.42" stroke="#1a1a1a" stroke-width="0.7"/>
<circle cx="290.18" cy="482.83" r="1.45" fill="#1d4f91"/>
<circle cx="290.90" cy="484.60" r="1.45" fill="#1d4f91"/>
<circle cx="291.62" cy="486.38" r="1.45" fill="#1d4f91"/>
<circle cx="300.58" cy="499.97" r="1.45" fill="#3fb54a"/>
<circle cx="301.30" cy="500.79" r="1.45" fill="#3fb54a"/>
<circle cx="302.02" cy="501.62" r="1.45" fill="#3fb54a"/>
<circle cx="310.78" cy="458.25" r="1.45" fill="#c8102e"/>
<circle cx="311.50" cy="459.20" r="1.45" fill="#c8102e"/>
<circle cx="312.22" cy="460.14" r="1.45" fill="#c8102e"/>
<circle cx="321.08" cy="488.74" r="1.45" fill="#5c2d87"/>
<circle cx="321.80" cy="492.29" r="1.45" fill="#5c2d87"/>
<circle cx="322.52" cy="495.83" r="1.45" fill="#5c2d87"/>
<text transform="translate(269.60,482.10) rotate(-90) scale(0.9481,1)" font-size="8.4" text-anchor="middle" fill="#231f20" stroke="#231f20" stroke-width="0.16">NAD<tspan dy="-3.36" font-size="4.70">+</tspan><tspan dy="3.36" font-size="8.40">/NADH</tspan></text>
<path d="M290.70,446.90V445.30H321.80V446.90" fill="none" stroke="#1a1a1a" stroke-width="0.9"/>
<text transform="translate(305.40,443.70) scale(0.8500,1)" font-size="6.8" text-anchor="middle" fill="#231f20" stroke="#231f20" stroke-width="0.25">††</text>
<path d="M290.70,454.70V453.10H321.80V454.70" fill="none" stroke="#1a1a1a" stroke-width="0.9"/>
<text transform="translate(299.50,451.90) scale(0.8500,1)" font-size="6.8" text-anchor="middle" fill="#231f20" stroke="#231f20" stroke-width="0.25">†††</text>
<text transform="translate(317.00,451.90) scale(0.8500,1)" font-size="6.8" text-anchor="middle" fill="#231f20" stroke="#231f20" stroke-width="0.25">†††</text>
<line x1="310.90" y1="453.10" x2="310.90" y2="454.70" stroke="#1a1a1a" stroke-width="0.9"/>
<path d="M290.70,479.40V477.80H321.80V479.40" fill="none" stroke="#1a1a1a" stroke-width="0.9"/>
<text transform="translate(295.70,476.10) scale(0.8500,1)" font-size="6.8" text-anchor="middle" fill="#231f20" stroke="#231f20" stroke-width="0.25">†††</text>
<text transform="translate(320.20,476.40) scale(0.9288,1)" font-size="6.2" text-anchor="middle" fill="#231f20" stroke="#231f20" stroke-width="0.16">N.S.</text>
<line x1="301.00" y1="477.80" x2="301.00" y2="479.40" stroke="#1a1a1a" stroke-width="0.9"/>
</g>
<g>
<text transform="translate(347.60,418.60)" font-size="10.6" fill="#000" font-weight="bold" stroke="#000" stroke-width="0.22">Q</text>
<line x1="373.20" y1="442.70" x2="373.20" y2="517.73" stroke="#1a1a1a" stroke-width="1.25"/>
<line x1="369.68" y1="517.10" x2="373.20" y2="517.10" stroke="#1a1a1a" stroke-width="1.0"/>
<text transform="translate(367.07,519.37) scale(0.9300,1)" font-size="6.4" text-anchor="end" fill="#231f20" stroke="#231f20" stroke-width="0.16">0</text>
<line x1="369.68" y1="502.92" x2="373.20" y2="502.92" stroke="#1a1a1a" stroke-width="1.0"/>
<text transform="translate(367.07,505.19) scale(0.9300,1)" font-size="6.4" text-anchor="end" fill="#231f20" stroke="#231f20" stroke-width="0.16">5</text>
<line x1="369.68" y1="488.74" x2="373.20" y2="488.74" stroke="#1a1a1a" stroke-width="1.0"/>
<text transform="translate(367.07,491.01) scale(0.9300,1)" font-size="6.4" text-anchor="end" fill="#231f20" stroke="#231f20" stroke-width="0.16">10</text>
<line x1="369.68" y1="474.56" x2="373.20" y2="474.56" stroke="#1a1a1a" stroke-width="1.0"/>
<text transform="translate(367.07,476.83) scale(0.9300,1)" font-size="6.4" text-anchor="end" fill="#231f20" stroke="#231f20" stroke-width="0.16">15</text>
<line x1="369.68" y1="460.38" x2="373.20" y2="460.38" stroke="#1a1a1a" stroke-width="1.0"/>
<text transform="translate(367.07,462.65) scale(0.9300,1)" font-size="6.4" text-anchor="end" fill="#231f20" stroke="#231f20" stroke-width="0.16">20</text>
<line x1="369.68" y1="446.20" x2="373.20" y2="446.20" stroke="#1a1a1a" stroke-width="1.0"/>
<text transform="translate(367.07,448.47) scale(0.9300,1)" font-size="6.4" text-anchor="end" fill="#231f20" stroke="#231f20" stroke-width="0.16">25</text>
<line x1="372.57" y1="517.10" x2="416.20" y2="517.10" stroke="#1a1a1a" stroke-width="1.25"/>
<line x1="395.70" y1="517.10" x2="395.70" y2="519.93" stroke="#1a1a1a" stroke-width="1.0"/>
<rect x="377.40" y="487.89" width="5.20" height="29.21" fill="#80a4cd"/>
<rect x="387.60" y="468.89" width="5.30" height="48.21" fill="#a6dca1"/>
<rect x="397.80" y="501.64" width="5.20" height="15.46" fill="#f08d9d"/>
<rect x="407.80" y="485.05" width="5.30" height="32.05" fill="#b496cb"/>
<line x1="380.00" y1="482.50" x2="380.00" y2="493.28" stroke="#1a1a1a" stroke-width="0.7"/>
<line x1="378.80" y1="482.50" x2="381.20" y2="482.50" stroke="#1a1a1a" stroke-width="0.7"/>
<line x1="378.80" y1="493.28" x2="381.20" y2="493.28" stroke="#1a1a1a" stroke-width="0.7"/>
<line x1="390.25" y1="462.65" x2="390.25" y2="473.99" stroke="#1a1a1a" stroke-width="0.7"/>
<line x1="389.05" y1="462.65" x2="391.45" y2="462.65" stroke="#1a1a1a" stroke-width="0.7"/>
<line x1="389.05" y1="473.99" x2="391.45" y2="473.99" stroke="#1a1a1a" stroke-width="0.7"/>
<line x1="410.45" y1="479.10" x2="410.45" y2="487.61" stroke="#1a1a1a" stroke-width="0.7"/>
<line x1="409.25" y1="479.10" x2="411.65" y2="479.10" stroke="#1a1a1a" stroke-width="0.7"/>
<line x1="409.25" y1="487.61" x2="411.65" y2="487.61" stroke="#1a1a1a" stroke-width="0.7"/>
<circle cx="379.28" cy="483.07" r="1.45" fill="#1d4f91"/>
<circle cx="380.00" cy="486.13" r="1.45" fill="#1d4f91"/>
<circle cx="380.72" cy="489.70" r="1.45" fill="#1d4f91"/>
<circle cx="379.28" cy="493.28" r="1.45" fill="#1d4f91"/>
<circle cx="389.53" cy="463.50" r="1.45" fill="#3fb54a"/>
<circle cx="390.25" cy="466.39" r="1.45" fill="#3fb54a"/>
<circle cx="390.97" cy="469.77" r="1.45" fill="#3fb54a"/>
<circle cx="389.53" cy="473.14" r="1.45" fill="#3fb54a"/>
<circle cx="399.68" cy="499.52" r="1.45" fill="#c8102e"/>
<circle cx="400.40" cy="500.54" r="1.45" fill="#c8102e"/>
<circle cx="401.12" cy="501.73" r="1.45" fill="#c8102e"/>
<circle cx="399.68" cy="502.92" r="1.45" fill="#c8102e"/>
<circle cx="409.73" cy="479.38" r="1.45" fill="#5c2d87"/>
<circle cx="410.45" cy="481.76" r="1.45" fill="#5c2d87"/>
<circle cx="411.17" cy="484.54" r="1.45" fill="#5c2d87"/>
<circle cx="409.73" cy="487.32" r="1.45" fill="#5c2d87"/>
<text transform="translate(354.20,483.00) rotate(-90) scale(0.8610,1)" font-size="8.4" text-anchor="middle" fill="#231f20" stroke="#231f20" stroke-width="0.16">Cell ROX deep (%)</text>
<path d="M379.50,451.80V450.20H410.60V451.80" fill="none" stroke="#1a1a1a" stroke-width="0.9"/>
<text transform="translate(394.10,448.40) scale(0.9288,1)" font-size="6.2" text-anchor="middle" fill="#231f20" stroke="#231f20" stroke-width="0.16">N.S.</text>
<path d="M379.50,460.40V458.80H390.00V460.40" fill="none" stroke="#1a1a1a" stroke-width="0.9"/>
<text transform="translate(385.00,457.10) scale(0.8500,1)" font-size="6.8" text-anchor="middle" fill="#231f20" stroke="#231f20" stroke-width="0.25">†††</text>
<path d="M390.80,460.40V458.80H410.60V460.40" fill="none" stroke="#1a1a1a" stroke-width="0.9"/>
<text transform="translate(401.00,457.10) scale(0.8500,1)" font-size="6.8" text-anchor="middle" fill="#231f20" stroke="#231f20" stroke-width="0.25">†</text>
<path d="M400.20,476.30V474.70H410.60V476.30" fill="none" stroke="#1a1a1a" stroke-width="0.9"/>
<text transform="translate(405.50,473.20) scale(0.8500,1)" font-size="6.8" text-anchor="middle" fill="#231f20" stroke="#231f20" stroke-width="0.25">†††</text>
<path d="M377.70,479.80V478.20H399.70V479.80" fill="none" stroke="#1a1a1a" stroke-width="0.9"/>
<text transform="translate(382.20,476.60) scale(0.8500,1)" font-size="6.8" text-anchor="middle" fill="#231f20" stroke="#231f20" stroke-width="0.25">†††</text>
</g>
<g>
<text transform="translate(435.40,418.20)" font-size="10.6" fill="#000" font-weight="bold" stroke="#000" stroke-width="0.22">R</text>
<line x1="476.40" y1="442.70" x2="476.40" y2="517.73" stroke="#1a1a1a" stroke-width="1.25"/>
<line x1="472.88" y1="517.10" x2="476.40" y2="517.10" stroke="#1a1a1a" stroke-width="1.0"/>
<text transform="translate(470.27,519.37) scale(0.9300,1)" font-size="6.4" text-anchor="end" fill="#231f20" stroke="#231f20" stroke-width="0.16">0</text>
<line x1="472.88" y1="493.47" x2="476.40" y2="493.47" stroke="#1a1a1a" stroke-width="1.0"/>
<text transform="translate(470.27,495.74) scale(0.9300,1)" font-size="6.4" text-anchor="end" fill="#231f20" stroke="#231f20" stroke-width="0.16">0.5</text>
<line x1="472.88" y1="469.83" x2="476.40" y2="469.83" stroke="#1a1a1a" stroke-width="1.0"/>
<text transform="translate(470.27,472.11) scale(0.9300,1)" font-size="6.4" text-anchor="end" fill="#231f20" stroke="#231f20" stroke-width="0.16">1</text>
<line x1="472.88" y1="446.20" x2="476.40" y2="446.20" stroke="#1a1a1a" stroke-width="1.0"/>
<text transform="translate(470.27,448.47) scale(0.9300,1)" font-size="6.4" text-anchor="end" fill="#231f20" stroke="#231f20" stroke-width="0.16">1.5</text>
<line x1="475.77" y1="517.10" x2="520.00" y2="517.10" stroke="#1a1a1a" stroke-width="1.25"/>
<line x1="497.80" y1="517.10" x2="497.80" y2="519.93" stroke="#1a1a1a" stroke-width="1.0"/>
<rect x="479.80" y="494.65" width="5.30" height="22.45" fill="#80a4cd"/>
<rect x="490.00" y="500.79" width="5.30" height="16.31" fill="#a6dca1"/>
<rect x="500.30" y="471.49" width="5.40" height="45.61" fill="#f08d9d"/>
<rect x="510.70" y="497.25" width="5.30" height="19.85" fill="#b496cb"/>
<line x1="482.45" y1="488.74" x2="482.45" y2="498.19" stroke="#1a1a1a" stroke-width="0.7"/>
<line x1="481.25" y1="488.74" x2="483.65" y2="488.74" stroke="#1a1a1a" stroke-width="0.7"/>
<line x1="481.25" y1="498.19" x2="483.65" y2="498.19" stroke="#1a1a1a" stroke-width="0.7"/>
<line x1="492.65" y1="495.83" x2="492.65" y2="507.65" stroke="#1a1a1a" stroke-width="0.7"/>
<line x1="491.45" y1="495.83" x2="493.85" y2="495.83" stroke="#1a1a1a" stroke-width="0.7"/>
<line x1="491.45" y1="507.65" x2="493.85" y2="507.65" stroke="#1a1a1a" stroke-width="0.7"/>
<line x1="503.00" y1="467.47" x2="503.00" y2="479.29" stroke="#1a1a1a" stroke-width="0.7"/>
<line x1="501.80" y1="467.47" x2="504.20" y2="467.47" stroke="#1a1a1a" stroke-width="0.7"/>
<line x1="501.80" y1="479.29" x2="504.20" y2="479.29" stroke="#1a1a1a" stroke-width="0.7"/>
<line x1="513.35" y1="493.47" x2="513.35" y2="501.03" stroke="#1a1a1a" stroke-width="0.7"/>
<line x1="512.15" y1="493.47" x2="514.55" y2="493.47" stroke="#1a1a1a" stroke-width="0.7"/>
<line x1="512.15" y1="501.03" x2="514.55" y2="501.03" stroke="#1a1a1a" stroke-width="0.7"/>
<circle cx="481.73" cy="489.21" r="1.45" fill="#1d4f91"/>
<circle cx="482.45" cy="491.77" r="1.45" fill="#1d4f91"/>
<circle cx="483.17" cy="494.74" r="1.45" fill="#1d4f91"/>
<circle cx="481.73" cy="497.72" r="1.45" fill="#1d4f91"/>
<circle cx="491.93" cy="496.30" r="1.45" fill="#3fb54a"/>
<circle cx="492.65" cy="499.42" r="1.45" fill="#3fb54a"/>
<circle cx="493.37" cy="503.06" r="1.45" fill="#3fb54a"/>
<circle cx="491.93" cy="506.70" r="1.45" fill="#3fb54a"/>
<circle cx="502.28" cy="467.94" r="1.45" fill="#c8102e"/>
<circle cx="503.00" cy="471.06" r="1.45" fill="#c8102e"/>
<circle cx="503.72" cy="474.70" r="1.45" fill="#c8102e"/>
<circle cx="502.28" cy="478.34" r="1.45" fill="#c8102e"/>
<circle cx="512.63" cy="493.94" r="1.45" fill="#5c2d87"/>
<circle cx="513.35" cy="495.64" r="1.45" fill="#5c2d87"/>
<circle cx="514.07" cy="497.63" r="1.45" fill="#5c2d87"/>
<circle cx="512.63" cy="499.61" r="1.45" fill="#5c2d87"/>
<text transform="translate(442.90,479.50) rotate(-90) scale(0.9032,1)" font-size="8.4" text-anchor="middle" fill="#231f20" stroke="#231f20" stroke-width="0.16">Cells number per leg</text>
<text transform="translate(454.60,479.50) rotate(-90) scale(1.0418,1)" font-size="8.4" text-anchor="middle" fill="#231f20" stroke="#231f20" stroke-width="0.16">(×10<tspan dy="-3.36" font-size="4.70">4</tspan><tspan dy="3.36" font-size="8.40">)</tspan></text>
<text transform="translate(497.50,528.70) scale(0.9246,1)" font-size="6.6" text-anchor="middle" fill="#231f20" stroke="#231f20" stroke-width="0.16">SLAM HSC</text>
<path d="M481.60,455.90V454.30H513.10V455.90" fill="none" stroke="#1a1a1a" stroke-width="0.9"/>
<text transform="translate(498.00,453.10) scale(0.9288,1)" font-size="6.2" text-anchor="middle" fill="#231f20" stroke="#231f20" stroke-width="0.16">N.S.</text>
<path d="M481.60,465.10V463.50H513.10V465.10" fill="none" stroke="#1a1a1a" stroke-width="0.9"/>
<text transform="translate(489.70,461.90) scale(0.8500,1)" font-size="6.8" text-anchor="middle" fill="#231f20" stroke="#231f20" stroke-width="0.25">†††</text>
<text transform="translate(507.00,461.90) scale(0.8500,1)" font-size="6.8" text-anchor="middle" fill="#231f20" stroke="#231f20" stroke-width="0.25">†††</text>
<line x1="501.00" y1="463.50" x2="501.00" y2="465.10" stroke="#1a1a1a" stroke-width="0.9"/>
<path d="M481.60,486.40V484.80H492.70V486.40" fill="none" stroke="#1a1a1a" stroke-width="0.9"/>
<text transform="translate(486.80,483.40) scale(0.9288,1)" font-size="6.2" text-anchor="middle" fill="#231f20" stroke="#231f20" stroke-width="0.16">N.S.</text>
<path d="M492.70,490.50V488.90H513.10V490.50" fill="none" stroke="#1a1a1a" stroke-width="0.9"/>
<text transform="translate(511.80,487.70) scale(0.9288,1)" font-size="6.2" text-anchor="middle" fill="#231f20" stroke="#231f20" stroke-width="0.16">N.S.</text>
</g>
<g>
<text transform="translate(0.80,565.60)" font-size="10.6" fill="#000" font-weight="bold" stroke="#000" stroke-width="0.22">S</text>
<rect x="12.00" y="574.00" width="5.20" height="5.20" fill="#1d5a9c"/>
<text transform="translate(19.50,579.10) scale(0.8459,1)" font-size="7.3" fill="#231f20" stroke="#231f20" stroke-width="0.16">WT</text>
<rect x="54.40" y="574.00" width="5.20" height="5.20" fill="#c8102e"/>
<text transform="translate(63.00,579.10) scale(1.0075,1)" font-size="7.3" fill="#231f20" stroke="#231f20" stroke-width="0.16">Sphk2<tspan dy="-2.92" font-size="4.09">Δ/Δ</tspan></text>
<rect x="12.00" y="584.00" width="5.20" height="5.20" fill="#41b649"/>
<text transform="translate(19.50,589.10) scale(1.0571,1)" font-size="7.3" fill="#231f20" stroke="#231f20" stroke-width="0.16">Pdk3<tspan dy="-2.92" font-size="4.09">Δ/+</tspan></text>
<rect x="54.40" y="584.00" width="5.20" height="5.20" fill="#5c2d87"/>
<text transform="translate(63.00,589.10) scale(1.0950,1)" font-size="7.3" fill="#231f20" stroke="#231f20" stroke-width="0.16">Sphk2<tspan dy="-2.92" font-size="4.09">Δ/Δ</tspan><tspan dy="2.92" font-size="7.30">; Pdk3</tspan><tspan dy="-2.92" font-size="4.09">Δ/+</tspan></text>
<line x1="30.20" y1="600.30" x2="30.20" y2="675.42" stroke="#1a1a1a" stroke-width="1.25"/>
<line x1="26.68" y1="674.80" x2="30.20" y2="674.80" stroke="#1a1a1a" stroke-width="1.0"/>
<text transform="translate(24.07,677.07) scale(0.9300,1)" font-size="6.4" text-anchor="end" fill="#231f20" stroke="#231f20" stroke-width="0.16">0</text>
<line x1="26.68" y1="660.60" x2="30.20" y2="660.60" stroke="#1a1a1a" stroke-width="1.0"/>
<text transform="translate(24.07,662.87) scale(0.9300,1)" font-size="6.4" text-anchor="end" fill="#231f20" stroke="#231f20" stroke-width="0.16">20</text>
<line x1="26.68" y1="646.40" x2="30.20" y2="646.40" stroke="#1a1a1a" stroke-width="1.0"/>
<text transform="translate(24.07,648.67) scale(0.9300,1)" font-size="6.4" text-anchor="end" fill="#231f20" stroke="#231f20" stroke-width="0.16">40</text>
<line x1="26.68" y1="632.20" x2="30.20" y2="632.20" stroke="#1a1a1a" stroke-width="1.0"/>
<text transform="translate(24.07,634.47) scale(0.9300,1)" font-size="6.4" text-anchor="end" fill="#231f20" stroke="#231f20" stroke-width="0.16">60</text>
<line x1="26.68" y1="618.00" x2="30.20" y2="618.00" stroke="#1a1a1a" stroke-width="1.0"/>
<text transform="translate(24.07,620.27) scale(0.9300,1)" font-size="6.4" text-anchor="end" fill="#231f20" stroke="#231f20" stroke-width="0.16">80</text>
<line x1="26.68" y1="603.80" x2="30.20" y2="603.80" stroke="#1a1a1a" stroke-width="1.0"/>
<text transform="translate(24.07,606.07) scale(0.9300,1)" font-size="6.4" text-anchor="end" fill="#231f20" stroke="#231f20" stroke-width="0.16">100</text>
<line x1="29.57" y1="674.80" x2="143.70" y2="674.80" stroke="#1a1a1a" stroke-width="1.25"/>
<line x1="48.50" y1="674.80" x2="48.50" y2="677.62" stroke="#1a1a1a" stroke-width="1.0"/>
<line x1="86.60" y1="674.80" x2="86.60" y2="677.62" stroke="#1a1a1a" stroke-width="1.0"/>
<line x1="125.10" y1="674.80" x2="125.10" y2="677.62" stroke="#1a1a1a" stroke-width="1.0"/>
<rect x="34.10" y="628.86" width="4.80" height="45.94" fill="#80a4cd"/>
<rect x="42.10" y="636.32" width="5.00" height="38.48" fill="#a6dca1"/>
<rect x="50.20" y="615.87" width="4.80" height="58.93" fill="#f08d9d"/>
<rect x="58.00" y="628.86" width="4.80" height="45.94" fill="#b496cb"/>
<rect x="72.30" y="658.82" width="4.80" height="15.98" fill="#80a4cd"/>
<rect x="80.20" y="652.29" width="5.00" height="22.51" fill="#a6dca1"/>
<rect x="88.00" y="666.14" width="4.80" height="8.66" fill="#f08d9d"/>
<rect x="96.20" y="658.47" width="4.80" height="16.33" fill="#b496cb"/>
<rect x="110.30" y="666.14" width="4.90" height="8.66" fill="#80a4cd"/>
<rect x="118.30" y="663.58" width="5.00" height="11.22" fill="#a6dca1"/>
<rect x="126.40" y="672.24" width="4.80" height="2.56" fill="#f08d9d"/>
<rect x="134.30" y="666.28" width="5.10" height="8.52" fill="#b496cb"/>
<circle cx="35.78" cy="626.52" r="1.45" fill="#1d4f91"/>
<circle cx="36.50" cy="627.58" r="1.45" fill="#1d4f91"/>
<circle cx="37.22" cy="628.83" r="1.45" fill="#1d4f91"/>
<circle cx="35.78" cy="630.07" r="1.45" fill="#1d4f91"/>
<circle cx="43.88" cy="635.75" r="1.45" fill="#3fb54a"/>
<circle cx="44.60" cy="636.39" r="1.45" fill="#3fb54a"/>
<circle cx="45.32" cy="637.13" r="1.45" fill="#3fb54a"/>
<circle cx="43.88" cy="637.88" r="1.45" fill="#3fb54a"/>
<circle cx="51.88" cy="613.03" r="1.45" fill="#c8102e"/>
<circle cx="52.60" cy="614.73" r="1.45" fill="#c8102e"/>
<circle cx="53.32" cy="616.72" r="1.45" fill="#c8102e"/>
<circle cx="51.88" cy="618.71" r="1.45" fill="#c8102e"/>
<circle cx="59.68" cy="626.16" r="1.45" fill="#5c2d87"/>
<circle cx="60.40" cy="627.66" r="1.45" fill="#5c2d87"/>
<circle cx="61.12" cy="629.40" r="1.45" fill="#5c2d87"/>
<circle cx="59.68" cy="631.13" r="1.45" fill="#5c2d87"/>
<circle cx="73.98" cy="656.69" r="1.45" fill="#1d4f91"/>
<circle cx="74.70" cy="657.97" r="1.45" fill="#1d4f91"/>
<circle cx="75.42" cy="659.46" r="1.45" fill="#1d4f91"/>
<circle cx="73.98" cy="660.95" r="1.45" fill="#1d4f91"/>
<circle cx="81.98" cy="649.59" r="1.45" fill="#3fb54a"/>
<circle cx="82.70" cy="652.15" r="1.45" fill="#3fb54a"/>
<circle cx="83.42" cy="655.13" r="1.45" fill="#3fb54a"/>
<circle cx="81.98" cy="658.12" r="1.45" fill="#3fb54a"/>
<circle cx="89.68" cy="663.58" r="1.45" fill="#c8102e"/>
<circle cx="90.40" cy="665.12" r="1.45" fill="#c8102e"/>
<circle cx="91.12" cy="666.90" r="1.45" fill="#c8102e"/>
<circle cx="89.68" cy="668.69" r="1.45" fill="#c8102e"/>
<circle cx="97.88" cy="656.69" r="1.45" fill="#5c2d87"/>
<circle cx="98.60" cy="657.97" r="1.45" fill="#5c2d87"/>
<circle cx="99.32" cy="659.46" r="1.45" fill="#5c2d87"/>
<circle cx="97.88" cy="660.95" r="1.45" fill="#5c2d87"/>
<circle cx="112.03" cy="663.44" r="1.45" fill="#1d4f91"/>
<circle cx="112.75" cy="665.14" r="1.45" fill="#1d4f91"/>
<circle cx="113.47" cy="667.13" r="1.45" fill="#1d4f91"/>
<circle cx="112.03" cy="669.12" r="1.45" fill="#1d4f91"/>
<circle cx="120.08" cy="659.53" r="1.45" fill="#3fb54a"/>
<circle cx="120.80" cy="661.45" r="1.45" fill="#3fb54a"/>
<circle cx="121.52" cy="663.69" r="1.45" fill="#3fb54a"/>
<circle cx="120.08" cy="665.92" r="1.45" fill="#3fb54a"/>
<circle cx="128.08" cy="671.39" r="1.45" fill="#c8102e"/>
<circle cx="128.80" cy="672.07" r="1.45" fill="#c8102e"/>
<circle cx="129.52" cy="672.87" r="1.45" fill="#c8102e"/>
<circle cx="128.08" cy="673.66" r="1.45" fill="#c8102e"/>
<circle cx="136.13" cy="661.66" r="1.45" fill="#5c2d87"/>
<circle cx="136.85" cy="664.01" r="1.45" fill="#5c2d87"/>
<circle cx="137.57" cy="666.74" r="1.45" fill="#5c2d87"/>
<circle cx="136.13" cy="669.47" r="1.45" fill="#5c2d87"/>
<text transform="translate(8.60,637.20) rotate(-90) scale(0.8641,1)" font-size="8.4" text-anchor="middle" fill="#231f20" stroke="#231f20" stroke-width="0.16">Frequency (%)</text>
<text transform="translate(48.30,686.00) scale(0.8405,1)" font-size="6.6" text-anchor="middle" fill="#231f20" stroke="#231f20" stroke-width="0.16">G0</text>
<text transform="translate(86.60,686.00) scale(0.7951,1)" font-size="6.6" text-anchor="middle" fill="#231f20" stroke="#231f20" stroke-width="0.16">G1</text>
<text transform="translate(124.90,686.00) scale(0.9923,1)" font-size="6.6" text-anchor="middle" fill="#231f20" stroke="#231f20" stroke-width="0.16">G2/S/M</text>
<path d="M35.50,603.40V601.80H60.90V603.40" fill="none" stroke="#1a1a1a" stroke-width="0.9"/>
<text transform="translate(48.10,600.40) scale(0.9288,1)" font-size="6.2" text-anchor="middle" fill="#231f20" stroke="#231f20" stroke-width="0.16">N.S.</text>
<path d="M35.50,611.50V609.90H60.90V611.50" fill="none" stroke="#1a1a1a" stroke-width="0.9"/>
<text transform="translate(42.00,608.50) scale(0.8500,1)" font-size="6.8" text-anchor="middle" fill="#231f20" stroke="#231f20" stroke-width="0.25">†††</text>
<text transform="translate(56.20,608.50) scale(0.8500,1)" font-size="6.8" text-anchor="middle" fill="#231f20" stroke="#231f20" stroke-width="0.25">†††</text>
<line x1="50.20" y1="609.90" x2="50.20" y2="611.50" stroke="#1a1a1a" stroke-width="0.9"/>
<path d="M35.50,625.90V624.30H60.60V625.90" fill="none" stroke="#1a1a1a" stroke-width="0.9"/>
<text transform="translate(38.80,622.80) scale(0.8500,1)" font-size="6.8" text-anchor="middle" fill="#231f20" stroke="#231f20" stroke-width="0.25">†††</text>
<text transform="translate(62.00,622.80) scale(0.8500,1)" font-size="6.8" text-anchor="middle" fill="#231f20" stroke="#231f20" stroke-width="0.25">†††</text>
<line x1="44.10" y1="624.30" x2="44.10" y2="625.90" stroke="#1a1a1a" stroke-width="0.9"/>
<path d="M74.50,630.50V628.90H99.60V630.50" fill="none" stroke="#1a1a1a" stroke-width="0.9"/>
<text transform="translate(86.40,627.70) scale(0.9288,1)" font-size="6.2" text-anchor="middle" fill="#231f20" stroke="#231f20" stroke-width="0.16">N.S.</text>
<path d="M74.50,638.00V636.40H99.60V638.00" fill="none" stroke="#1a1a1a" stroke-width="0.9"/>
<text transform="translate(80.80,634.60) scale(0.8500,1)" font-size="6.8" text-anchor="middle" fill="#231f20" stroke="#231f20" stroke-width="0.25">††</text>
<text transform="translate(95.30,634.60) scale(0.8500,1)" font-size="6.8" text-anchor="middle" fill="#231f20" stroke="#231f20" stroke-width="0.25">††</text>
<line x1="91.00" y1="636.40" x2="91.00" y2="638.00" stroke="#1a1a1a" stroke-width="0.9"/>
<path d="M74.50,647.00V645.40H99.60V647.00" fill="none" stroke="#1a1a1a" stroke-width="0.9"/>
<text transform="translate(78.00,643.70) scale(0.8500,1)" font-size="6.8" text-anchor="middle" fill="#231f20" stroke="#231f20" stroke-width="0.25">†</text>
<text transform="translate(91.20,643.70) scale(0.8500,1)" font-size="6.8" text-anchor="middle" fill="#231f20" stroke="#231f20" stroke-width="0.25">†</text>
<line x1="82.30" y1="645.40" x2="82.30" y2="647.00" stroke="#1a1a1a" stroke-width="0.9"/>
<path d="M112.60,640.40V638.80H136.80V640.40" fill="none" stroke="#1a1a1a" stroke-width="0.9"/>
<text transform="translate(122.80,637.10) scale(0.9288,1)" font-size="6.2" text-anchor="middle" fill="#231f20" stroke="#231f20" stroke-width="0.16">N.S.</text>
<path d="M112.60,647.80V646.20H136.80V647.80" fill="none" stroke="#1a1a1a" stroke-width="0.9"/>
<text transform="translate(118.90,644.50) scale(0.8500,1)" font-size="6.8" text-anchor="middle" fill="#231f20" stroke="#231f20" stroke-width="0.25">†</text>
<text transform="translate(132.20,644.50) scale(0.8500,1)" font-size="6.8" text-anchor="middle" fill="#231f20" stroke="#231f20" stroke-width="0.25">†</text>
<line x1="129.40" y1="646.20" x2="129.40" y2="647.80" stroke="#1a1a1a" stroke-width="0.9"/>
<path d="M112.60,657.00V655.40H136.80V657.00" fill="none" stroke="#1a1a1a" stroke-width="0.9"/>
<text transform="translate(116.40,654.00) scale(0.9288,1)" font-size="6.2" text-anchor="middle" fill="#231f20" stroke="#231f20" stroke-width="0.16">N.S.</text>
<text transform="translate(131.60,654.00) scale(0.9288,1)" font-size="6.2" text-anchor="middle" fill="#231f20" stroke="#231f20" stroke-width="0.16">N.S.</text>
<line x1="124.00" y1="655.40" x2="124.00" y2="657.00" stroke="#1a1a1a" stroke-width="0.9"/>
</g>
<g>
<text transform="translate(142.40,565.60)" font-size="10.6" fill="#000" font-weight="bold" stroke="#000" stroke-width="0.22">T</text>
<rect x="143.50" y="574.30" width="5.20" height="5.20" fill="#1d5a9c"/>
<text transform="translate(152.20,579.40) scale(0.8092,1)" font-size="6.2" fill="#231f20" stroke="#231f20" stroke-width="0.16">WT</text>
<rect x="183.40" y="574.30" width="5.20" height="5.20" fill="#c8102e"/>
<text transform="translate(191.80,579.40) scale(0.9921,1)" font-size="6.2" fill="#231f20" stroke="#231f20" stroke-width="0.16">Sphk2<tspan dy="-2.48" font-size="3.47">Δ/Δ</tspan></text>
<rect x="143.50" y="584.30" width="5.20" height="5.20" fill="#41b649"/>
<text transform="translate(152.20,589.40) scale(1.0492,1)" font-size="6.2" fill="#231f20" stroke="#231f20" stroke-width="0.16">Pdk3<tspan dy="-2.48" font-size="3.47">Δ/+</tspan></text>
<rect x="183.40" y="584.30" width="5.20" height="5.20" fill="#5c2d87"/>
<text transform="translate(191.80,589.40) scale(1.1070,1)" font-size="6.2" fill="#231f20" stroke="#231f20" stroke-width="0.16">Sphk2<tspan dy="-2.48" font-size="3.47">Δ/Δ</tspan><tspan dy="2.48" font-size="6.20">; Pdk3</tspan><tspan dy="-2.48" font-size="3.47">Δ/+</tspan></text>
<line x1="178.40" y1="600.30" x2="178.40" y2="675.42" stroke="#1a1a1a" stroke-width="1.25"/>
<line x1="174.88" y1="674.80" x2="178.40" y2="674.80" stroke="#1a1a1a" stroke-width="1.0"/>
<text transform="translate(172.28,677.07) scale(0.9300,1)" font-size="6.4" text-anchor="end" fill="#231f20" stroke="#231f20" stroke-width="0.16">0</text>
<line x1="174.88" y1="651.27" x2="178.40" y2="651.27" stroke="#1a1a1a" stroke-width="1.0"/>
<text transform="translate(172.28,653.54) scale(0.9300,1)" font-size="6.4" text-anchor="end" fill="#231f20" stroke="#231f20" stroke-width="0.16">5</text>
<line x1="174.88" y1="627.73" x2="178.40" y2="627.73" stroke="#1a1a1a" stroke-width="1.0"/>
<text transform="translate(172.28,630.01) scale(0.9300,1)" font-size="6.4" text-anchor="end" fill="#231f20" stroke="#231f20" stroke-width="0.16">10</text>
<line x1="174.88" y1="604.20" x2="178.40" y2="604.20" stroke="#1a1a1a" stroke-width="1.0"/>
<text transform="translate(172.28,606.47) scale(0.9300,1)" font-size="6.4" text-anchor="end" fill="#231f20" stroke="#231f20" stroke-width="0.16">15</text>
<line x1="177.78" y1="674.80" x2="221.30" y2="674.80" stroke="#1a1a1a" stroke-width="1.25"/>
<line x1="199.70" y1="674.80" x2="199.70" y2="677.62" stroke="#1a1a1a" stroke-width="1.0"/>
<rect x="182.10" y="646.09" width="5.00" height="28.71" fill="#80a4cd"/>
<rect x="192.30" y="627.73" width="5.20" height="47.07" fill="#a6dca1"/>
<rect x="202.60" y="663.97" width="5.00" height="10.83" fill="#f08d9d"/>
<rect x="212.60" y="641.85" width="5.00" height="32.95" fill="#b496cb"/>
<line x1="184.60" y1="636.68" x2="184.60" y2="652.21" stroke="#1a1a1a" stroke-width="0.7"/>
<line x1="183.40" y1="636.68" x2="185.80" y2="636.68" stroke="#1a1a1a" stroke-width="0.7"/>
<line x1="183.40" y1="652.21" x2="185.80" y2="652.21" stroke="#1a1a1a" stroke-width="0.7"/>
<line x1="194.90" y1="616.91" x2="194.90" y2="632.44" stroke="#1a1a1a" stroke-width="0.7"/>
<line x1="193.70" y1="616.91" x2="196.10" y2="616.91" stroke="#1a1a1a" stroke-width="0.7"/>
<line x1="193.70" y1="632.44" x2="196.10" y2="632.44" stroke="#1a1a1a" stroke-width="0.7"/>
<line x1="205.10" y1="659.27" x2="205.10" y2="669.62" stroke="#1a1a1a" stroke-width="0.7"/>
<line x1="203.90" y1="659.27" x2="206.30" y2="659.27" stroke="#1a1a1a" stroke-width="0.7"/>
<line x1="203.90" y1="669.62" x2="206.30" y2="669.62" stroke="#1a1a1a" stroke-width="0.7"/>
<line x1="215.10" y1="632.44" x2="215.10" y2="649.38" stroke="#1a1a1a" stroke-width="0.7"/>
<line x1="213.90" y1="632.44" x2="216.30" y2="632.44" stroke="#1a1a1a" stroke-width="0.7"/>
<line x1="213.90" y1="649.38" x2="216.30" y2="649.38" stroke="#1a1a1a" stroke-width="0.7"/>
<circle cx="183.88" cy="638.09" r="1.45" fill="#1d4f91"/>
<circle cx="184.60" cy="642.04" r="1.45" fill="#1d4f91"/>
<circle cx="185.32" cy="646.65" r="1.45" fill="#1d4f91"/>
<circle cx="183.88" cy="651.27" r="1.45" fill="#1d4f91"/>
<circle cx="194.18" cy="616.91" r="1.45" fill="#3fb54a"/>
<circle cx="194.90" cy="621.14" r="1.45" fill="#3fb54a"/>
<circle cx="195.62" cy="626.09" r="1.45" fill="#3fb54a"/>
<circle cx="194.18" cy="631.03" r="1.45" fill="#3fb54a"/>
<circle cx="204.38" cy="659.27" r="1.45" fill="#c8102e"/>
<circle cx="205.10" cy="662.37" r="1.45" fill="#c8102e"/>
<circle cx="205.82" cy="666.00" r="1.45" fill="#c8102e"/>
<circle cx="204.38" cy="669.62" r="1.45" fill="#c8102e"/>
<circle cx="214.38" cy="632.91" r="1.45" fill="#5c2d87"/>
<circle cx="215.10" cy="637.71" r="1.45" fill="#5c2d87"/>
<circle cx="215.82" cy="643.31" r="1.45" fill="#5c2d87"/>
<circle cx="214.38" cy="648.91" r="1.45" fill="#5c2d87"/>
<text transform="translate(159.60,637.50) rotate(-90) scale(0.9334,1)" font-size="8.4" text-anchor="middle" fill="#231f20" stroke="#231f20" stroke-width="0.16">AnnexinV<tspan dy="-3.36" font-size="4.70">+</tspan><tspan dy="3.36" font-size="8.40"> (%)</tspan></text>
<text transform="translate(200.20,685.70) scale(0.9217,1)" font-size="6.6" text-anchor="middle" fill="#231f20" stroke="#231f20" stroke-width="0.16">SLAM HSC</text>
<path d="M183.30,607.50V605.90H215.30V607.50" fill="none" stroke="#1a1a1a" stroke-width="0.9"/>
<text transform="translate(199.70,604.70) scale(0.9288,1)" font-size="6.2" text-anchor="middle" fill="#231f20" stroke="#231f20" stroke-width="0.16">N.S.</text>
<path d="M183.30,614.10V612.50H193.40V614.10" fill="none" stroke="#1a1a1a" stroke-width="0.9"/>
<text transform="translate(188.70,610.90) scale(0.8500,1)" font-size="6.8" text-anchor="middle" fill="#231f20" stroke="#231f20" stroke-width="0.25">†</text>
<path d="M194.20,614.10V612.50H215.30V614.10" fill="none" stroke="#1a1a1a" stroke-width="0.9"/>
<text transform="translate(205.20,611.20) scale(0.9288,1)" font-size="6.2" text-anchor="middle" fill="#231f20" stroke="#231f20" stroke-width="0.16">N.S.</text>
<path d="M204.90,629.30V627.70H215.30V629.30" fill="none" stroke="#1a1a1a" stroke-width="0.9"/>
<text transform="translate(210.30,626.00) scale(0.8500,1)" font-size="6.8" text-anchor="middle" fill="#231f20" stroke="#231f20" stroke-width="0.25">†††</text>
<path d="M183.30,634.30V632.70H205.40V634.30" fill="none" stroke="#1a1a1a" stroke-width="0.9"/>
<text transform="translate(187.30,631.20) scale(0.8500,1)" font-size="6.8" text-anchor="middle" fill="#231f20" stroke="#231f20" stroke-width="0.25">††</text>
</g>
<g>
<text transform="translate(246.40,565.80)" font-size="10.6" fill="#000" font-weight="bold" stroke="#000" stroke-width="0.22">U</text>
<line x1="264.90" y1="575.80" x2="271.90" y2="575.80" stroke="#1d4f91" stroke-width="1.1"/>
<circle cx="268.40" cy="575.80" r="1.80" fill="#1d4f91"/>
<text transform="translate(276.00,578.30) scale(0.8459,1)" font-size="7.3" fill="#231f20" stroke="#231f20" stroke-width="0.16">WT</text>
<line x1="310.70" y1="575.80" x2="317.70" y2="575.80" stroke="#c8102e" stroke-width="1.1"/>
<circle cx="314.20" cy="575.80" r="1.80" fill="#c8102e"/>
<text transform="translate(321.00,578.30) scale(1.0075,1)" font-size="7.3" fill="#231f20" stroke="#231f20" stroke-width="0.16">Sphk2<tspan dy="-2.92" font-size="4.09">Δ/Δ</tspan></text>
<line x1="264.90" y1="586.50" x2="271.90" y2="586.50" stroke="#3fb54a" stroke-width="1.1"/>
<circle cx="268.40" cy="586.50" r="1.80" fill="#3fb54a"/>
<text transform="translate(276.00,589.00) scale(1.0571,1)" font-size="7.3" fill="#231f20" stroke="#231f20" stroke-width="0.16">Pdk3<tspan dy="-2.92" font-size="4.09">Δ/+</tspan></text>
<line x1="310.70" y1="586.50" x2="317.70" y2="586.50" stroke="#5c2d87" stroke-width="1.1"/>
<circle cx="314.20" cy="586.50" r="1.80" fill="#5c2d87"/>
<text transform="translate(321.00,589.00) scale(1.1061,1)" font-size="7.3" fill="#231f20" stroke="#231f20" stroke-width="0.16">Sphk2<tspan dy="-2.92" font-size="4.09">Δ/Δ</tspan><tspan dy="2.92" font-size="7.30">; Pdk3</tspan><tspan dy="-2.92" font-size="4.09">Δ/+</tspan></text>
<line x1="268.80" y1="600.20" x2="268.80" y2="675.42" stroke="#1a1a1a" stroke-width="1.25"/>
<line x1="265.28" y1="674.80" x2="268.80" y2="674.80" stroke="#1a1a1a" stroke-width="1.0"/>
<text transform="translate(262.68,677.07) scale(0.9300,1)" font-size="6.4" text-anchor="end" fill="#231f20" stroke="#231f20" stroke-width="0.16">0</text>
<line x1="265.28" y1="657.12" x2="268.80" y2="657.12" stroke="#1a1a1a" stroke-width="1.0"/>
<text transform="translate(262.68,659.40) scale(0.9300,1)" font-size="6.4" text-anchor="end" fill="#231f20" stroke="#231f20" stroke-width="0.16">20</text>
<line x1="265.28" y1="639.45" x2="268.80" y2="639.45" stroke="#1a1a1a" stroke-width="1.0"/>
<text transform="translate(262.68,641.72) scale(0.9300,1)" font-size="6.4" text-anchor="end" fill="#231f20" stroke="#231f20" stroke-width="0.16">40</text>
<line x1="265.28" y1="621.77" x2="268.80" y2="621.77" stroke="#1a1a1a" stroke-width="1.0"/>
<text transform="translate(262.68,624.05) scale(0.9300,1)" font-size="6.4" text-anchor="end" fill="#231f20" stroke="#231f20" stroke-width="0.16">60</text>
<line x1="265.28" y1="604.10" x2="268.80" y2="604.10" stroke="#1a1a1a" stroke-width="1.0"/>
<text transform="translate(262.68,606.37) scale(0.9300,1)" font-size="6.4" text-anchor="end" fill="#231f20" stroke="#231f20" stroke-width="0.16">80</text>
<line x1="268.18" y1="674.80" x2="382.20" y2="674.80" stroke="#1a1a1a" stroke-width="1.25"/>
<line x1="268.80" y1="674.80" x2="268.80" y2="677.42" stroke="#1a1a1a" stroke-width="1.0"/>
<line x1="293.95" y1="674.80" x2="293.95" y2="677.42" stroke="#1a1a1a" stroke-width="1.0"/>
<line x1="319.10" y1="674.80" x2="319.10" y2="677.42" stroke="#1a1a1a" stroke-width="1.0"/>
<line x1="344.25" y1="674.80" x2="344.25" y2="677.42" stroke="#1a1a1a" stroke-width="1.0"/>
<line x1="369.40" y1="674.80" x2="369.40" y2="677.42" stroke="#1a1a1a" stroke-width="1.0"/>
<text transform="translate(268.80,685.60) scale(0.9300,1)" font-size="6.4" text-anchor="middle" fill="#231f20" stroke="#231f20" stroke-width="0.16">0</text>
<text transform="translate(293.95,685.60) scale(0.9300,1)" font-size="6.4" text-anchor="middle" fill="#231f20" stroke="#231f20" stroke-width="0.16">4</text>
<text transform="translate(319.10,685.60) scale(0.9300,1)" font-size="6.4" text-anchor="middle" fill="#231f20" stroke="#231f20" stroke-width="0.16">8</text>
<text transform="translate(344.25,685.60) scale(0.9300,1)" font-size="6.4" text-anchor="middle" fill="#231f20" stroke="#231f20" stroke-width="0.16">12</text>
<text transform="translate(369.40,685.60) scale(0.9300,1)" font-size="6.4" text-anchor="middle" fill="#231f20" stroke="#231f20" stroke-width="0.16">16</text>
<text transform="translate(323.40,696.40) scale(0.8881,1)" font-size="8.4" text-anchor="middle" fill="#231f20" stroke="#231f20" stroke-width="0.16">Time after transplantation (weeks)</text>
<text transform="translate(252.20,636.60) rotate(-90) scale(0.9316,1)" font-size="8.4" text-anchor="middle" fill="#231f20" stroke="#231f20" stroke-width="0.16">Donor derived (%)</text>
<polyline points="293.95,649.17 319.10,653.59 344.25,645.64 369.40,641.22" fill="none" stroke="#5c2d87" stroke-width="1.25"/>
<polyline points="293.95,650.05 319.10,652.71 344.25,648.29 369.40,641.22" fill="none" stroke="#3fb54a" stroke-width="1.25"/>
<polyline points="293.95,643.87 319.10,637.68 344.25,633.26 369.40,627.96" fill="none" stroke="#1d4f91" stroke-width="1.25"/>
<polyline points="293.95,634.15 319.10,627.96 344.25,619.12 369.40,609.40" fill="none" stroke="#c8102e" stroke-width="1.25"/>
<line x1="293.95" y1="647.40" x2="293.95" y2="650.94" stroke="#5c2d87" stroke-width="0.6"/>
<line x1="292.85" y1="647.40" x2="295.05" y2="647.40" stroke="#5c2d87" stroke-width="0.6"/>
<line x1="292.85" y1="650.94" x2="295.05" y2="650.94" stroke="#5c2d87" stroke-width="0.6"/>
<circle cx="289.15" cy="648.29" r="1.85" fill="#5c2d87"/>
<circle cx="291.75" cy="650.05" r="1.85" fill="#5c2d87"/>
<circle cx="294.25" cy="649.17" r="1.85" fill="#5c2d87"/>
<circle cx="296.55" cy="647.40" r="1.85" fill="#5c2d87"/>
<circle cx="298.95" cy="650.94" r="1.85" fill="#5c2d87"/>
<line x1="319.10" y1="651.82" x2="319.10" y2="655.36" stroke="#5c2d87" stroke-width="0.6"/>
<line x1="318.00" y1="651.82" x2="320.20" y2="651.82" stroke="#5c2d87" stroke-width="0.6"/>
<line x1="318.00" y1="655.36" x2="320.20" y2="655.36" stroke="#5c2d87" stroke-width="0.6"/>
<circle cx="314.30" cy="652.71" r="1.85" fill="#5c2d87"/>
<circle cx="316.90" cy="654.47" r="1.85" fill="#5c2d87"/>
<circle cx="319.40" cy="655.36" r="1.85" fill="#5c2d87"/>
<circle cx="321.70" cy="651.82" r="1.85" fill="#5c2d87"/>
<circle cx="324.10" cy="653.59" r="1.85" fill="#5c2d87"/>
<line x1="344.25" y1="642.10" x2="344.25" y2="648.29" stroke="#5c2d87" stroke-width="0.6"/>
<line x1="343.15" y1="642.10" x2="345.35" y2="642.10" stroke="#5c2d87" stroke-width="0.6"/>
<line x1="343.15" y1="648.29" x2="345.35" y2="648.29" stroke="#5c2d87" stroke-width="0.6"/>
<circle cx="339.45" cy="643.87" r="1.85" fill="#5c2d87"/>
<circle cx="342.05" cy="642.10" r="1.85" fill="#5c2d87"/>
<circle cx="344.55" cy="647.40" r="1.85" fill="#5c2d87"/>
<circle cx="346.85" cy="644.75" r="1.85" fill="#5c2d87"/>
<circle cx="349.25" cy="648.29" r="1.85" fill="#5c2d87"/>
<line x1="369.40" y1="637.68" x2="369.40" y2="643.87" stroke="#5c2d87" stroke-width="0.6"/>
<line x1="368.30" y1="637.68" x2="370.50" y2="637.68" stroke="#5c2d87" stroke-width="0.6"/>
<line x1="368.30" y1="643.87" x2="370.50" y2="643.87" stroke="#5c2d87" stroke-width="0.6"/>
<circle cx="364.60" cy="641.22" r="1.85" fill="#5c2d87"/>
<circle cx="367.20" cy="637.68" r="1.85" fill="#5c2d87"/>
<circle cx="369.70" cy="642.99" r="1.85" fill="#5c2d87"/>
<circle cx="372.00" cy="639.45" r="1.85" fill="#5c2d87"/>
<circle cx="374.40" cy="643.87" r="1.85" fill="#5c2d87"/>
<line x1="293.95" y1="648.29" x2="293.95" y2="655.36" stroke="#3fb54a" stroke-width="0.6"/>
<line x1="292.85" y1="648.29" x2="295.05" y2="648.29" stroke="#3fb54a" stroke-width="0.6"/>
<line x1="292.85" y1="655.36" x2="295.05" y2="655.36" stroke="#3fb54a" stroke-width="0.6"/>
<circle cx="289.15" cy="648.29" r="1.85" fill="#3fb54a"/>
<circle cx="291.75" cy="649.17" r="1.85" fill="#3fb54a"/>
<circle cx="294.25" cy="655.36" r="1.85" fill="#3fb54a"/>
<circle cx="296.55" cy="650.94" r="1.85" fill="#3fb54a"/>
<circle cx="298.95" cy="652.71" r="1.85" fill="#3fb54a"/>
<line x1="319.10" y1="648.29" x2="319.10" y2="656.24" stroke="#3fb54a" stroke-width="0.6"/>
<line x1="318.00" y1="648.29" x2="320.20" y2="648.29" stroke="#3fb54a" stroke-width="0.6"/>
<line x1="318.00" y1="656.24" x2="320.20" y2="656.24" stroke="#3fb54a" stroke-width="0.6"/>
<circle cx="314.30" cy="648.29" r="1.85" fill="#3fb54a"/>
<circle cx="316.90" cy="651.82" r="1.85" fill="#3fb54a"/>
<circle cx="319.40" cy="656.24" r="1.85" fill="#3fb54a"/>
<circle cx="321.70" cy="650.94" r="1.85" fill="#3fb54a"/>
<circle cx="324.10" cy="655.36" r="1.85" fill="#3fb54a"/>
<line x1="344.25" y1="643.87" x2="344.25" y2="653.59" stroke="#3fb54a" stroke-width="0.6"/>
<line x1="343.15" y1="643.87" x2="345.35" y2="643.87" stroke="#3fb54a" stroke-width="0.6"/>
<line x1="343.15" y1="653.59" x2="345.35" y2="653.59" stroke="#3fb54a" stroke-width="0.6"/>
<circle cx="339.45" cy="648.29" r="1.85" fill="#3fb54a"/>
<circle cx="342.05" cy="650.05" r="1.85" fill="#3fb54a"/>
<circle cx="344.55" cy="653.59" r="1.85" fill="#3fb54a"/>
<circle cx="346.85" cy="643.87" r="1.85" fill="#3fb54a"/>
<circle cx="349.25" cy="651.82" r="1.85" fill="#3fb54a"/>
<line x1="369.40" y1="635.03" x2="369.40" y2="645.64" stroke="#3fb54a" stroke-width="0.6"/>
<line x1="368.30" y1="635.03" x2="370.50" y2="635.03" stroke="#3fb54a" stroke-width="0.6"/>
<line x1="368.30" y1="645.64" x2="370.50" y2="645.64" stroke="#3fb54a" stroke-width="0.6"/>
<circle cx="364.60" cy="636.80" r="1.85" fill="#3fb54a"/>
<circle cx="367.20" cy="639.45" r="1.85" fill="#3fb54a"/>
<circle cx="369.70" cy="645.64" r="1.85" fill="#3fb54a"/>
<circle cx="372.00" cy="635.03" r="1.85" fill="#3fb54a"/>
<circle cx="374.40" cy="642.99" r="1.85" fill="#3fb54a"/>
<line x1="293.95" y1="642.10" x2="293.95" y2="648.29" stroke="#1d4f91" stroke-width="0.6"/>
<line x1="292.85" y1="642.10" x2="295.05" y2="642.10" stroke="#1d4f91" stroke-width="0.6"/>
<line x1="292.85" y1="648.29" x2="295.05" y2="648.29" stroke="#1d4f91" stroke-width="0.6"/>
<circle cx="289.15" cy="642.10" r="1.85" fill="#1d4f91"/>
<circle cx="291.75" cy="642.99" r="1.85" fill="#1d4f91"/>
<circle cx="294.25" cy="647.40" r="1.85" fill="#1d4f91"/>
<circle cx="296.55" cy="642.99" r="1.85" fill="#1d4f91"/>
<circle cx="298.95" cy="648.29" r="1.85" fill="#1d4f91"/>
<line x1="319.10" y1="632.38" x2="319.10" y2="642.99" stroke="#1d4f91" stroke-width="0.6"/>
<line x1="318.00" y1="632.38" x2="320.20" y2="632.38" stroke="#1d4f91" stroke-width="0.6"/>
<line x1="318.00" y1="642.99" x2="320.20" y2="642.99" stroke="#1d4f91" stroke-width="0.6"/>
<circle cx="314.30" cy="636.80" r="1.85" fill="#1d4f91"/>
<circle cx="316.90" cy="632.38" r="1.85" fill="#1d4f91"/>
<circle cx="319.40" cy="642.10" r="1.85" fill="#1d4f91"/>
<circle cx="321.70" cy="637.68" r="1.85" fill="#1d4f91"/>
<circle cx="324.10" cy="642.99" r="1.85" fill="#1d4f91"/>
<line x1="344.25" y1="629.73" x2="344.25" y2="641.22" stroke="#1d4f91" stroke-width="0.6"/>
<line x1="343.15" y1="629.73" x2="345.35" y2="629.73" stroke="#1d4f91" stroke-width="0.6"/>
<line x1="343.15" y1="641.22" x2="345.35" y2="641.22" stroke="#1d4f91" stroke-width="0.6"/>
<circle cx="339.45" cy="631.50" r="1.85" fill="#1d4f91"/>
<circle cx="342.05" cy="629.73" r="1.85" fill="#1d4f91"/>
<circle cx="344.55" cy="639.45" r="1.85" fill="#1d4f91"/>
<circle cx="346.85" cy="635.03" r="1.85" fill="#1d4f91"/>
<circle cx="349.25" cy="641.22" r="1.85" fill="#1d4f91"/>
<line x1="369.40" y1="620.01" x2="369.40" y2="634.15" stroke="#1d4f91" stroke-width="0.6"/>
<line x1="368.30" y1="620.01" x2="370.50" y2="620.01" stroke="#1d4f91" stroke-width="0.6"/>
<line x1="368.30" y1="634.15" x2="370.50" y2="634.15" stroke="#1d4f91" stroke-width="0.6"/>
<circle cx="364.60" cy="627.08" r="1.85" fill="#1d4f91"/>
<circle cx="367.20" cy="620.01" r="1.85" fill="#1d4f91"/>
<circle cx="369.70" cy="634.15" r="1.85" fill="#1d4f91"/>
<circle cx="372.00" cy="624.43" r="1.85" fill="#1d4f91"/>
<circle cx="374.40" cy="633.26" r="1.85" fill="#1d4f91"/>
<line x1="293.95" y1="632.38" x2="293.95" y2="637.68" stroke="#c8102e" stroke-width="0.6"/>
<line x1="292.85" y1="632.38" x2="295.05" y2="632.38" stroke="#c8102e" stroke-width="0.6"/>
<line x1="292.85" y1="637.68" x2="295.05" y2="637.68" stroke="#c8102e" stroke-width="0.6"/>
<circle cx="289.15" cy="632.38" r="1.85" fill="#c8102e"/>
<circle cx="291.75" cy="633.26" r="1.85" fill="#c8102e"/>
<circle cx="294.25" cy="637.68" r="1.85" fill="#c8102e"/>
<circle cx="296.55" cy="633.26" r="1.85" fill="#c8102e"/>
<circle cx="298.95" cy="637.68" r="1.85" fill="#c8102e"/>
<line x1="319.10" y1="622.66" x2="319.10" y2="633.26" stroke="#c8102e" stroke-width="0.6"/>
<line x1="318.00" y1="622.66" x2="320.20" y2="622.66" stroke="#c8102e" stroke-width="0.6"/>
<line x1="318.00" y1="633.26" x2="320.20" y2="633.26" stroke="#c8102e" stroke-width="0.6"/>
<circle cx="314.30" cy="622.66" r="1.85" fill="#c8102e"/>
<circle cx="316.90" cy="625.31" r="1.85" fill="#c8102e"/>
<circle cx="319.40" cy="630.61" r="1.85" fill="#c8102e"/>
<circle cx="321.70" cy="628.85" r="1.85" fill="#c8102e"/>
<circle cx="324.10" cy="633.26" r="1.85" fill="#c8102e"/>
<line x1="344.25" y1="614.71" x2="344.25" y2="623.54" stroke="#c8102e" stroke-width="0.6"/>
<line x1="343.15" y1="614.71" x2="345.35" y2="614.71" stroke="#c8102e" stroke-width="0.6"/>
<line x1="343.15" y1="623.54" x2="345.35" y2="623.54" stroke="#c8102e" stroke-width="0.6"/>
<circle cx="339.45" cy="614.71" r="1.85" fill="#c8102e"/>
<circle cx="342.05" cy="616.47" r="1.85" fill="#c8102e"/>
<circle cx="344.55" cy="621.77" r="1.85" fill="#c8102e"/>
<circle cx="346.85" cy="617.36" r="1.85" fill="#c8102e"/>
<circle cx="349.25" cy="623.54" r="1.85" fill="#c8102e"/>
<line x1="369.40" y1="605.87" x2="369.40" y2="612.94" stroke="#c8102e" stroke-width="0.6"/>
<line x1="368.30" y1="605.87" x2="370.50" y2="605.87" stroke="#c8102e" stroke-width="0.6"/>
<line x1="368.30" y1="612.94" x2="370.50" y2="612.94" stroke="#c8102e" stroke-width="0.6"/>
<circle cx="364.60" cy="605.87" r="1.85" fill="#c8102e"/>
<circle cx="367.20" cy="607.63" r="1.85" fill="#c8102e"/>
<circle cx="369.70" cy="611.17" r="1.85" fill="#c8102e"/>
<circle cx="372.00" cy="610.29" r="1.85" fill="#c8102e"/>
<circle cx="374.40" cy="612.94" r="1.85" fill="#c8102e"/>
<text transform="translate(293.95,627.70) scale(0.8200,1)" font-size="7.6" text-anchor="middle" fill="#c8102e" stroke="#c8102e" stroke-width="0.25">†††</text>
<text transform="translate(293.95,663.90) scale(0.8200,1)" font-size="7.6" text-anchor="middle" fill="#3fb54a" stroke="#3fb54a" stroke-width="0.25">††</text>
<text transform="translate(319.10,617.90) scale(0.8200,1)" font-size="7.6" text-anchor="middle" fill="#c8102e" stroke="#c8102e" stroke-width="0.25">††</text>
<text transform="translate(319.10,663.90) scale(0.8200,1)" font-size="7.6" text-anchor="middle" fill="#3fb54a" stroke="#3fb54a" stroke-width="0.25">†††</text>
<text transform="translate(319.10,670.10) scale(0.8200,1)" font-size="7.6" text-anchor="middle" fill="#5c2d87" stroke="#5c2d87" stroke-width="0.25">†††</text>
<text transform="translate(344.25,608.50) scale(0.8200,1)" font-size="7.6" text-anchor="middle" fill="#c8102e" stroke="#c8102e" stroke-width="0.25">†††</text>
<text transform="translate(344.25,663.90) scale(0.8200,1)" font-size="7.6" text-anchor="middle" fill="#3fb54a" stroke="#3fb54a" stroke-width="0.25">†††</text>
<text transform="translate(344.25,670.10) scale(0.8200,1)" font-size="7.6" text-anchor="middle" fill="#5c2d87" stroke="#5c2d87" stroke-width="0.25">††</text>
<text transform="translate(369.40,600.90) scale(0.8200,1)" font-size="7.6" text-anchor="middle" fill="#c8102e" stroke="#c8102e" stroke-width="0.25">†††</text>
<text transform="translate(369.40,654.90) scale(0.8200,1)" font-size="7.6" text-anchor="middle" fill="#3fb54a" stroke="#3fb54a" stroke-width="0.25">††</text>
<text transform="translate(369.40,661.50) scale(0.8200,1)" font-size="7.6" text-anchor="middle" fill="#5c2d87" stroke="#5c2d87" stroke-width="0.25">†††</text>
</g>
<g>
<text transform="translate(394.00,566.20)" font-size="10.6" fill="#000" font-weight="bold" stroke="#000" stroke-width="0.22">V</text>
<rect x="396.40" y="572.70" width="5.60" height="5.60" fill="#6a2c8e"/>
<text transform="translate(405.00,578.00) scale(0.9938,1)" font-size="7.3" fill="#231f20" stroke="#231f20" stroke-width="0.16">Myeloid</text>
<rect x="396.40" y="581.50" width="5.60" height="5.60" fill="#f59b1f"/>
<text transform="translate(405.00,586.80) scale(1.0683,1)" font-size="7.3" fill="#231f20" stroke="#231f20" stroke-width="0.16">T lymphoid</text>
<rect x="396.40" y="590.20" width="5.60" height="5.60" fill="#177a5b"/>
<text transform="translate(405.00,595.50) scale(1.0744,1)" font-size="7.3" fill="#231f20" stroke="#231f20" stroke-width="0.16">B lymphoid</text>
<circle cx="454.50" cy="567.50" r="2.80" fill="#1d5a9c"/>
<text transform="translate(460.50,570.00) scale(0.8459,1)" font-size="7.3" fill="#231f20" stroke="#231f20" stroke-width="0.16">WT</text>
<circle cx="454.50" cy="576.30" r="2.80" fill="#41b649"/>
<text transform="translate(460.50,578.80) scale(1.0571,1)" font-size="7.3" fill="#231f20" stroke="#231f20" stroke-width="0.16">Pdk3<tspan dy="-2.92" font-size="4.09">Δ/+</tspan></text>
<circle cx="454.50" cy="585.50" r="2.80" fill="#c8102e"/>
<text transform="translate(460.50,588.00) scale(1.0075,1)" font-size="7.3" fill="#231f20" stroke="#231f20" stroke-width="0.16">Sphk2<tspan dy="-2.92" font-size="4.09">Δ/Δ</tspan></text>
<circle cx="454.50" cy="594.50" r="2.80" fill="#5c2d87"/>
<text transform="translate(460.50,597.00) scale(1.0876,1)" font-size="7.3" fill="#231f20" stroke="#231f20" stroke-width="0.16">Sphk2<tspan dy="-2.92" font-size="4.09">Δ/Δ</tspan><tspan dy="2.92" font-size="7.30">; Pdk3</tspan><tspan dy="-2.92" font-size="4.09">Δ/+</tspan></text>
<line x1="421.60" y1="604.60" x2="421.60" y2="675.92" stroke="#1a1a1a" stroke-width="1.25"/>
<line x1="418.08" y1="675.30" x2="421.60" y2="675.30" stroke="#1a1a1a" stroke-width="1.0"/>
<text transform="translate(415.48,677.57) scale(0.9300,1)" font-size="6.4" text-anchor="end" fill="#231f20" stroke="#231f20" stroke-width="0.16">0</text>
<line x1="418.08" y1="661.92" x2="421.60" y2="661.92" stroke="#1a1a1a" stroke-width="1.0"/>
<text transform="translate(415.48,664.19) scale(0.9300,1)" font-size="6.4" text-anchor="end" fill="#231f20" stroke="#231f20" stroke-width="0.16">20</text>
<line x1="418.08" y1="648.54" x2="421.60" y2="648.54" stroke="#1a1a1a" stroke-width="1.0"/>
<text transform="translate(415.48,650.81) scale(0.9300,1)" font-size="6.4" text-anchor="end" fill="#231f20" stroke="#231f20" stroke-width="0.16">40</text>
<line x1="418.08" y1="635.16" x2="421.60" y2="635.16" stroke="#1a1a1a" stroke-width="1.0"/>
<text transform="translate(415.48,637.43) scale(0.9300,1)" font-size="6.4" text-anchor="end" fill="#231f20" stroke="#231f20" stroke-width="0.16">60</text>
<line x1="418.08" y1="621.78" x2="421.60" y2="621.78" stroke="#1a1a1a" stroke-width="1.0"/>
<text transform="translate(415.48,624.05) scale(0.9300,1)" font-size="6.4" text-anchor="end" fill="#231f20" stroke="#231f20" stroke-width="0.16">80</text>
<line x1="418.08" y1="608.40" x2="421.60" y2="608.40" stroke="#1a1a1a" stroke-width="1.0"/>
<text transform="translate(415.48,610.67) scale(0.9300,1)" font-size="6.4" text-anchor="end" fill="#231f20" stroke="#231f20" stroke-width="0.16">100</text>
<line x1="420.98" y1="675.30" x2="497.10" y2="675.30" stroke="#1a1a1a" stroke-width="1.25"/>
<line x1="428.90" y1="675.30" x2="428.90" y2="677.92" stroke="#1a1a1a" stroke-width="1.0"/>
<line x1="450.10" y1="675.30" x2="450.10" y2="677.92" stroke="#1a1a1a" stroke-width="1.0"/>
<line x1="471.40" y1="675.30" x2="471.40" y2="677.92" stroke="#1a1a1a" stroke-width="1.0"/>
<line x1="492.60" y1="675.30" x2="492.60" y2="677.92" stroke="#1a1a1a" stroke-width="1.0"/>
<rect x="425.80" y="643.86" width="6.20" height="31.44" fill="#177a5b"/>
<rect x="425.80" y="625.79" width="6.20" height="18.06" fill="#f59b1f"/>
<rect x="425.80" y="608.40" width="6.20" height="17.39" fill="#6a2c8e"/>
<line x1="428.90" y1="605.05" x2="428.90" y2="608.40" stroke="#1a1a1a" stroke-width="0.7"/>
<line x1="427.50" y1="605.05" x2="430.30" y2="605.05" stroke="#1a1a1a" stroke-width="0.7"/>
<line x1="427.50" y1="608.40" x2="430.30" y2="608.40" stroke="#1a1a1a" stroke-width="0.7"/>
<rect x="447.00" y="643.86" width="6.20" height="31.44" fill="#177a5b"/>
<rect x="447.00" y="633.82" width="6.20" height="10.03" fill="#f59b1f"/>
<rect x="447.00" y="608.40" width="6.20" height="25.42" fill="#6a2c8e"/>
<line x1="450.10" y1="605.05" x2="450.10" y2="608.40" stroke="#1a1a1a" stroke-width="0.7"/>
<line x1="448.70" y1="605.05" x2="451.50" y2="605.05" stroke="#1a1a1a" stroke-width="0.7"/>
<line x1="448.70" y1="608.40" x2="451.50" y2="608.40" stroke="#1a1a1a" stroke-width="0.7"/>
<rect x="468.30" y="641.85" width="6.20" height="33.45" fill="#177a5b"/>
<rect x="468.30" y="619.77" width="6.20" height="22.08" fill="#f59b1f"/>
<rect x="468.30" y="608.40" width="6.20" height="11.37" fill="#6a2c8e"/>
<line x1="471.40" y1="605.05" x2="471.40" y2="608.40" stroke="#1a1a1a" stroke-width="0.7"/>
<line x1="470.00" y1="605.05" x2="472.80" y2="605.05" stroke="#1a1a1a" stroke-width="0.7"/>
<line x1="470.00" y1="608.40" x2="472.80" y2="608.40" stroke="#1a1a1a" stroke-width="0.7"/>
<rect x="489.50" y="644.53" width="6.20" height="30.77" fill="#177a5b"/>
<rect x="489.50" y="633.15" width="6.20" height="11.37" fill="#f59b1f"/>
<rect x="489.50" y="608.40" width="6.20" height="24.75" fill="#6a2c8e"/>
<line x1="492.60" y1="605.05" x2="492.60" y2="608.40" stroke="#1a1a1a" stroke-width="0.7"/>
<line x1="491.20" y1="605.05" x2="494.00" y2="605.05" stroke="#1a1a1a" stroke-width="0.7"/>
<line x1="491.20" y1="608.40" x2="494.00" y2="608.40" stroke="#1a1a1a" stroke-width="0.7"/>
<line x1="428.90" y1="641.85" x2="428.90" y2="643.86" stroke="#1a1a1a" stroke-width="0.8"/>
<line x1="427.50" y1="641.85" x2="430.30" y2="641.85" stroke="#1a1a1a" stroke-width="0.8"/>
<line x1="428.90" y1="624.79" x2="428.90" y2="625.79" stroke="#1a1a1a" stroke-width="0.8"/>
<line x1="427.50" y1="624.79" x2="430.30" y2="624.79" stroke="#1a1a1a" stroke-width="0.8"/>
<line x1="450.10" y1="641.85" x2="450.10" y2="643.86" stroke="#1a1a1a" stroke-width="0.8"/>
<line x1="448.70" y1="641.85" x2="451.50" y2="641.85" stroke="#1a1a1a" stroke-width="0.8"/>
<line x1="450.10" y1="632.48" x2="450.10" y2="633.82" stroke="#1a1a1a" stroke-width="0.8"/>
<line x1="448.70" y1="632.48" x2="451.50" y2="632.48" stroke="#1a1a1a" stroke-width="0.8"/>
<line x1="471.40" y1="635.83" x2="471.40" y2="641.85" stroke="#1a1a1a" stroke-width="0.8"/>
<line x1="470.00" y1="635.83" x2="472.80" y2="635.83" stroke="#1a1a1a" stroke-width="0.8"/>
<line x1="492.60" y1="641.18" x2="492.60" y2="644.53" stroke="#1a1a1a" stroke-width="0.8"/>
<line x1="491.20" y1="641.18" x2="494.00" y2="641.18" stroke="#1a1a1a" stroke-width="0.8"/>
<line x1="492.60" y1="631.81" x2="492.60" y2="633.15" stroke="#1a1a1a" stroke-width="0.8"/>
<line x1="491.20" y1="631.81" x2="494.00" y2="631.81" stroke="#1a1a1a" stroke-width="0.8"/>
<circle cx="428.90" cy="683.30" r="2.80" fill="#1d5a9c"/>
<circle cx="450.10" cy="683.30" r="2.80" fill="#41b649"/>
<circle cx="471.40" cy="683.30" r="2.80" fill="#c8102e"/>
<circle cx="492.60" cy="683.30" r="2.80" fill="#5c2d87"/>
<text transform="translate(458.80,695.50) scale(0.8611,1)" font-size="8.4" text-anchor="middle" fill="#231f20" stroke="#231f20" stroke-width="0.16">16 weeks after transplantation</text>
<text transform="translate(400.00,638.80) rotate(-90) scale(0.9536,1)" font-size="8.4" text-anchor="middle" fill="#231f20" stroke="#231f20" stroke-width="0.16">Donor derived (%)</text>
<line x1="432.00" y1="612.90" x2="489.50" y2="612.90" stroke="#1a1a1a" stroke-width="0.8"/>
<text transform="translate(460.80,611.10) scale(0.8500,1)" font-size="6.8" text-anchor="middle" fill="#231f20" stroke="#231f20" stroke-width="0.25">††</text>
<text transform="translate(481.00,611.10) scale(0.8500,1)" font-size="6.8" text-anchor="middle" fill="#231f20" stroke="#231f20" stroke-width="0.25">†††</text>
<line x1="432.00" y1="621.70" x2="447.00" y2="621.70" stroke="#1a1a1a" stroke-width="0.8"/>
<text transform="translate(438.60,619.90) scale(0.8500,1)" font-size="6.8" text-anchor="middle" fill="#231f20" stroke="#231f20" stroke-width="0.25">†††</text>
<line x1="432.00" y1="637.90" x2="447.00" y2="637.90" stroke="#1a1a1a" stroke-width="0.8"/>
<text transform="translate(438.60,636.10) scale(0.8500,1)" font-size="6.8" text-anchor="middle" fill="#231f20" stroke="#231f20" stroke-width="0.25">†††</text>
<line x1="474.50" y1="635.20" x2="489.50" y2="635.20" stroke="#1a1a1a" stroke-width="0.8"/>
<text transform="translate(481.80,633.50) scale(0.8500,1)" font-size="6.8" text-anchor="middle" fill="#231f20" stroke="#231f20" stroke-width="0.25">††</text>
</g>
</svg></body></html>
